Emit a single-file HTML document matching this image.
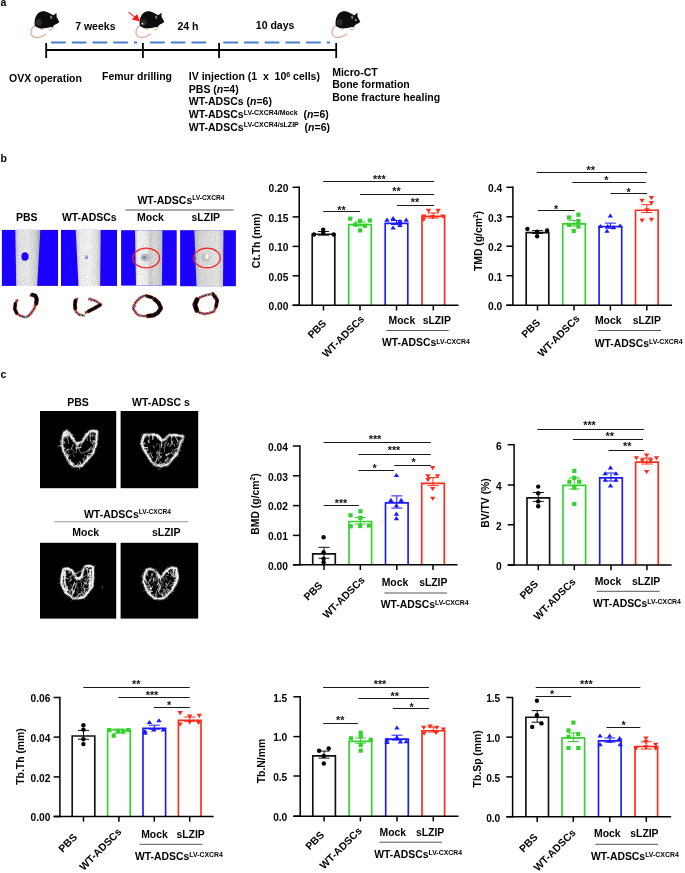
<!DOCTYPE html>
<html><head><meta charset="utf-8"><style>
html,body{margin:0;padding:0;background:#fff;}
svg{display:block;will-change:transform;}
text{font-family:"Liberation Sans",sans-serif;font-weight:bold;}
</style></head><body>
<svg width="685" height="873" viewBox="0 0 685 873">
<rect width="685" height="873" fill="#fff"/>
<text x="0.40" y="6.00" font-size="10.5" text-anchor="start" fill="#000" >a</text>
<g transform="translate(0.00,0.00)"><path d="M35.6,25.2 C32.6,27.2 30.4,30.8 31.1,34.0 C31.9,37.4 36.5,38.2 40.6,36.9 C42.6,36.2 44.3,35.2 45.6,34.2" fill="none" stroke="#e3ab98" stroke-width="1.25" stroke-linecap="round"/><ellipse cx="41.8" cy="28.9" rx="1.6" ry="0.9" fill="#e8b4a4"/><ellipse cx="50.6" cy="29.7" rx="1.5" ry="0.9" fill="#e8b4a4"/><ellipse cx="52.6" cy="27.9" rx="1.3" ry="0.8" fill="#e8b4a4"/><path d="M34.8,25.5 C34.0,21.0 35.3,15.6 38.4,13.0 C41.0,10.9 45.2,10.6 49.0,13.0 L53.4,15.3 L56.4,12.9 L56.6,17.0 C57.6,18.7 58.6,20.4 59.3,21.9 C58.1,23.3 56.1,24.2 53.8,25.3 L52.8,27.2 L51.2,27.0 C48.2,27.9 45.0,28.4 41.6,28.4 C38.6,28.4 36.1,27.3 34.8,25.5 Z" fill="#0d0d0d"/><ellipse cx="38.6" cy="22.4" rx="3.0" ry="3.4" fill="#303030" opacity="0.85"/><ellipse cx="51.2" cy="17.4" rx="1.1" ry="1.7" fill="#8a7a6a" transform="rotate(-15 51.2 17.4)"/><path d="M55.6,13.4 L56.4,12.9 L56.5,16.2 Z" fill="#6a6a6a"/></g>
<g transform="translate(105.00,-0.10)"><path d="M35.6,25.2 C32.6,27.2 30.4,30.8 31.1,34.0 C31.9,37.4 36.5,38.2 40.6,36.9 C42.6,36.2 44.3,35.2 45.6,34.2" fill="none" stroke="#e3ab98" stroke-width="1.25" stroke-linecap="round"/><ellipse cx="41.8" cy="28.9" rx="1.6" ry="0.9" fill="#e8b4a4"/><ellipse cx="50.6" cy="29.7" rx="1.5" ry="0.9" fill="#e8b4a4"/><ellipse cx="52.6" cy="27.9" rx="1.3" ry="0.8" fill="#e8b4a4"/><path d="M34.8,25.5 C34.0,21.0 35.3,15.6 38.4,13.0 C41.0,10.9 45.2,10.6 49.0,13.0 L53.4,15.3 L56.4,12.9 L56.6,17.0 C57.6,18.7 58.6,20.4 59.3,21.9 C58.1,23.3 56.1,24.2 53.8,25.3 L52.8,27.2 L51.2,27.0 C48.2,27.9 45.0,28.4 41.6,28.4 C38.6,28.4 36.1,27.3 34.8,25.5 Z" fill="#0d0d0d"/><ellipse cx="38.6" cy="22.4" rx="3.0" ry="3.4" fill="#303030" opacity="0.85"/><ellipse cx="51.2" cy="17.4" rx="1.1" ry="1.7" fill="#8a7a6a" transform="rotate(-15 51.2 17.4)"/><path d="M55.6,13.4 L56.4,12.9 L56.5,16.2 Z" fill="#6a6a6a"/><rect x="36.60" y="23.00" width="1.6" height="1.6" fill="#f4f4f4"/></g>
<g transform="translate(301.00,-0.10)"><path d="M35.6,25.2 C32.6,27.2 30.4,30.8 31.1,34.0 C31.9,37.4 36.5,38.2 40.6,36.9 C42.6,36.2 44.3,35.2 45.6,34.2" fill="none" stroke="#e3ab98" stroke-width="1.25" stroke-linecap="round"/><ellipse cx="41.8" cy="28.9" rx="1.6" ry="0.9" fill="#e8b4a4"/><ellipse cx="50.6" cy="29.7" rx="1.5" ry="0.9" fill="#e8b4a4"/><ellipse cx="52.6" cy="27.9" rx="1.3" ry="0.8" fill="#e8b4a4"/><path d="M34.8,25.5 C34.0,21.0 35.3,15.6 38.4,13.0 C41.0,10.9 45.2,10.6 49.0,13.0 L53.4,15.3 L56.4,12.9 L56.6,17.0 C57.6,18.7 58.6,20.4 59.3,21.9 C58.1,23.3 56.1,24.2 53.8,25.3 L52.8,27.2 L51.2,27.0 C48.2,27.9 45.0,28.4 41.6,28.4 C38.6,28.4 36.1,27.3 34.8,25.5 Z" fill="#0d0d0d"/><ellipse cx="38.6" cy="22.4" rx="3.0" ry="3.4" fill="#303030" opacity="0.85"/><ellipse cx="51.2" cy="17.4" rx="1.1" ry="1.7" fill="#8a7a6a" transform="rotate(-15 51.2 17.4)"/><path d="M55.6,13.4 L56.4,12.9 L56.5,16.2 Z" fill="#6a6a6a"/><rect x="54.2" y="19.4" width="1.3" height="1.5" fill="#eee"/></g>
<line x1="128.5" y1="12.1" x2="135.5" y2="17.6" stroke="#ff1a1a" stroke-width="1.1"/>
<path d="M140.2,21.6 L131.8,19.6 L137.0,14.0 Z" fill="#ff1a1a"/>
<line x1="51.1" y1="42.6" x2="137.0" y2="42.6" stroke="#4a7fcc" stroke-width="2" stroke-dasharray="14.7 6.0"/>
<line x1="150.1" y1="42.6" x2="206.9" y2="42.6" stroke="#4a7fcc" stroke-width="2" stroke-dasharray="14.7 6.0"/>
<line x1="223.3" y1="42.6" x2="330.0" y2="42.6" stroke="#4a7fcc" stroke-width="2" stroke-dasharray="14.7 6.0"/>
<line x1="45.50" y1="50.00" x2="336.50" y2="50.00" stroke="#000" stroke-width="1.8" />
<line x1="46.20" y1="43.00" x2="46.20" y2="58.00" stroke="#000" stroke-width="1.8" />
<line x1="142.90" y1="43.00" x2="142.90" y2="58.00" stroke="#000" stroke-width="1.8" />
<line x1="219.10" y1="43.00" x2="219.10" y2="58.00" stroke="#000" stroke-width="1.8" />
<line x1="336.20" y1="43.00" x2="336.20" y2="58.00" stroke="#000" stroke-width="1.8" />
<text x="75.20" y="29.80" font-size="10.5" text-anchor="start" fill="#000" >7 weeks</text>
<text x="177.40" y="29.80" font-size="10.5" text-anchor="start" fill="#000" >24 h</text>
<text x="255.80" y="29.30" font-size="10.5" text-anchor="start" fill="#000" >10 days</text>
<text x="9.00" y="81.50" font-size="10.5" text-anchor="start" fill="#000" >OVX operation</text>
<text x="102.00" y="79.70" font-size="10.5" text-anchor="start" fill="#000" >Femur drilling</text>
<text x="188.80" y="80.40" font-size="10.5" text-anchor="start" fill="#000" >IV injection (1&#160; x&#160; 10<tspan font-size="7" dy="-3.8">6</tspan><tspan dy="3.8"> cells)</tspan></text>
<text x="188.80" y="92.80" font-size="10.5" text-anchor="start" fill="#000" >PBS (<tspan font-style="italic">n</tspan>=4)</text>
<text x="188.80" y="105.40" font-size="10.5" text-anchor="start" fill="#000" >WT-ADSCs (<tspan font-style="italic">n</tspan>=6)</text>
<text x="188.80" y="118.20" font-size="10.5" text-anchor="start" fill="#000" >WT-ADSCs<tspan font-size="7" dy="-3.6">LV-CXCR4/Mock</tspan><tspan dy="3.6">&#160; (</tspan><tspan font-style="italic">n</tspan>=6)</text>
<text x="188.80" y="130.60" font-size="10.5" text-anchor="start" fill="#000" >WT-ADSCs<tspan font-size="7" dy="-3.6">LV-CXCR4/sLZIP</tspan><tspan dy="3.6">&#160; (</tspan><tspan font-style="italic">n</tspan>=6)</text>
<text x="332.20" y="75.90" font-size="10.5" text-anchor="start" fill="#000" >Micro-CT</text>
<text x="332.20" y="88.30" font-size="10.5" text-anchor="start" fill="#000" >Bone formation</text>
<text x="332.20" y="100.70" font-size="10.5" text-anchor="start" fill="#000" >Bone fracture healing</text>
<text x="0.40" y="162.00" font-size="10.5" text-anchor="start" fill="#000" >b</text>
<text x="26.70" y="221.20" font-size="10.5" text-anchor="middle" fill="#000" >PBS</text>
<text x="89.30" y="221.20" font-size="10.5" text-anchor="middle" fill="#000" >WT-ADSCs</text>
<text x="137.40" y="204.00" font-size="10.5" text-anchor="start" fill="#000" >WT-ADSCs<tspan font-size="6.6" dy="-4.2">LV-CXCR4</tspan></text>
<line x1="125.40" y1="210.00" x2="233.60" y2="210.00" stroke="#444" stroke-width="0.9" />
<text x="150.40" y="221.00" font-size="10.5" text-anchor="middle" fill="#000" >Mock</text>
<text x="205.80" y="221.00" font-size="10.5" text-anchor="middle" fill="#000" >sLZIP</text>
<defs>
<linearGradient id="bone1" x1="0" x2="1" y1="0" y2="0">
 <stop offset="0" stop-color="#c8c8c8"/><stop offset="0.15" stop-color="#e6e6e6"/><stop offset="0.5" stop-color="#ededed"/><stop offset="0.8" stop-color="#d8d8d8"/><stop offset="1" stop-color="#a8a8a8"/>
</linearGradient>
<linearGradient id="bone2" x1="0" x2="1" y1="0" y2="0">
 <stop offset="0" stop-color="#cfcfcf"/><stop offset="0.2" stop-color="#f2f2f2"/><stop offset="0.55" stop-color="#f7f7f7"/><stop offset="0.85" stop-color="#e4e4e4"/><stop offset="1" stop-color="#bdbdbd"/>
</linearGradient>
<linearGradient id="bone3" x1="0" x2="1" y1="0" y2="0">
 <stop offset="0" stop-color="#d0d0d0"/><stop offset="0.12" stop-color="#f8f8f8"/><stop offset="0.45" stop-color="#f0f0f0"/><stop offset="0.55" stop-color="#cfcfcf"/><stop offset="0.7" stop-color="#e0e0e0"/><stop offset="1" stop-color="#c4c4c4"/>
</linearGradient>
<linearGradient id="bone4" x1="0" x2="1" y1="0" y2="0">
 <stop offset="0" stop-color="#bdbdbd"/><stop offset="0.2" stop-color="#dadada"/><stop offset="0.5" stop-color="#e2e2e2"/><stop offset="0.8" stop-color="#e8e8e8"/><stop offset="1" stop-color="#c8c8c8"/>
</linearGradient>
</defs>
<defs><filter id="speck" x="0" y="0" width="1" height="1">
<feTurbulence type="fractalNoise" baseFrequency="0.9" numOctaves="2" seed="3" result="n"/>
<feColorMatrix in="n" type="matrix" values="0 0 0 0 0  0 0 0 0 0  0 0 0 0 0  0 0 0 -2.2 1.35" result="m"/>
<feComposite in="m" in2="SourceGraphic" operator="in"/>
</filter></defs>
<rect x="1.9" y="229.9" width="56.10" height="56.00" fill="#1b00ff"/>
<path d="M15.3,229.9 L40.3,229.9 L37.2,285.9 L16.2,285.9 Z" fill="url(#bone1)"/>
<path d="M15.3,229.9 L40.3,229.9 L37.2,285.9 L16.2,285.9 Z" fill="#000" opacity="0.13" filter="url(#speck)"/>
<ellipse cx="25.0" cy="256.5" rx="3.6" ry="4.3" fill="#1b00ff"/>
<rect x="61.0" y="229.9" width="56.00" height="56.00" fill="#1b00ff"/>
<path d="M75.7,229.9 L100.7,229.9 L100.2,285.9 L78.5,285.9 Z" fill="url(#bone2)"/>
<path d="M75.7,229.9 L100.7,229.9 L100.2,285.9 L78.5,285.9 Z" fill="#000" opacity="0.13" filter="url(#speck)"/>
<path d="M85.5,254 l1,4 l1.5,-3 l-0.5,3.5 l-2,0.5 z" fill="#3a3af0"/>
<rect x="121.1" y="230.2" width="55.60" height="55.40" fill="#1b00ff"/>
<path d="M135.0,230.2 L162.4,230.2 L162.0,285.6 L136.0,285.6 Z" fill="url(#bone3)"/>
<path d="M135.0,230.2 L162.4,230.2 L162.0,285.6 L136.0,285.6 Z" fill="#000" opacity="0.13" filter="url(#speck)"/>
<ellipse cx="145.5" cy="257.5" rx="5" ry="4" fill="#b8b8c0"/>
<ellipse cx="144.5" cy="257.5" rx="2" ry="1.5" fill="#8080b0"/>
<rect x="180.1" y="230.2" width="55.80" height="56.00" fill="#1b00ff"/>
<path d="M194.3,230.2 L223.5,230.2 L223.0,286.2 L196.5,286.2 Z" fill="url(#bone4)"/>
<path d="M194.3,230.2 L223.5,230.2 L223.0,286.2 L196.5,286.2 Z" fill="#000" opacity="0.13" filter="url(#speck)"/>
<ellipse cx="206" cy="257.5" rx="4.5" ry="4" fill="#c0c0c0"/>
<ellipse cx="207" cy="256.5" rx="2" ry="2.5" fill="#f4f4f4"/>
<ellipse cx="146.3" cy="258" rx="13.3" ry="9.8" fill="none" stroke="#ff2020" stroke-width="1.3"/>
<ellipse cx="207.0" cy="258" rx="13.3" ry="9.8" fill="none" stroke="#ff2020" stroke-width="1.3"/>
<path d="M17.3,300.2 L15.2,304.0 L14.4,309.0 L16.5,313.5 L20.2,315.5 L24.0,317.0 L27.5,317.0 L31.0,313.5 L34.1,309.0 L36.3,303.0 L36.8,298.8 L35.5,295.5 L33.4,294.4 L30.6,295.6" fill="none" stroke="#e0703a" stroke-width="2.6" stroke-linejoin="round" stroke-linecap="round"/>
<path d="M17.3,300.2 L15.2,304.0 L14.4,309.0 L16.5,313.5 L20.2,315.5 L24.0,317.0 L27.5,317.0 L31.0,313.5 L34.1,309.0 L36.3,303.0 L36.8,298.8 L35.5,295.5 L33.4,294.4 L30.6,295.6" fill="none" stroke="#401808" stroke-width="1.0" stroke-linejoin="round" stroke-linecap="round" stroke-dasharray="2 1.5"/>
<path d="M17.3,300.2 L15.2,304.0 L14.4,309.0 L16.5,313.5 L20.2,315.5 L24.0,317.0 L27.5,317.0 L31.0,313.5 L34.1,309.0 L36.3,303.0 L36.8,298.8 L35.5,295.5 L33.4,294.4 L30.6,295.6" fill="none" stroke="#5a4aff" stroke-width="1.1" stroke-dasharray="1.2 1.8" transform="translate(-1.1,-0.5)"/>
<path d="M36.2,303.5 L36.7,299.0 L35.3,295.8 L32.5,294.8" fill="none" stroke="#b04a20" stroke-width="4.4" stroke-linejoin="round" stroke-linecap="round"/>
<path d="M36.2,303.5 L36.7,299.0 L35.3,295.8 L32.5,294.8" fill="none" stroke="#000" stroke-width="3.4" stroke-linejoin="round" stroke-linecap="round"/>
<path d="M15.4,303.5 L14.8,309.0 L16.8,313.2" fill="none" stroke="#b04a20" stroke-width="3.6" stroke-linejoin="round" stroke-linecap="round"/>
<path d="M15.4,303.5 L14.8,309.0 L16.8,313.2" fill="none" stroke="#000" stroke-width="2.6" stroke-linejoin="round" stroke-linecap="round"/>
<path d="M17.3,300.2 L15.2,304.0 L14.4,309.0 L16.5,313.5 L20.2,315.5 L24.0,317.0 L27.5,317.0 L31.0,313.5 L34.1,309.0 L36.3,303.0 L36.8,298.8 L35.5,295.5 L33.4,294.4 L30.6,295.6" fill="none" stroke="#3a3aff" stroke-width="0.9" stroke-dasharray="1.2 3.5" transform="translate(-0.9,0.6)"/>
<rect x="25.0" y="316.3" width="1.2" height="1.2" fill="#40ff90"/>
<rect x="27.0" y="316.8" width="1.2" height="1.2" fill="#40ff90"/>
<rect x="22.5" y="316.5" width="1.2" height="1.2" fill="#5050ff"/>
<path d="M77.2,298.8 L74.6,302.0 L74.6,307.0 L75.9,311.6 L79.0,314.5 L83.7,315.5" fill="none" stroke="#e0703a" stroke-width="2.6" stroke-linejoin="round" stroke-linecap="round"/>
<path d="M77.2,298.8 L74.6,302.0 L74.6,307.0 L75.9,311.6 L79.0,314.5 L83.7,315.5" fill="none" stroke="#401808" stroke-width="1.0" stroke-linejoin="round" stroke-linecap="round" stroke-dasharray="2 1.5"/>
<path d="M77.2,298.8 L74.6,302.0 L74.6,307.0 L75.9,311.6 L79.0,314.5 L83.7,315.5" fill="none" stroke="#5a4aff" stroke-width="1.1" stroke-dasharray="1.2 1.8" transform="translate(-1.1,-0.5)"/>
<path d="M75.6,300.5 L74.9,304.0 L75.3,308.5" fill="none" stroke="#b04a20" stroke-width="4.0" stroke-linejoin="round" stroke-linecap="round"/>
<path d="M75.6,300.5 L74.9,304.0 L75.3,308.5" fill="none" stroke="#000" stroke-width="3.0" stroke-linejoin="round" stroke-linecap="round"/>
<path d="M77.2,298.8 L74.6,302.0 L74.6,307.0 L75.9,311.6 L79.0,314.5 L83.7,315.5" fill="none" stroke="#3a3aff" stroke-width="0.9" stroke-dasharray="1.2 3.5" transform="translate(-0.9,0.6)"/>
<rect x="80.5" y="314.6" width="1.2" height="1.2" fill="#40ff90"/>
<rect x="83.5" y="315.0" width="1.2" height="1.2" fill="#40ff90"/>
<path d="M85.9,312.6 L92.0,309.5 L97.0,307.0 L101.2,304.6 L96.0,301.0 L89.6,298.8" fill="none" stroke="#e0703a" stroke-width="2.6" stroke-linejoin="round" stroke-linecap="round"/>
<path d="M85.9,312.6 L92.0,309.5 L97.0,307.0 L101.2,304.6 L96.0,301.0 L89.6,298.8" fill="none" stroke="#401808" stroke-width="1.0" stroke-linejoin="round" stroke-linecap="round" stroke-dasharray="2 1.5"/>
<path d="M85.9,312.6 L92.0,309.5 L97.0,307.0 L101.2,304.6 L96.0,301.0 L89.6,298.8" fill="none" stroke="#5a4aff" stroke-width="1.1" stroke-dasharray="1.2 1.8" transform="translate(-1.1,-0.5)"/>
<path d="M88.5,311.2 L94.0,308.5 L100.0,305.0" fill="none" stroke="#b04a20" stroke-width="3.8" stroke-linejoin="round" stroke-linecap="round"/>
<path d="M88.5,311.2 L94.0,308.5 L100.0,305.0" fill="none" stroke="#000" stroke-width="2.8" stroke-linejoin="round" stroke-linecap="round"/>
<path d="M85.9,312.6 L92.0,309.5 L97.0,307.0 L101.2,304.6 L96.0,301.0 L89.6,298.8" fill="none" stroke="#3a3aff" stroke-width="0.9" stroke-dasharray="1.2 3.5" transform="translate(-0.9,0.6)"/>
<rect x="88.0" y="299.5" width="1.2" height="1.2" fill="#a040ff"/>
<rect x="91.0" y="300.5" width="1.2" height="1.2" fill="#a040ff"/>
<path d="M144.0,295.8 L150.0,296.5 L154.2,298.8 L158.5,302.5 L161.3,308.2 L158.0,313.0 L154.2,315.3 L146.9,316.1 L141.0,315.8 L137.4,314.6 L134.0,310.0 L133.3,307.0 L136.0,302.0 L140.0,298.0 Z" fill="none" stroke="#e0703a" stroke-width="2.6" stroke-linejoin="round" stroke-linecap="round"/>
<path d="M144.0,295.8 L150.0,296.5 L154.2,298.8 L158.5,302.5 L161.3,308.2 L158.0,313.0 L154.2,315.3 L146.9,316.1 L141.0,315.8 L137.4,314.6 L134.0,310.0 L133.3,307.0 L136.0,302.0 L140.0,298.0 Z" fill="none" stroke="#401808" stroke-width="1.0" stroke-linejoin="round" stroke-linecap="round" stroke-dasharray="2 1.5"/>
<path d="M144.0,295.8 L150.0,296.5 L154.2,298.8 L158.5,302.5 L161.3,308.2 L158.0,313.0 L154.2,315.3 L146.9,316.1 L141.0,315.8 L137.4,314.6 L134.0,310.0 L133.3,307.0 L136.0,302.0 L140.0,298.0 Z" fill="none" stroke="#5a4aff" stroke-width="1.1" stroke-dasharray="1.2 1.8" transform="translate(-1.1,-0.5)"/>
<path d="M154.2,299.0 L158.5,302.8 L161.0,308.2 L157.8,312.8 L153.8,315.2 L148.0,316.0" fill="none" stroke="#b04a20" stroke-width="4.4" stroke-linejoin="round" stroke-linecap="round"/>
<path d="M154.2,299.0 L158.5,302.8 L161.0,308.2 L157.8,312.8 L153.8,315.2 L148.0,316.0" fill="none" stroke="#000" stroke-width="3.4" stroke-linejoin="round" stroke-linecap="round"/>
<path d="M146.5,296.0 L152.0,297.5" fill="none" stroke="#b04a20" stroke-width="3.4" stroke-linejoin="round" stroke-linecap="round"/>
<path d="M146.5,296.0 L152.0,297.5" fill="none" stroke="#000" stroke-width="2.4" stroke-linejoin="round" stroke-linecap="round"/>
<path d="M144.0,295.8 L150.0,296.5 L154.2,298.8 L158.5,302.5 L161.3,308.2 L158.0,313.0 L154.2,315.3 L146.9,316.1 L141.0,315.8 L137.4,314.6 L134.0,310.0 L133.3,307.0 L136.0,302.0 L140.0,298.0 Z" fill="none" stroke="#3a3aff" stroke-width="0.9" stroke-dasharray="1.2 3.5" transform="translate(-0.9,0.6)"/>
<rect x="139.5" y="315.2" width="1.2" height="1.2" fill="#40ff90"/>
<rect x="145.0" y="296.2" width="1.2" height="1.2" fill="#40ff90"/>
<rect x="135.0" y="306.0" width="1.2" height="1.2" fill="#5050ff"/>
<path d="M194.5,304.6 L197.0,300.0 L201.0,297.0 L206.8,295.1 L212.6,293.8 L216.0,296.0 L217.5,300.2 L216.5,306.0 L214.0,311.6 L209.0,313.3 L203.8,313.9 L199.0,312.3 L196.5,310.2 L194.7,307.0 Z" fill="none" stroke="#e0703a" stroke-width="2.6" stroke-linejoin="round" stroke-linecap="round"/>
<path d="M194.5,304.6 L197.0,300.0 L201.0,297.0 L206.8,295.1 L212.6,293.8 L216.0,296.0 L217.5,300.2 L216.5,306.0 L214.0,311.6 L209.0,313.3 L203.8,313.9 L199.0,312.3 L196.5,310.2 L194.7,307.0 Z" fill="none" stroke="#401808" stroke-width="1.0" stroke-linejoin="round" stroke-linecap="round" stroke-dasharray="2 1.5"/>
<path d="M194.5,304.6 L197.0,300.0 L201.0,297.0 L206.8,295.1 L212.6,293.8 L216.0,296.0 L217.5,300.2 L216.5,306.0 L214.0,311.6 L209.0,313.3 L203.8,313.9 L199.0,312.3 L196.5,310.2 L194.7,307.0 Z" fill="none" stroke="#5a4aff" stroke-width="1.1" stroke-dasharray="1.2 1.8" transform="translate(-1.1,-0.5)"/>
<path d="M197.0,299.6 L194.8,304.6 L196.8,310.5" fill="none" stroke="#b04a20" stroke-width="5.0" stroke-linejoin="round" stroke-linecap="round"/>
<path d="M197.0,299.6 L194.8,304.6 L196.8,310.5" fill="none" stroke="#000" stroke-width="4.0" stroke-linejoin="round" stroke-linecap="round"/>
<path d="M212.8,294.0 L217.2,300.2 L216.0,306.5" fill="none" stroke="#b04a20" stroke-width="3.8" stroke-linejoin="round" stroke-linecap="round"/>
<path d="M212.8,294.0 L217.2,300.2 L216.0,306.5" fill="none" stroke="#000" stroke-width="2.8" stroke-linejoin="round" stroke-linecap="round"/>
<path d="M194.5,304.6 L197.0,300.0 L201.0,297.0 L206.8,295.1 L212.6,293.8 L216.0,296.0 L217.5,300.2 L216.5,306.0 L214.0,311.6 L209.0,313.3 L203.8,313.9 L199.0,312.3 L196.5,310.2 L194.7,307.0 Z" fill="none" stroke="#3a3aff" stroke-width="0.9" stroke-dasharray="1.2 3.5" transform="translate(-0.9,0.6)"/>
<rect x="207.0" y="294.6" width="1.2" height="1.2" fill="#40ff90"/>
<rect x="211.0" y="293.2" width="1.2" height="1.2" fill="#40ff90"/>
<rect x="205.0" y="315.2" width="1.2" height="1.2" fill="#40ff90"/>
<rect x="213.5" y="298.0" width="1.2" height="1.2" fill="#5050ff"/>
<text x="0.40" y="377.90" font-size="10.5" text-anchor="start" fill="#000" >c</text>
<text x="78.00" y="405.90" font-size="10.5" text-anchor="middle" fill="#000" >PBS</text>
<text x="132.00" y="406.30" font-size="10.5" text-anchor="start" fill="#000" >WT-ADSC s</text>
<rect x="40" y="411" width="76.2" height="77.2" fill="#000"/>
<rect x="120.6" y="411" width="77.6" height="77.2" fill="#000"/>
<text x="83.90" y="517.90" font-size="10.5" text-anchor="start" fill="#000" >WT-ADSCs<tspan font-size="6.6" dy="-4.2">LV-CXCR4</tspan></text>
<line x1="54.20" y1="521.80" x2="188.20" y2="521.80" stroke="#999" stroke-width="1.1" />
<text x="85.70" y="536.00" font-size="10.5" text-anchor="middle" fill="#000" >Mock</text>
<text x="166.20" y="536.00" font-size="10.5" text-anchor="middle" fill="#000" >sLZIP</text>
<rect x="40" y="542.8" width="76.2" height="75.8" fill="#000"/>
<rect x="120.6" y="542.8" width="77.6" height="75.8" fill="#000"/>
<path d="M64.2,432.3 L62.5,438.0 L61.9,444.7 L64.0,452.0 L68.1,460.4 L72.6,466.0 L78.0,466.5 L82.7,465.5 L88.0,459.0 L92.8,453.7 L95.5,446.0 L96.7,439.1 L97.3,431.8 L93.5,430.5 L89.4,431.8 L86.0,436.0 L82.7,441.3 L77.1,444.1 L74.0,441.0 L72.6,438.0 L69.0,433.0 L66.5,431.0 Z" fill="none" stroke="#fff" stroke-width="3.5" stroke-opacity="0.3" stroke-linejoin="round"/><path d="M64.2,432.3 L64.1,433.7 L63.4,435.2" fill="none" stroke="#fff" stroke-width="1.0" stroke-opacity="0.85" stroke-linejoin="round" stroke-linecap="round"/><path d="M63.4,435.2 L62.7,436.6 L62.6,438.2 L62.1,439.2 L61.9,440.9 L62.3,441.7 L62.4,443.7" fill="none" stroke="#fff" stroke-width="1.0" stroke-opacity="0.85" stroke-linejoin="round" stroke-linecap="round"/><path d="M62.4,443.7 L62.0,444.8 L62.0,445.5 L62.6,446.8 L62.7,448.1 L62.9,449.5 L63.6,451.1" fill="none" stroke="#fff" stroke-width="1.0" stroke-opacity="0.85" stroke-linejoin="round" stroke-linecap="round"/><path d="M63.6,451.1 L64.0,452.1 L64.6,453.3" fill="none" stroke="#fff" stroke-width="1.0" stroke-opacity="0.85" stroke-linejoin="round" stroke-linecap="round"/><path d="M64.6,453.3 L65.1,454.2 L66.2,456.0 L66.6,457.0 L66.8,457.8 L67.3,458.9 L68.3,460.3 L69.3,461.4" fill="none" stroke="#fff" stroke-width="1.0" stroke-opacity="0.85" stroke-linejoin="round" stroke-linecap="round"/><path d="M69.3,461.4 L70.3,462.9 L70.4,463.5 L72.0,464.9 L73.0,465.9 L73.6,466.2 L75.5,466.1" fill="none" stroke="#fff" stroke-width="1.0" stroke-opacity="0.85" stroke-linejoin="round" stroke-linecap="round"/><path d="M75.5,466.1 L76.3,466.2 L78.4,466.7 L78.9,466.0 L80.0,465.6 L81.8,465.5" fill="none" stroke="#fff" stroke-width="1.0" stroke-opacity="0.85" stroke-linejoin="round" stroke-linecap="round"/><path d="M81.8,465.5 L82.7,465.5 L83.3,464.6" fill="none" stroke="#fff" stroke-width="1.0" stroke-opacity="0.85" stroke-linejoin="round" stroke-linecap="round"/><path d="M83.3,464.6 L84.2,463.4 L85.0,462.2 L86.0,461.0" fill="none" stroke="#fff" stroke-width="1.0" stroke-opacity="0.85" stroke-linejoin="round" stroke-linecap="round"/><path d="M86.0,461.0 L87.5,460.3 L87.8,459.3 L88.7,457.9" fill="none" stroke="#fff" stroke-width="1.0" stroke-opacity="0.85" stroke-linejoin="round" stroke-linecap="round"/><path d="M88.7,457.9 L90.2,457.0 L90.6,456.2 L91.6,454.6 L93.0,453.6" fill="none" stroke="#fff" stroke-width="1.0" stroke-opacity="0.85" stroke-linejoin="round" stroke-linecap="round"/><path d="M93.0,453.6 L93.1,452.1 L93.4,451.2 L93.9,449.9 L94.5,448.5 L95.4,447.3" fill="none" stroke="#fff" stroke-width="1.0" stroke-opacity="0.85" stroke-linejoin="round" stroke-linecap="round"/><path d="M95.4,447.3 L95.6,446.3 L95.5,444.3 L96.3,443.5" fill="none" stroke="#fff" stroke-width="1.0" stroke-opacity="0.85" stroke-linejoin="round" stroke-linecap="round"/><path d="M96.3,443.5 L96.0,441.6 L96.7,440.8 L96.5,439.5 L97.1,438.0 L96.8,436.3 L96.6,435.8 L96.9,434.4" fill="none" stroke="#fff" stroke-width="1.0" stroke-opacity="0.85" stroke-linejoin="round" stroke-linecap="round"/><path d="M96.9,434.4 L97.0,433.3 L97.4,431.6 L95.8,431.5 L94.4,430.7 L93.5,430.8 L92.2,430.8 L91.1,431.1" fill="none" stroke="#fff" stroke-width="1.0" stroke-opacity="0.85" stroke-linejoin="round" stroke-linecap="round"/><path d="M87.4,433.8 L86.9,434.7 L85.9,436.3 L85.7,437.2 L84.8,438.2 L83.7,438.8" fill="none" stroke="#fff" stroke-width="1.0" stroke-opacity="0.85" stroke-linejoin="round" stroke-linecap="round"/><path d="M83.7,438.8 L83.0,440.6 L82.9,441.7 L81.2,442.0 L80.4,442.6" fill="none" stroke="#fff" stroke-width="1.0" stroke-opacity="0.85" stroke-linejoin="round" stroke-linecap="round"/><path d="M80.4,442.6 L79.2,443.4 L77.9,443.6 L77.3,444.4" fill="none" stroke="#fff" stroke-width="1.0" stroke-opacity="0.85" stroke-linejoin="round" stroke-linecap="round"/><path d="M77.3,444.4 L76.3,443.2 L75.3,442.4" fill="none" stroke="#fff" stroke-width="1.0" stroke-opacity="0.85" stroke-linejoin="round" stroke-linecap="round"/><path d="M75.3,442.4 L73.9,441.1 L73.6,439.8 L72.5,438.2 L72.2,437.1" fill="none" stroke="#fff" stroke-width="1.0" stroke-opacity="0.85" stroke-linejoin="round" stroke-linecap="round"/><path d="M72.2,437.1 L71.3,435.9 L70.5,435.1" fill="none" stroke="#fff" stroke-width="1.0" stroke-opacity="0.85" stroke-linejoin="round" stroke-linecap="round"/><path d="M66.7,431.1 L65.3,431.9" fill="none" stroke="#fff" stroke-width="1.0" stroke-opacity="0.85" stroke-linejoin="round" stroke-linecap="round"/><path d="M64.2,432.6 L64.2,434.3 L63.6,434.8 L63.5,436.2 L62.7,438.3" fill="none" stroke="#fff" stroke-width="0.9" stroke-opacity="0.75" stroke-linejoin="round" stroke-linecap="round"/><path d="M62.8,446.8 L61.9,446.4 L63.0,448.6 L63.1,448.8 L63.1,451.4" fill="none" stroke="#fff" stroke-width="0.9" stroke-opacity="0.75" stroke-linejoin="round" stroke-linecap="round"/><path d="M68.1,459.6 L67.6,460.2 L69.7,461.3" fill="none" stroke="#fff" stroke-width="0.9" stroke-opacity="0.75" stroke-linejoin="round" stroke-linecap="round"/><path d="M69.7,461.3 L69.8,462.1 L71.5,462.9" fill="none" stroke="#fff" stroke-width="0.9" stroke-opacity="0.75" stroke-linejoin="round" stroke-linecap="round"/><path d="M78.8,465.8 L78.7,466.1 L79.6,465.7 L82.4,466.5 L82.3,465.9 L82.7,464.4 L83.6,463.0" fill="none" stroke="#fff" stroke-width="0.9" stroke-opacity="0.75" stroke-linejoin="round" stroke-linecap="round"/><path d="M83.6,463.0 L85.2,461.8 L87.0,460.7 L87.8,460.0" fill="none" stroke="#fff" stroke-width="0.9" stroke-opacity="0.75" stroke-linejoin="round" stroke-linecap="round"/><path d="M87.8,460.0 L87.2,459.1 L89.3,458.7 L89.9,457.8" fill="none" stroke="#fff" stroke-width="0.9" stroke-opacity="0.75" stroke-linejoin="round" stroke-linecap="round"/><path d="M93.5,453.8 L93.6,452.9 L93.6,451.2 L94.7,450.0 L94.0,448.6 L95.8,446.8 L95.8,446.8 L96.4,444.8" fill="none" stroke="#fff" stroke-width="0.9" stroke-opacity="0.75" stroke-linejoin="round" stroke-linecap="round"/><path d="M96.4,444.8 L95.6,442.6 L96.3,441.5" fill="none" stroke="#fff" stroke-width="0.9" stroke-opacity="0.75" stroke-linejoin="round" stroke-linecap="round"/><path d="M96.3,441.5 L96.5,440.3 L96.0,438.2 L96.6,438.0 L96.1,437.4 L97.1,436.3 L96.4,433.5 L96.6,433.8" fill="none" stroke="#fff" stroke-width="0.9" stroke-opacity="0.75" stroke-linejoin="round" stroke-linecap="round"/><path d="M96.6,433.8 L97.2,432.6 L96.6,431.2" fill="none" stroke="#fff" stroke-width="0.9" stroke-opacity="0.75" stroke-linejoin="round" stroke-linecap="round"/><path d="M96.6,431.2 L94.3,430.9 L93.2,431.2 L92.9,431.7 L90.8,430.7 L89.3,431.0" fill="none" stroke="#fff" stroke-width="0.9" stroke-opacity="0.75" stroke-linejoin="round" stroke-linecap="round"/><path d="M89.3,431.0 L88.1,433.2 L88.6,433.1 L86.2,434.1 L85.6,436.4" fill="none" stroke="#fff" stroke-width="0.9" stroke-opacity="0.75" stroke-linejoin="round" stroke-linecap="round"/><path d="M85.6,436.4 L84.9,437.1 L84.7,438.3 L84.7,439.4 L83.8,440.6 L83.4,440.4 L81.8,442.4" fill="none" stroke="#fff" stroke-width="0.9" stroke-opacity="0.75" stroke-linejoin="round" stroke-linecap="round"/><path d="M73.4,441.2 L74.0,439.0 L73.1,437.5 L71.2,437.7" fill="none" stroke="#fff" stroke-width="0.9" stroke-opacity="0.75" stroke-linejoin="round" stroke-linecap="round"/><path d="M71.2,437.7 L70.5,435.3 L70.2,434.9 L70.5,434.1 L69.4,432.5 L68.0,432.5" fill="none" stroke="#fff" stroke-width="0.9" stroke-opacity="0.75" stroke-linejoin="round" stroke-linecap="round"/><path d="M68.0,432.5 L65.8,431.1 L65.1,432.2" fill="none" stroke="#fff" stroke-width="0.9" stroke-opacity="0.75" stroke-linejoin="round" stroke-linecap="round"/><path d="M61.5,443.1 L62.7,444.1 L62.7,444.5 L63.3,446.9 L63.1,447.8 L63.6,448.1 L63.9,448.5 L63.2,450.7" fill="none" stroke="#fff" stroke-width="0.7" stroke-opacity="0.6" stroke-linejoin="round" stroke-linecap="round"/><path d="M63.2,450.7 L62.7,451.6 L64.9,453.5 L64.5,455.6" fill="none" stroke="#fff" stroke-width="0.7" stroke-opacity="0.6" stroke-linejoin="round" stroke-linecap="round"/><path d="M80.0,465.1 L80.6,466.7 L80.3,466.9 L81.8,465.4 L82.7,464.4 L84.8,462.2 L86.5,462.0" fill="none" stroke="#fff" stroke-width="0.7" stroke-opacity="0.6" stroke-linejoin="round" stroke-linecap="round"/><path d="M90.9,455.4 L92.5,454.7 L93.9,451.2 L95.0,452.3 L93.0,450.9 L94.4,448.5" fill="none" stroke="#fff" stroke-width="0.7" stroke-opacity="0.6" stroke-linejoin="round" stroke-linecap="round"/><path d="M94.4,448.5 L96.3,446.6 L95.6,447.1 L96.3,444.5 L97.2,444.1" fill="none" stroke="#fff" stroke-width="0.7" stroke-opacity="0.6" stroke-linejoin="round" stroke-linecap="round"/><path d="M97.2,444.1 L96.5,440.9 L96.8,440.4 L95.9,437.9" fill="none" stroke="#fff" stroke-width="0.7" stroke-opacity="0.6" stroke-linejoin="round" stroke-linecap="round"/><path d="M96.6,430.7 L93.8,432.0 L94.2,430.8 L91.8,430.3" fill="none" stroke="#fff" stroke-width="0.7" stroke-opacity="0.6" stroke-linejoin="round" stroke-linecap="round"/><path d="M91.8,430.3 L91.2,431.5 L89.6,432.1 L89.2,432.0 L87.0,435.1" fill="none" stroke="#fff" stroke-width="0.7" stroke-opacity="0.6" stroke-linejoin="round" stroke-linecap="round"/><path d="M87.0,435.1 L87.9,435.9 L84.8,434.9 L84.7,436.9 L85.0,437.1 L84.1,438.1 L82.3,440.7 L82.8,441.6" fill="none" stroke="#fff" stroke-width="0.7" stroke-opacity="0.6" stroke-linejoin="round" stroke-linecap="round"/><path d="M77.9,444.4 L76.8,442.3 L74.8,441.4 L74.8,440.7 L73.7,440.8 L72.1,438.1 L72.5,438.1 L71.0,435.7" fill="none" stroke="#fff" stroke-width="0.7" stroke-opacity="0.6" stroke-linejoin="round" stroke-linecap="round"/><path d="M71.0,435.7 L69.4,436.0 L68.6,432.9 L69.2,433.0 L68.2,431.5 L67.2,429.9" fill="none" stroke="#fff" stroke-width="0.7" stroke-opacity="0.6" stroke-linejoin="round" stroke-linecap="round"/><path d="M67.2,429.9 L64.6,432.1" fill="none" stroke="#fff" stroke-width="0.7" stroke-opacity="0.6" stroke-linejoin="round" stroke-linecap="round"/><path d="M63.0,433.2 L65.1,432.9 L61.6,435.2 L63.1,436.8 L64.2,438.5 L63.5,437.8" fill="none" stroke="#fff" stroke-width="0.5" stroke-opacity="0.45" stroke-linejoin="round" stroke-linecap="round"/><path d="M63.5,437.8 L62.4,441.7 L60.6,440.5" fill="none" stroke="#fff" stroke-width="0.5" stroke-opacity="0.45" stroke-linejoin="round" stroke-linecap="round"/><path d="M60.6,440.5 L62.9,444.8 L60.4,445.2" fill="none" stroke="#fff" stroke-width="0.5" stroke-opacity="0.45" stroke-linejoin="round" stroke-linecap="round"/><path d="M60.4,445.2 L61.0,446.8 L63.1,446.2" fill="none" stroke="#fff" stroke-width="0.5" stroke-opacity="0.45" stroke-linejoin="round" stroke-linecap="round"/><path d="M63.1,446.2 L61.9,449.3 L63.4,450.5" fill="none" stroke="#fff" stroke-width="0.5" stroke-opacity="0.45" stroke-linejoin="round" stroke-linecap="round"/><path d="M71.0,462.4 L70.5,462.5 L72.6,466.6 L72.2,464.8 L72.9,465.9 L74.6,467.9" fill="none" stroke="#fff" stroke-width="0.5" stroke-opacity="0.45" stroke-linejoin="round" stroke-linecap="round"/><path d="M81.8,467.2 L81.0,464.1 L82.4,463.4 L83.5,464.1 L85.7,461.3 L85.1,460.4 L85.9,461.0 L87.3,459.2" fill="none" stroke="#fff" stroke-width="0.5" stroke-opacity="0.45" stroke-linejoin="round" stroke-linecap="round"/><path d="M87.3,459.2 L90.1,457.9 L89.1,458.3 L92.4,455.3 L92.0,456.4 L92.7,452.7 L91.6,454.0 L94.8,450.7" fill="none" stroke="#fff" stroke-width="0.5" stroke-opacity="0.45" stroke-linejoin="round" stroke-linecap="round"/><path d="M95.6,446.3 L93.7,445.9 L95.3,445.7 L96.7,443.6 L95.0,440.6 L95.8,439.6 L98.0,439.2" fill="none" stroke="#fff" stroke-width="0.5" stroke-opacity="0.45" stroke-linejoin="round" stroke-linecap="round"/><path d="M98.0,439.2 L97.3,439.7 L96.1,436.8 L95.7,436.4 L95.3,435.4" fill="none" stroke="#fff" stroke-width="0.5" stroke-opacity="0.45" stroke-linejoin="round" stroke-linecap="round"/><path d="M95.3,435.4 L98.4,434.2 L95.8,431.0 L96.8,429.9 L94.7,430.8" fill="none" stroke="#fff" stroke-width="0.5" stroke-opacity="0.45" stroke-linejoin="round" stroke-linecap="round"/><path d="M94.7,430.8 L95.1,430.8 L93.4,430.2 L91.8,431.1 L90.9,430.3 L89.7,431.8" fill="none" stroke="#fff" stroke-width="0.5" stroke-opacity="0.45" stroke-linejoin="round" stroke-linecap="round"/><path d="M89.7,431.8 L87.9,434.0 L85.6,436.1 L85.3,435.3 L83.8,436.4 L84.6,438.9" fill="none" stroke="#fff" stroke-width="0.5" stroke-opacity="0.45" stroke-linejoin="round" stroke-linecap="round"/><path d="M80.1,442.0 L78.5,443.4 L75.3,445.9 L77.1,442.0" fill="none" stroke="#fff" stroke-width="0.5" stroke-opacity="0.45" stroke-linejoin="round" stroke-linecap="round"/><path d="M72.0,435.4 L72.0,435.2 L70.5,433.4 L70.2,431.5 L66.5,430.5 L67.1,431.7 L64.2,431.3" fill="none" stroke="#fff" stroke-width="0.5" stroke-opacity="0.45" stroke-linejoin="round" stroke-linecap="round"/><line x1="65.8" y1="455.6" x2="67.8" y2="454.4" stroke="#fff" stroke-width="1.06" stroke-opacity="0.95" stroke-linecap="round"/><line x1="71.2" y1="436.0" x2="71.3" y2="438.4" stroke="#fff" stroke-width="1.07" stroke-opacity="0.76" stroke-linecap="round"/><line x1="70.8" y1="463.8" x2="72.5" y2="462.5" stroke="#fff" stroke-width="0.79" stroke-opacity="0.66" stroke-linecap="round"/><line x1="89.0" y1="457.9" x2="84.2" y2="454.8" stroke="#fff" stroke-width="0.72" stroke-opacity="0.68" stroke-linecap="round"/><line x1="64.0" y1="452.0" x2="68.1" y2="449.5" stroke="#fff" stroke-width="0.64" stroke-opacity="0.73" stroke-linecap="round"/><line x1="89.4" y1="431.8" x2="86.5" y2="434.6" stroke="#fff" stroke-width="0.66" stroke-opacity="0.90" stroke-linecap="round"/><line x1="89.0" y1="457.9" x2="88.1" y2="456.1" stroke="#fff" stroke-width="0.99" stroke-opacity="0.59" stroke-linecap="round"/><line x1="92.8" y1="453.7" x2="88.7" y2="453.5" stroke="#fff" stroke-width="1.00" stroke-opacity="0.54" stroke-linecap="round"/><line x1="88.6" y1="432.9" x2="85.1" y2="433.8" stroke="#fff" stroke-width="0.74" stroke-opacity="0.84" stroke-linecap="round"/><line x1="76.1" y1="443.1" x2="80.9" y2="442.0" stroke="#fff" stroke-width="1.01" stroke-opacity="0.90" stroke-linecap="round"/><line x1="82.7" y1="441.3" x2="78.3" y2="443.9" stroke="#fff" stroke-width="0.51" stroke-opacity="0.55" stroke-linecap="round"/><line x1="96.9" y1="436.7" x2="96.0" y2="440.4" stroke="#fff" stroke-width="0.57" stroke-opacity="0.65" stroke-linecap="round"/><line x1="89.9" y1="456.9" x2="88.2" y2="454.8" stroke="#fff" stroke-width="0.84" stroke-opacity="0.62" stroke-linecap="round"/><line x1="78.2" y1="443.5" x2="78.1" y2="448.3" stroke="#fff" stroke-width="0.97" stroke-opacity="0.65" stroke-linecap="round"/><line x1="97.3" y1="431.8" x2="94.0" y2="433.2" stroke="#fff" stroke-width="0.75" stroke-opacity="0.76" stroke-linecap="round"/><line x1="72.6" y1="438.0" x2="74.6" y2="440.7" stroke="#fff" stroke-width="0.67" stroke-opacity="0.89" stroke-linecap="round"/><line x1="96.9" y1="436.7" x2="91.7" y2="435.3" stroke="#fff" stroke-width="0.75" stroke-opacity="0.67" stroke-linecap="round"/><line x1="86.8" y1="434.9" x2="87.3" y2="440.7" stroke="#fff" stroke-width="0.70" stroke-opacity="0.71" stroke-linecap="round"/><line x1="95.7" y1="444.6" x2="93.7" y2="442.5" stroke="#fff" stroke-width="0.53" stroke-opacity="0.81" stroke-linecap="round"/><line x1="96.2" y1="441.9" x2="92.2" y2="440.6" stroke="#fff" stroke-width="0.95" stroke-opacity="0.60" stroke-linecap="round"/><line x1="84.7" y1="438.1" x2="82.1" y2="438.3" stroke="#fff" stroke-width="1.01" stroke-opacity="0.57" stroke-linecap="round"/><line x1="94.6" y1="448.6" x2="93.2" y2="445.2" stroke="#fff" stroke-width="0.56" stroke-opacity="0.90" stroke-linecap="round"/><line x1="89.4" y1="431.8" x2="88.4" y2="434.9" stroke="#fff" stroke-width="0.64" stroke-opacity="0.48" stroke-linecap="round"/><line x1="69.0" y1="433.0" x2="68.0" y2="437.4" stroke="#fff" stroke-width="1.02" stroke-opacity="0.66" stroke-linecap="round"/><line x1="67.5" y1="459.2" x2="68.0" y2="454.4" stroke="#fff" stroke-width="0.84" stroke-opacity="0.90" stroke-linecap="round"/><line x1="63.0" y1="448.4" x2="65.0" y2="448.0" stroke="#fff" stroke-width="1.03" stroke-opacity="0.74" stroke-linecap="round"/><line x1="96.8" y1="437.9" x2="96.3" y2="440.4" stroke="#fff" stroke-width="0.68" stroke-opacity="0.61" stroke-linecap="round"/><line x1="62.0" y1="443.4" x2="65.5" y2="443.2" stroke="#fff" stroke-width="0.82" stroke-opacity="0.52" stroke-linecap="round"/><line x1="72.6" y1="438.0" x2="73.5" y2="439.4" stroke="#fff" stroke-width="0.52" stroke-opacity="0.90" stroke-linecap="round"/><line x1="86.2" y1="461.2" x2="84.7" y2="459.6" stroke="#fff" stroke-width="0.97" stroke-opacity="0.84" stroke-linecap="round"/><line x1="71.7" y1="464.9" x2="70.3" y2="459.7" stroke="#fff" stroke-width="0.92" stroke-opacity="0.48" stroke-linecap="round"/><line x1="87.1" y1="460.1" x2="87.7" y2="457.0" stroke="#fff" stroke-width="0.78" stroke-opacity="0.54" stroke-linecap="round"/><line x1="71.9" y1="437.0" x2="71.3" y2="439.3" stroke="#fff" stroke-width="0.88" stroke-opacity="0.55" stroke-linecap="round"/><line x1="62.3" y1="440.7" x2="64.7" y2="442.1" stroke="#fff" stroke-width="0.99" stroke-opacity="0.93" stroke-linecap="round"/><line x1="82.7" y1="465.5" x2="85.2" y2="461.5" stroke="#fff" stroke-width="0.58" stroke-opacity="0.80" stroke-linecap="round"/><line x1="96.5" y1="440.5" x2="94.4" y2="441.4" stroke="#fff" stroke-width="1.02" stroke-opacity="0.51" stroke-linecap="round"/><line x1="72.6" y1="438.0" x2="74.9" y2="438.5" stroke="#fff" stroke-width="0.64" stroke-opacity="0.78" stroke-linecap="round"/><line x1="81.5" y1="465.8" x2="79.9" y2="461.6" stroke="#fff" stroke-width="1.03" stroke-opacity="0.74" stroke-linecap="round"/><line x1="75.3" y1="466.2" x2="80.3" y2="463.8" stroke="#fff" stroke-width="0.61" stroke-opacity="0.56" stroke-linecap="round"/><line x1="64.6" y1="453.2" x2="66.4" y2="452.7" stroke="#fff" stroke-width="1.09" stroke-opacity="0.67" stroke-linecap="round"/><line x1="92.1" y1="430.9" x2="92.6" y2="436.5" stroke="#fff" stroke-width="0.50" stroke-opacity="0.74" stroke-linecap="round"/><line x1="90.8" y1="431.4" x2="89.6" y2="436.3" stroke="#fff" stroke-width="0.55" stroke-opacity="0.59" stroke-linecap="round"/><line x1="65.3" y1="431.6" x2="67.6" y2="432.0" stroke="#fff" stroke-width="0.94" stroke-opacity="0.46" stroke-linecap="round"/><line x1="66.3" y1="456.8" x2="68.0" y2="457.1" stroke="#fff" stroke-width="0.78" stroke-opacity="0.83" stroke-linecap="round"/><line x1="94.2" y1="449.9" x2="89.8" y2="453.3" stroke="#fff" stroke-width="0.54" stroke-opacity="0.48" stroke-linecap="round"/><line x1="78.2" y1="443.5" x2="77.4" y2="446.4" stroke="#fff" stroke-width="0.79" stroke-opacity="0.47" stroke-linecap="round"/><line x1="84.5" y1="463.3" x2="83.0" y2="458.2" stroke="#fff" stroke-width="0.91" stroke-opacity="0.71" stroke-linecap="round"/><line x1="90.8" y1="431.4" x2="90.4" y2="436.4" stroke="#fff" stroke-width="0.60" stroke-opacity="0.75" stroke-linecap="round"/><line x1="76.7" y1="466.4" x2="78.3" y2="462.8" stroke="#fff" stroke-width="0.65" stroke-opacity="0.81" stroke-linecap="round"/><line x1="69.7" y1="434.0" x2="73.2" y2="435.2" stroke="#fff" stroke-width="0.63" stroke-opacity="0.74" stroke-linecap="round"/><line x1="97.3" y1="431.8" x2="96.2" y2="433.9" stroke="#fff" stroke-width="1.08" stroke-opacity="0.48" stroke-linecap="round"/><line x1="96.7" y1="439.1" x2="94.6" y2="438.1" stroke="#fff" stroke-width="0.59" stroke-opacity="0.46" stroke-linecap="round"/><line x1="97.3" y1="431.8" x2="93.5" y2="431.8" stroke="#fff" stroke-width="0.93" stroke-opacity="0.88" stroke-linecap="round"/><line x1="62.9" y1="436.6" x2="68.1" y2="434.5" stroke="#fff" stroke-width="0.84" stroke-opacity="0.72" stroke-linecap="round"/><line x1="69.7" y1="434.0" x2="71.8" y2="434.7" stroke="#fff" stroke-width="0.69" stroke-opacity="0.47" stroke-linecap="round"/><line x1="87.1" y1="460.1" x2="87.8" y2="455.3" stroke="#fff" stroke-width="0.97" stroke-opacity="0.83" stroke-linecap="round"/><line x1="97.3" y1="431.8" x2="96.6" y2="436.9" stroke="#fff" stroke-width="0.60" stroke-opacity="0.58" stroke-linecap="round"/><line x1="66.9" y1="458.0" x2="69.9" y2="454.6" stroke="#fff" stroke-width="0.86" stroke-opacity="0.68" stroke-linecap="round"/><line x1="87.1" y1="460.1" x2="85.2" y2="457.6" stroke="#fff" stroke-width="0.63" stroke-opacity="0.94" stroke-linecap="round"/><line x1="62.4" y1="439.3" x2="66.8" y2="437.3" stroke="#fff" stroke-width="0.86" stroke-opacity="0.52" stroke-linecap="round"/><line x1="88.3" y1="449.3" x2="93.0" y2="449.3" stroke="#fff" stroke-opacity="0.69" stroke-width="0.55"/><line x1="81.6" y1="447.5" x2="75.4" y2="448.0" stroke="#fff" stroke-opacity="0.79" stroke-width="0.99"/><line x1="83.6" y1="441.1" x2="81.5" y2="445.5" stroke="#fff" stroke-opacity="0.45" stroke-width="0.61"/><line x1="88.0" y1="450.9" x2="80.9" y2="453.6" stroke="#fff" stroke-opacity="0.50" stroke-width="0.93"/><line x1="70.6" y1="459.1" x2="70.9" y2="463.8" stroke="#fff" stroke-opacity="0.73" stroke-width="0.88"/><line x1="78.6" y1="448.1" x2="80.6" y2="452.9" stroke="#fff" stroke-opacity="0.70" stroke-width="0.71"/><line x1="88.2" y1="448.9" x2="87.5" y2="452.6" stroke="#fff" stroke-opacity="0.46" stroke-width="0.53"/><line x1="91.6" y1="446.7" x2="93.0" y2="450.3" stroke="#fff" stroke-opacity="0.88" stroke-width="0.83"/><line x1="72.6" y1="452.4" x2="74.6" y2="457.3" stroke="#fff" stroke-opacity="0.47" stroke-width="0.60"/><line x1="76.4" y1="447.7" x2="76.3" y2="453.2" stroke="#fff" stroke-opacity="0.57" stroke-width="0.73"/><line x1="66.7" y1="449.1" x2="68.9" y2="453.1" stroke="#fff" stroke-opacity="0.74" stroke-width="0.57"/><line x1="81.7" y1="443.2" x2="80.1" y2="447.5" stroke="#fff" stroke-opacity="0.83" stroke-width="0.63"/><line x1="90.2" y1="434.8" x2="90.3" y2="442.4" stroke="#fff" stroke-opacity="0.56" stroke-width="0.85"/><line x1="90.4" y1="447.7" x2="88.6" y2="451.5" stroke="#fff" stroke-opacity="0.90" stroke-width="0.95"/><line x1="94.2" y1="440.3" x2="92.4" y2="444.1" stroke="#fff" stroke-opacity="0.80" stroke-width="0.94"/><line x1="73.4" y1="443.9" x2="70.5" y2="450.7" stroke="#fff" stroke-opacity="0.75" stroke-width="0.69"/><line x1="64.6" y1="432.2" x2="64.2" y2="435.0" stroke="#fff" stroke-opacity="0.44" stroke-width="0.73"/><line x1="71.6" y1="448.3" x2="74.9" y2="453.1" stroke="#fff" stroke-opacity="0.55" stroke-width="0.63"/><line x1="69.7" y1="449.2" x2="67.2" y2="449.4" stroke="#fff" stroke-opacity="0.70" stroke-width="0.92"/><line x1="90.1" y1="440.0" x2="94.0" y2="445.7" stroke="#fff" stroke-opacity="0.51" stroke-width="0.70"/><line x1="67.4" y1="437.4" x2="68.7" y2="443.6" stroke="#fff" stroke-opacity="0.84" stroke-width="0.65"/><line x1="76.6" y1="443.7" x2="76.6" y2="449.8" stroke="#fff" stroke-opacity="0.60" stroke-width="0.85"/><line x1="94.8" y1="430.9" x2="98.3" y2="429.7" stroke="#fff" stroke-width="0.5" stroke-opacity="0.6"/><line x1="62.0" y1="443.4" x2="58.9" y2="441.3" stroke="#fff" stroke-width="0.5" stroke-opacity="0.6"/><line x1="86.2" y1="461.2" x2="88.5" y2="462.5" stroke="#fff" stroke-width="0.5" stroke-opacity="0.6"/><line x1="74.0" y1="441.0" x2="72.4" y2="439.9" stroke="#fff" stroke-width="0.5" stroke-opacity="0.6"/><line x1="95.5" y1="446.0" x2="96.8" y2="447.0" stroke="#fff" stroke-width="0.5" stroke-opacity="0.6"/><line x1="79.2" y1="466.2" x2="79.8" y2="469.5" stroke="#fff" stroke-width="0.5" stroke-opacity="0.6"/><line x1="72.6" y1="438.0" x2="70.0" y2="436.0" stroke="#fff" stroke-width="0.5" stroke-opacity="0.6"/><line x1="79.2" y1="466.2" x2="79.9" y2="469.4" stroke="#fff" stroke-width="0.5" stroke-opacity="0.6"/><line x1="69.0" y1="461.5" x2="68.1" y2="464.8" stroke="#fff" stroke-width="0.5" stroke-opacity="0.6"/><line x1="86.8" y1="434.9" x2="89.6" y2="433.9" stroke="#fff" stroke-width="0.5" stroke-opacity="0.6"/><ellipse cx="65.5" cy="434.5" rx="2.6" ry="2.4" fill="#fff" fill-opacity="0.85"/><ellipse cx="72" cy="464" rx="2.5" ry="1.4" fill="#fff" fill-opacity="0.7"/><line x1="58" y1="446" x2="62" y2="446" stroke="#fff" stroke-width="0.7" stroke-opacity="0.7"/>
<path d="M143.5,435.2 L141.2,443.6 L144.0,450.0 L148.0,456.0 L151.0,461.0 L154.7,465.0 L161.0,466.0 L167.1,465.0 L172.0,459.5 L177.2,453.7 L180.6,443.6 L183.4,436.3 L176.0,435.0 L169.3,435.2 L166.0,438.0 L162.6,441.0 L160.0,438.0 L158.1,436.3 L154.0,434.5 L150.2,434.6 L146.0,434.5 Z" fill="none" stroke="#fff" stroke-width="3.5" stroke-opacity="0.3" stroke-linejoin="round"/><path d="M143.9,434.9 L142.8,436.8 L142.6,437.3 L142.6,438.7" fill="none" stroke="#fff" stroke-width="1.0" stroke-opacity="0.85" stroke-linejoin="round" stroke-linecap="round"/><path d="M141.3,443.9 L141.9,444.5 L142.6,446.2 L142.7,447.2 L143.7,448.8 L144.4,450.2 L145.0,451.1" fill="none" stroke="#fff" stroke-width="1.0" stroke-opacity="0.85" stroke-linejoin="round" stroke-linecap="round"/><path d="M145.0,451.1 L145.5,452.1 L145.8,453.4 L146.5,454.2 L147.7,455.1" fill="none" stroke="#fff" stroke-width="1.0" stroke-opacity="0.85" stroke-linejoin="round" stroke-linecap="round"/><path d="M147.7,455.1 L147.7,456.3 L148.9,457.0" fill="none" stroke="#fff" stroke-width="1.0" stroke-opacity="0.85" stroke-linejoin="round" stroke-linecap="round"/><path d="M148.9,457.0 L149.1,458.5 L149.9,460.1 L151.0,461.0 L151.9,462.1 L153.2,462.8 L153.7,464.1" fill="none" stroke="#fff" stroke-width="1.0" stroke-opacity="0.85" stroke-linejoin="round" stroke-linecap="round"/><path d="M153.7,464.1 L154.5,465.1 L156.0,465.1 L157.4,465.4 L158.2,466.0 L159.6,465.7 L160.9,466.3 L162.6,465.8" fill="none" stroke="#fff" stroke-width="1.0" stroke-opacity="0.85" stroke-linejoin="round" stroke-linecap="round"/><path d="M162.6,465.8 L163.4,465.3 L165.0,465.1" fill="none" stroke="#fff" stroke-width="1.0" stroke-opacity="0.85" stroke-linejoin="round" stroke-linecap="round"/><path d="M165.0,465.1 L165.9,465.1 L167.0,464.9 L167.7,463.7" fill="none" stroke="#fff" stroke-width="1.0" stroke-opacity="0.85" stroke-linejoin="round" stroke-linecap="round"/><path d="M171.1,460.7 L172.3,459.5 L173.1,458.5 L173.8,457.6 L175.0,456.8 L175.4,455.8" fill="none" stroke="#fff" stroke-width="1.0" stroke-opacity="0.85" stroke-linejoin="round" stroke-linecap="round"/><path d="M175.4,455.8 L176.4,454.5 L177.4,454.0 L177.7,452.8 L177.7,451.2 L178.6,449.8 L178.6,448.8" fill="none" stroke="#fff" stroke-width="1.0" stroke-opacity="0.85" stroke-linejoin="round" stroke-linecap="round"/><path d="M178.6,448.8 L179.3,447.2 L179.4,446.5 L180.1,444.6 L180.4,443.4" fill="none" stroke="#fff" stroke-width="1.0" stroke-opacity="0.85" stroke-linejoin="round" stroke-linecap="round"/><path d="M182.4,435.7 L180.7,435.9 L179.6,435.9 L178.6,435.4 L177.0,435.0 L175.8,434.7 L174.8,434.8 L173.6,435.2" fill="none" stroke="#fff" stroke-width="1.0" stroke-opacity="0.85" stroke-linejoin="round" stroke-linecap="round"/><path d="M173.6,435.2 L171.6,435.1 L170.7,434.8 L169.3,434.8" fill="none" stroke="#fff" stroke-width="1.0" stroke-opacity="0.85" stroke-linejoin="round" stroke-linecap="round"/><path d="M161.6,440.1 L160.6,439.2 L160.3,438.0 L158.9,437.4 L158.1,436.1 L156.6,435.4 L155.6,435.1 L154.2,434.8" fill="none" stroke="#fff" stroke-width="1.0" stroke-opacity="0.85" stroke-linejoin="round" stroke-linecap="round"/><path d="M154.2,434.8 L153.1,434.3 L151.4,434.9 L150.4,434.5" fill="none" stroke="#fff" stroke-width="1.0" stroke-opacity="0.85" stroke-linejoin="round" stroke-linecap="round"/><path d="M144.3,434.5 L143.9,437.0 L143.6,437.0 L142.1,438.6 L141.5,439.8 L141.4,440.7 L141.7,443.1 L141.9,443.5" fill="none" stroke="#fff" stroke-width="0.9" stroke-opacity="0.75" stroke-linejoin="round" stroke-linecap="round"/><path d="M141.6,446.7 L143.3,447.5 L143.3,448.3" fill="none" stroke="#fff" stroke-width="0.9" stroke-opacity="0.75" stroke-linejoin="round" stroke-linecap="round"/><path d="M143.3,448.3 L143.5,449.4 L144.8,450.7 L144.7,451.8" fill="none" stroke="#fff" stroke-width="0.9" stroke-opacity="0.75" stroke-linejoin="round" stroke-linecap="round"/><path d="M148.0,454.9 L148.1,455.8 L148.7,457.9 L149.4,458.0 L150.6,460.5 L150.3,461.6" fill="none" stroke="#fff" stroke-width="0.9" stroke-opacity="0.75" stroke-linejoin="round" stroke-linecap="round"/><path d="M159.0,466.0 L159.6,466.2 L161.5,466.3 L162.1,466.3 L163.3,466.1 L164.1,464.9 L166.1,464.8" fill="none" stroke="#fff" stroke-width="0.9" stroke-opacity="0.75" stroke-linejoin="round" stroke-linecap="round"/><path d="M166.1,464.8 L166.7,464.2 L168.7,464.3 L168.3,463.1 L170.1,463.1 L169.7,461.8" fill="none" stroke="#fff" stroke-width="0.9" stroke-opacity="0.75" stroke-linejoin="round" stroke-linecap="round"/><path d="M169.7,461.8 L170.9,460.2 L172.8,458.8 L173.0,458.5 L174.0,456.9" fill="none" stroke="#fff" stroke-width="0.9" stroke-opacity="0.75" stroke-linejoin="round" stroke-linecap="round"/><path d="M174.0,456.9 L175.2,456.6 L176.2,455.4 L175.6,454.7" fill="none" stroke="#fff" stroke-width="0.9" stroke-opacity="0.75" stroke-linejoin="round" stroke-linecap="round"/><path d="M178.6,435.6 L176.8,435.6 L175.7,434.8 L173.9,434.2 L173.1,434.3 L171.9,435.7 L169.8,435.4 L169.2,434.9" fill="none" stroke="#fff" stroke-width="0.9" stroke-opacity="0.75" stroke-linejoin="round" stroke-linecap="round"/><path d="M169.2,434.9 L167.3,436.1 L166.6,436.4 L166.1,438.7 L165.6,439.9 L163.0,439.9" fill="none" stroke="#fff" stroke-width="0.9" stroke-opacity="0.75" stroke-linejoin="round" stroke-linecap="round"/><path d="M163.0,439.9 L162.1,440.8 L161.2,439.5 L160.1,439.9" fill="none" stroke="#fff" stroke-width="0.9" stroke-opacity="0.75" stroke-linejoin="round" stroke-linecap="round"/><path d="M160.1,439.9 L159.4,437.9 L159.3,437.1 L157.7,436.5" fill="none" stroke="#fff" stroke-width="0.9" stroke-opacity="0.75" stroke-linejoin="round" stroke-linecap="round"/><path d="M157.7,436.5 L156.5,435.3 L155.0,435.2 L154.9,433.9 L152.6,433.9" fill="none" stroke="#fff" stroke-width="0.9" stroke-opacity="0.75" stroke-linejoin="round" stroke-linecap="round"/><path d="M146.2,434.5 L144.2,434.3" fill="none" stroke="#fff" stroke-width="0.9" stroke-opacity="0.75" stroke-linejoin="round" stroke-linecap="round"/><path d="M140.9,443.7 L142.4,445.5 L143.0,447.4 L142.7,447.8 L144.2,450.5 L145.2,451.0" fill="none" stroke="#fff" stroke-width="0.7" stroke-opacity="0.6" stroke-linejoin="round" stroke-linecap="round"/><path d="M145.2,451.0 L145.5,450.8 L145.5,453.8" fill="none" stroke="#fff" stroke-width="0.7" stroke-opacity="0.6" stroke-linejoin="round" stroke-linecap="round"/><path d="M145.5,453.8 L146.3,453.0 L147.1,455.9 L147.0,455.0 L148.7,458.2 L149.2,457.8 L150.9,458.7" fill="none" stroke="#fff" stroke-width="0.7" stroke-opacity="0.6" stroke-linejoin="round" stroke-linecap="round"/><path d="M169.5,462.7 L171.5,462.1 L171.3,460.9 L172.1,460.8 L173.1,458.8 L173.5,457.4 L175.3,456.3 L176.5,456.2" fill="none" stroke="#fff" stroke-width="0.7" stroke-opacity="0.6" stroke-linejoin="round" stroke-linecap="round"/><path d="M179.0,448.3 L179.5,446.0 L179.0,444.0 L179.8,442.9 L181.1,441.2 L180.5,440.1 L182.6,441.2 L183.1,438.8" fill="none" stroke="#fff" stroke-width="0.7" stroke-opacity="0.6" stroke-linejoin="round" stroke-linecap="round"/><path d="M179.1,436.4 L178.5,436.0 L175.2,435.0 L174.8,435.6 L172.6,435.3 L171.4,434.3 L170.5,435.9" fill="none" stroke="#fff" stroke-width="0.7" stroke-opacity="0.6" stroke-linejoin="round" stroke-linecap="round"/><path d="M160.1,436.9 L159.0,437.6 L158.8,436.2" fill="none" stroke="#fff" stroke-width="0.7" stroke-opacity="0.6" stroke-linejoin="round" stroke-linecap="round"/><path d="M149.0,434.1 L149.8,434.4 L148.7,435.4 L146.2,434.3" fill="none" stroke="#fff" stroke-width="0.7" stroke-opacity="0.6" stroke-linejoin="round" stroke-linecap="round"/><path d="M146.2,434.3 L144.9,435.7" fill="none" stroke="#fff" stroke-width="0.7" stroke-opacity="0.6" stroke-linejoin="round" stroke-linecap="round"/><path d="M143.5,436.0 L142.4,436.2 L143.3,437.7 L143.6,440.2" fill="none" stroke="#fff" stroke-width="0.5" stroke-opacity="0.45" stroke-linejoin="round" stroke-linecap="round"/><path d="M141.8,439.8 L142.2,442.0 L142.5,443.5 L142.8,443.2" fill="none" stroke="#fff" stroke-width="0.5" stroke-opacity="0.45" stroke-linejoin="round" stroke-linecap="round"/><path d="M142.8,443.2 L142.7,445.8 L144.1,446.0 L142.0,449.4 L143.4,449.8 L144.3,452.7 L145.8,453.2" fill="none" stroke="#fff" stroke-width="0.5" stroke-opacity="0.45" stroke-linejoin="round" stroke-linecap="round"/><path d="M145.8,453.2 L147.2,454.3 L146.5,453.2 L147.4,456.4 L149.4,455.9" fill="none" stroke="#fff" stroke-width="0.5" stroke-opacity="0.45" stroke-linejoin="round" stroke-linecap="round"/><path d="M149.4,455.9 L150.2,458.2 L147.8,459.0 L151.3,458.1 L150.6,461.5 L152.0,462.1 L151.4,462.1" fill="none" stroke="#fff" stroke-width="0.5" stroke-opacity="0.45" stroke-linejoin="round" stroke-linecap="round"/><path d="M151.4,462.1 L155.1,463.5 L154.6,465.3 L155.2,464.9 L157.2,466.7 L159.7,464.4 L159.8,466.7 L162.4,466.1" fill="none" stroke="#fff" stroke-width="0.5" stroke-opacity="0.45" stroke-linejoin="round" stroke-linecap="round"/><path d="M172.4,458.0 L173.3,456.2 L175.1,455.7" fill="none" stroke="#fff" stroke-width="0.5" stroke-opacity="0.45" stroke-linejoin="round" stroke-linecap="round"/><path d="M175.1,455.7 L176.1,455.5 L177.6,455.6" fill="none" stroke="#fff" stroke-width="0.5" stroke-opacity="0.45" stroke-linejoin="round" stroke-linecap="round"/><path d="M179.4,445.1 L182.1,441.1 L182.8,442.7" fill="none" stroke="#fff" stroke-width="0.5" stroke-opacity="0.45" stroke-linejoin="round" stroke-linecap="round"/><path d="M182.8,442.7 L183.4,440.9 L183.6,438.9" fill="none" stroke="#fff" stroke-width="0.5" stroke-opacity="0.45" stroke-linejoin="round" stroke-linecap="round"/><path d="M177.7,436.8 L177.1,436.0 L174.4,436.0 L173.6,434.8 L173.3,434.4 L171.1,434.9 L169.0,433.9" fill="none" stroke="#fff" stroke-width="0.5" stroke-opacity="0.45" stroke-linejoin="round" stroke-linecap="round"/><path d="M169.0,433.9 L168.0,436.5 L167.5,437.9 L168.5,435.9 L167.3,439.8 L164.7,438.9 L164.4,440.0" fill="none" stroke="#fff" stroke-width="0.5" stroke-opacity="0.45" stroke-linejoin="round" stroke-linecap="round"/><path d="M157.9,436.8 L157.4,434.5 L155.1,434.6 L156.4,436.1 L155.1,435.2 L154.5,433.7 L152.2,434.4" fill="none" stroke="#fff" stroke-width="0.5" stroke-opacity="0.45" stroke-linejoin="round" stroke-linecap="round"/><path d="M152.2,434.4 L151.9,434.4 L149.6,435.6 L149.1,435.5 L145.4,435.0 L145.8,436.4" fill="none" stroke="#fff" stroke-width="0.5" stroke-opacity="0.45" stroke-linejoin="round" stroke-linecap="round"/><line x1="183.4" y1="436.3" x2="180.3" y2="435.6" stroke="#fff" stroke-width="0.57" stroke-opacity="0.84" stroke-linecap="round"/><line x1="142.8" y1="437.6" x2="144.7" y2="436.8" stroke="#fff" stroke-width="0.67" stroke-opacity="0.55" stroke-linecap="round"/><line x1="172.0" y1="435.1" x2="171.5" y2="438.6" stroke="#fff" stroke-width="0.60" stroke-opacity="0.67" stroke-linecap="round"/><line x1="148.0" y1="456.0" x2="149.4" y2="454.8" stroke="#fff" stroke-width="0.70" stroke-opacity="0.86" stroke-linecap="round"/><line x1="143.5" y1="435.2" x2="145.5" y2="436.8" stroke="#fff" stroke-width="0.75" stroke-opacity="0.67" stroke-linecap="round"/><line x1="141.5" y1="442.4" x2="142.5" y2="444.1" stroke="#fff" stroke-width="0.75" stroke-opacity="0.60" stroke-linecap="round"/><line x1="172.0" y1="435.1" x2="171.3" y2="441.0" stroke="#fff" stroke-width="0.88" stroke-opacity="0.48" stroke-linecap="round"/><line x1="143.5" y1="435.2" x2="146.1" y2="434.2" stroke="#fff" stroke-width="0.59" stroke-opacity="0.81" stroke-linecap="round"/><line x1="154.0" y1="434.5" x2="159.0" y2="435.0" stroke="#fff" stroke-width="1.03" stroke-opacity="0.68" stroke-linecap="round"/><line x1="166.0" y1="438.0" x2="163.3" y2="440.3" stroke="#fff" stroke-width="0.91" stroke-opacity="0.63" stroke-linecap="round"/><line x1="151.0" y1="461.0" x2="150.1" y2="458.0" stroke="#fff" stroke-width="1.05" stroke-opacity="0.76" stroke-linecap="round"/><line x1="176.0" y1="435.0" x2="175.7" y2="437.4" stroke="#fff" stroke-width="0.89" stroke-opacity="0.94" stroke-linecap="round"/><line x1="177.2" y1="453.7" x2="176.7" y2="451.7" stroke="#fff" stroke-width="0.52" stroke-opacity="0.76" stroke-linecap="round"/><line x1="147.4" y1="434.5" x2="149.0" y2="435.6" stroke="#fff" stroke-width="0.89" stroke-opacity="0.78" stroke-linecap="round"/><line x1="158.5" y1="465.6" x2="160.2" y2="461.4" stroke="#fff" stroke-width="0.55" stroke-opacity="0.61" stroke-linecap="round"/><line x1="175.5" y1="455.6" x2="171.8" y2="454.0" stroke="#fff" stroke-width="0.89" stroke-opacity="0.61" stroke-linecap="round"/><line x1="167.1" y1="465.0" x2="167.3" y2="463.5" stroke="#fff" stroke-width="0.78" stroke-opacity="0.78" stroke-linecap="round"/><line x1="181.1" y1="442.4" x2="179.5" y2="443.3" stroke="#fff" stroke-width="0.85" stroke-opacity="0.55" stroke-linecap="round"/><line x1="178.5" y1="435.4" x2="175.1" y2="434.5" stroke="#fff" stroke-width="1.00" stroke-opacity="0.93" stroke-linecap="round"/><line x1="165.9" y1="465.2" x2="167.9" y2="461.3" stroke="#fff" stroke-width="0.59" stroke-opacity="0.72" stroke-linecap="round"/><line x1="153.8" y1="464.0" x2="157.0" y2="459.4" stroke="#fff" stroke-width="0.99" stroke-opacity="0.64" stroke-linecap="round"/><line x1="146.0" y1="453.0" x2="147.2" y2="450.6" stroke="#fff" stroke-width="1.04" stroke-opacity="0.57" stroke-linecap="round"/><line x1="147.4" y1="434.5" x2="150.0" y2="434.7" stroke="#fff" stroke-width="0.57" stroke-opacity="0.63" stroke-linecap="round"/><line x1="182.2" y1="436.1" x2="177.7" y2="435.5" stroke="#fff" stroke-width="0.60" stroke-opacity="0.61" stroke-linecap="round"/><line x1="165.9" y1="465.2" x2="164.3" y2="464.1" stroke="#fff" stroke-width="0.57" stroke-opacity="0.50" stroke-linecap="round"/><line x1="142.5" y1="438.8" x2="144.9" y2="444.3" stroke="#fff" stroke-width="0.50" stroke-opacity="0.75" stroke-linecap="round"/><line x1="168.2" y1="436.1" x2="164.5" y2="439.5" stroke="#fff" stroke-width="0.67" stroke-opacity="0.77" stroke-linecap="round"/><line x1="142.8" y1="437.6" x2="144.5" y2="439.0" stroke="#fff" stroke-width="0.76" stroke-opacity="0.63" stroke-linecap="round"/><line x1="154.0" y1="434.5" x2="152.3" y2="439.7" stroke="#fff" stroke-width="0.81" stroke-opacity="0.81" stroke-linecap="round"/><line x1="159.1" y1="437.1" x2="164.2" y2="440.1" stroke="#fff" stroke-width="0.90" stroke-opacity="0.58" stroke-linecap="round"/><line x1="183.4" y1="436.3" x2="181.4" y2="436.7" stroke="#fff" stroke-width="0.71" stroke-opacity="0.52" stroke-linecap="round"/><line x1="146.7" y1="454.0" x2="152.1" y2="452.6" stroke="#fff" stroke-width="0.57" stroke-opacity="0.65" stroke-linecap="round"/><line x1="157.2" y1="465.4" x2="160.3" y2="463.5" stroke="#fff" stroke-width="0.74" stroke-opacity="0.64" stroke-linecap="round"/><line x1="164.7" y1="465.4" x2="165.4" y2="459.7" stroke="#fff" stroke-width="0.54" stroke-opacity="0.53" stroke-linecap="round"/><line x1="161.7" y1="440.0" x2="161.9" y2="445.5" stroke="#fff" stroke-width="0.80" stroke-opacity="0.77" stroke-linecap="round"/><line x1="182.9" y1="437.5" x2="180.1" y2="436.4" stroke="#fff" stroke-width="0.52" stroke-opacity="0.80" stroke-linecap="round"/><line x1="178.9" y1="448.6" x2="175.7" y2="449.4" stroke="#fff" stroke-width="0.84" stroke-opacity="0.64" stroke-linecap="round"/><line x1="163.4" y1="465.6" x2="160.6" y2="461.7" stroke="#fff" stroke-width="0.77" stroke-opacity="0.59" stroke-linecap="round"/><line x1="148.8" y1="434.6" x2="148.8" y2="436.7" stroke="#fff" stroke-width="0.82" stroke-opacity="0.81" stroke-linecap="round"/><line x1="183.4" y1="436.3" x2="182.3" y2="439.2" stroke="#fff" stroke-width="0.96" stroke-opacity="0.80" stroke-linecap="round"/><line x1="141.5" y1="442.4" x2="144.9" y2="444.0" stroke="#fff" stroke-width="0.51" stroke-opacity="0.91" stroke-linecap="round"/><line x1="172.0" y1="459.5" x2="167.6" y2="459.2" stroke="#fff" stroke-width="0.62" stroke-opacity="0.81" stroke-linecap="round"/><line x1="179.3" y1="447.4" x2="177.6" y2="446.3" stroke="#fff" stroke-width="0.86" stroke-opacity="0.51" stroke-linecap="round"/><line x1="179.3" y1="447.4" x2="175.2" y2="449.2" stroke="#fff" stroke-width="0.57" stroke-opacity="0.66" stroke-linecap="round"/><line x1="152.7" y1="434.5" x2="153.3" y2="438.9" stroke="#fff" stroke-width="0.52" stroke-opacity="0.89" stroke-linecap="round"/><line x1="144.7" y1="451.0" x2="148.1" y2="449.3" stroke="#fff" stroke-width="0.94" stroke-opacity="0.88" stroke-linecap="round"/><line x1="156.7" y1="435.7" x2="158.1" y2="439.2" stroke="#fff" stroke-width="0.91" stroke-opacity="0.88" stroke-linecap="round"/><line x1="152.7" y1="434.5" x2="152.5" y2="436.5" stroke="#fff" stroke-width="1.04" stroke-opacity="0.74" stroke-linecap="round"/><line x1="172.0" y1="459.5" x2="172.6" y2="457.3" stroke="#fff" stroke-width="0.87" stroke-opacity="0.64" stroke-linecap="round"/><line x1="177.2" y1="453.7" x2="174.0" y2="455.4" stroke="#fff" stroke-width="0.72" stroke-opacity="0.63" stroke-linecap="round"/><line x1="177.2" y1="453.7" x2="174.9" y2="455.2" stroke="#fff" stroke-width="1.08" stroke-opacity="0.68" stroke-linecap="round"/><line x1="143.2" y1="436.4" x2="145.3" y2="436.0" stroke="#fff" stroke-width="0.87" stroke-opacity="0.57" stroke-linecap="round"/><line x1="146.0" y1="434.5" x2="146.0" y2="437.2" stroke="#fff" stroke-width="0.69" stroke-opacity="0.80" stroke-linecap="round"/><line x1="173.7" y1="457.6" x2="171.1" y2="458.2" stroke="#fff" stroke-width="0.78" stroke-opacity="0.79" stroke-linecap="round"/><line x1="177.2" y1="453.7" x2="172.6" y2="452.9" stroke="#fff" stroke-width="0.62" stroke-opacity="0.59" stroke-linecap="round"/><line x1="142.9" y1="447.4" x2="147.6" y2="447.6" stroke="#fff" stroke-width="1.07" stroke-opacity="0.78" stroke-linecap="round"/><line x1="176.0" y1="435.0" x2="171.4" y2="436.8" stroke="#fff" stroke-width="1.00" stroke-opacity="0.46" stroke-linecap="round"/><line x1="141.2" y1="443.6" x2="143.2" y2="446.6" stroke="#fff" stroke-width="1.10" stroke-opacity="0.83" stroke-linecap="round"/><line x1="182.0" y1="440.0" x2="179.8" y2="443.6" stroke="#fff" stroke-width="0.78" stroke-opacity="0.87" stroke-linecap="round"/><line x1="158.5" y1="465.6" x2="155.1" y2="462.4" stroke="#fff" stroke-width="0.86" stroke-opacity="0.79" stroke-linecap="round"/><line x1="165.2" y1="444.8" x2="164.1" y2="452.6" stroke="#fff" stroke-opacity="0.42" stroke-width="0.90"/><line x1="142.2" y1="440.1" x2="141.8" y2="445.0" stroke="#fff" stroke-opacity="0.93" stroke-width="0.88"/><line x1="144.4" y1="436.7" x2="141.7" y2="443.1" stroke="#fff" stroke-opacity="0.86" stroke-width="0.93"/><line x1="172.1" y1="452.1" x2="166.1" y2="455.8" stroke="#fff" stroke-opacity="0.88" stroke-width="0.77"/><line x1="160.0" y1="450.1" x2="158.9" y2="453.9" stroke="#fff" stroke-opacity="0.64" stroke-width="0.82"/><line x1="164.6" y1="446.3" x2="163.3" y2="448.5" stroke="#fff" stroke-opacity="0.61" stroke-width="0.64"/><line x1="173.9" y1="455.5" x2="171.7" y2="459.7" stroke="#fff" stroke-opacity="0.48" stroke-width="0.55"/><line x1="144.2" y1="442.3" x2="143.4" y2="445.5" stroke="#fff" stroke-opacity="0.64" stroke-width="0.83"/><line x1="159.8" y1="443.7" x2="160.1" y2="449.4" stroke="#fff" stroke-opacity="0.72" stroke-width="0.66"/><line x1="171.1" y1="440.6" x2="173.2" y2="445.0" stroke="#fff" stroke-opacity="0.92" stroke-width="0.60"/><line x1="175.7" y1="451.8" x2="175.8" y2="454.6" stroke="#fff" stroke-opacity="0.75" stroke-width="0.95"/><line x1="153.4" y1="445.6" x2="154.3" y2="448.2" stroke="#fff" stroke-opacity="0.67" stroke-width="0.75"/><line x1="148.0" y1="440.0" x2="149.3" y2="443.1" stroke="#fff" stroke-opacity="0.76" stroke-width="0.95"/><line x1="166.4" y1="441.7" x2="164.0" y2="445.5" stroke="#fff" stroke-opacity="0.80" stroke-width="0.50"/><line x1="157.4" y1="443.1" x2="156.5" y2="445.6" stroke="#fff" stroke-opacity="0.77" stroke-width="0.52"/><line x1="168.4" y1="457.0" x2="165.6" y2="462.4" stroke="#fff" stroke-opacity="0.78" stroke-width="0.84"/><line x1="149.3" y1="435.9" x2="148.9" y2="443.1" stroke="#fff" stroke-opacity="0.47" stroke-width="0.94"/><line x1="162.3" y1="455.4" x2="159.3" y2="459.5" stroke="#fff" stroke-opacity="0.53" stroke-width="0.81"/><line x1="176.6" y1="438.4" x2="177.6" y2="441.8" stroke="#fff" stroke-opacity="0.74" stroke-width="0.91"/><line x1="160.5" y1="456.4" x2="156.6" y2="458.9" stroke="#fff" stroke-opacity="0.89" stroke-width="0.59"/><line x1="175.9" y1="437.2" x2="178.6" y2="442.1" stroke="#fff" stroke-opacity="0.46" stroke-width="0.80"/><line x1="173.2" y1="440.6" x2="169.5" y2="446.9" stroke="#fff" stroke-opacity="0.80" stroke-width="0.82"/><line x1="158.7" y1="458.4" x2="158.5" y2="461.0" stroke="#fff" stroke-opacity="0.49" stroke-width="0.84"/><line x1="174.5" y1="444.0" x2="174.4" y2="446.9" stroke="#fff" stroke-opacity="0.49" stroke-width="0.81"/><line x1="159.1" y1="452.6" x2="162.4" y2="453.4" stroke="#fff" stroke-opacity="0.94" stroke-width="0.56"/><line x1="156.8" y1="451.9" x2="157.2" y2="455.3" stroke="#fff" stroke-opacity="0.85" stroke-width="0.61"/><line x1="171.7" y1="449.0" x2="175.4" y2="455.3" stroke="#fff" stroke-opacity="0.41" stroke-width="0.93"/><line x1="160.0" y1="453.8" x2="157.4" y2="457.3" stroke="#fff" stroke-opacity="0.52" stroke-width="0.87"/><line x1="169.0" y1="453.6" x2="165.1" y2="455.1" stroke="#fff" stroke-opacity="0.89" stroke-width="0.95"/><line x1="168.5" y1="442.9" x2="167.6" y2="446.0" stroke="#fff" stroke-opacity="0.83" stroke-width="0.80"/><line x1="166.1" y1="454.9" x2="167.5" y2="457.9" stroke="#fff" stroke-opacity="0.40" stroke-width="0.66"/><line x1="150.4" y1="453.2" x2="152.8" y2="458.0" stroke="#fff" stroke-opacity="0.83" stroke-width="0.74"/><line x1="164.8" y1="463.3" x2="158.1" y2="465.4" stroke="#fff" stroke-opacity="0.81" stroke-width="0.93"/><line x1="179.9" y1="439.7" x2="176.6" y2="445.0" stroke="#fff" stroke-opacity="0.74" stroke-width="0.71"/><line x1="144.7" y1="447.9" x2="146.8" y2="452.5" stroke="#fff" stroke-opacity="0.64" stroke-width="0.82"/><line x1="166.2" y1="458.5" x2="165.2" y2="461.1" stroke="#fff" stroke-opacity="0.65" stroke-width="0.97"/><line x1="182.1" y1="439.5" x2="180.2" y2="443.3" stroke="#fff" stroke-opacity="0.68" stroke-width="0.59"/><line x1="174.1" y1="448.9" x2="175.8" y2="453.5" stroke="#fff" stroke-opacity="0.86" stroke-width="0.52"/><line x1="167.3" y1="440.2" x2="165.3" y2="444.7" stroke="#fff" stroke-opacity="0.59" stroke-width="0.57"/><line x1="161.7" y1="444.1" x2="161.4" y2="447.8" stroke="#fff" stroke-opacity="0.93" stroke-width="0.70"/><line x1="158.8" y1="449.2" x2="157.1" y2="452.7" stroke="#fff" stroke-opacity="0.43" stroke-width="0.53"/><line x1="157.0" y1="451.2" x2="161.3" y2="457.9" stroke="#fff" stroke-opacity="0.77" stroke-width="0.84"/><line x1="162.0" y1="440.4" x2="161.2" y2="444.2" stroke="#fff" stroke-opacity="0.48" stroke-width="0.64"/><line x1="157.1" y1="455.7" x2="156.5" y2="462.0" stroke="#fff" stroke-opacity="0.55" stroke-width="0.84"/><line x1="143.9" y1="437.5" x2="143.1" y2="441.4" stroke="#fff" stroke-opacity="0.94" stroke-width="0.56"/><line x1="178.5" y1="449.9" x2="181.3" y2="450.8" stroke="#fff" stroke-width="0.5" stroke-opacity="0.6"/><line x1="179.8" y1="446.1" x2="181.8" y2="445.7" stroke="#fff" stroke-width="0.5" stroke-opacity="0.6"/><line x1="179.7" y1="435.6" x2="183.0" y2="435.0" stroke="#fff" stroke-width="0.5" stroke-opacity="0.6"/><line x1="168.7" y1="463.2" x2="167.6" y2="466.6" stroke="#fff" stroke-width="0.5" stroke-opacity="0.6"/><line x1="162.6" y1="441.0" x2="163.5" y2="438.6" stroke="#fff" stroke-width="0.5" stroke-opacity="0.6"/><line x1="144.0" y1="450.0" x2="142.4" y2="449.9" stroke="#fff" stroke-width="0.5" stroke-opacity="0.6"/><line x1="182.2" y1="436.1" x2="183.8" y2="436.2" stroke="#fff" stroke-width="0.5" stroke-opacity="0.6"/><line x1="154.0" y1="434.5" x2="151.0" y2="433.6" stroke="#fff" stroke-width="0.5" stroke-opacity="0.6"/><line x1="173.7" y1="457.6" x2="174.9" y2="459.2" stroke="#fff" stroke-width="0.5" stroke-opacity="0.6"/><line x1="177.2" y1="453.7" x2="179.0" y2="456.9" stroke="#fff" stroke-width="0.5" stroke-opacity="0.6"/><path d="M156,435 L159.5,437 L161,441" stroke="#fff" stroke-width="2" fill="none" stroke-opacity="0.9"/><line x1="158" y1="470" x2="163" y2="466" stroke="#fff" stroke-width="0.6" stroke-opacity="0.6"/>
<path d="M63.6,569.0 L67.5,568.5 L71.5,570.1 L74.0,574.0 L76.0,578.0 L79.0,578.5 L81.6,576.8 L83.0,571.0 L85.0,566.7 L89.0,565.8 L92.8,566.7 L93.0,575.0 L92.2,587.0 L88.0,592.0 L83.8,597.0 L78.0,598.5 L73.7,598.2 L69.0,595.0 L65.8,592.6 L61.9,584.7 L61.5,578.0 L62.5,573.5 Z" fill="none" stroke="#fff" stroke-width="3.5" stroke-opacity="0.3" stroke-linejoin="round"/><path d="M63.7,569.1 L65.2,568.7 L66.3,569.0" fill="none" stroke="#fff" stroke-width="1.4" stroke-opacity="0.85" stroke-linejoin="round" stroke-linecap="round"/><path d="M66.3,569.0 L67.8,568.2 L69.0,569.1 L70.2,569.9 L71.5,570.1 L72.7,571.5 L73.0,572.5" fill="none" stroke="#fff" stroke-width="1.4" stroke-opacity="0.85" stroke-linejoin="round" stroke-linecap="round"/><path d="M76.3,578.0 L77.6,577.9 L78.6,578.9 L80.1,577.4 L81.9,577.0" fill="none" stroke="#fff" stroke-width="1.4" stroke-opacity="0.85" stroke-linejoin="round" stroke-linecap="round"/><path d="M81.9,577.0 L81.6,575.2 L82.1,573.7" fill="none" stroke="#fff" stroke-width="1.4" stroke-opacity="0.85" stroke-linejoin="round" stroke-linecap="round"/><path d="M85.2,566.7 L86.0,566.1 L87.4,566.0 L88.6,565.6 L90.0,565.9" fill="none" stroke="#fff" stroke-width="1.4" stroke-opacity="0.85" stroke-linejoin="round" stroke-linecap="round"/><path d="M90.0,565.9 L91.7,566.4 L92.8,566.6 L92.9,568.3" fill="none" stroke="#fff" stroke-width="1.4" stroke-opacity="0.85" stroke-linejoin="round" stroke-linecap="round"/><path d="M92.9,568.3 L92.7,569.1 L92.9,570.8 L93.2,571.9 L93.3,573.2 L93.0,575.0" fill="none" stroke="#fff" stroke-width="1.4" stroke-opacity="0.85" stroke-linejoin="round" stroke-linecap="round"/><path d="M93.0,575.0 L92.8,576.5 L93.0,577.1 L92.8,578.7 L92.3,579.5 L92.7,581.2" fill="none" stroke="#fff" stroke-width="1.4" stroke-opacity="0.85" stroke-linejoin="round" stroke-linecap="round"/><path d="M92.7,581.2 L92.5,582.1 L92.4,583.2 L92.7,585.0" fill="none" stroke="#fff" stroke-width="1.4" stroke-opacity="0.85" stroke-linejoin="round" stroke-linecap="round"/><path d="M92.7,585.0 L92.3,585.4 L92.1,587.2 L91.2,587.7" fill="none" stroke="#fff" stroke-width="1.4" stroke-opacity="0.85" stroke-linejoin="round" stroke-linecap="round"/><path d="M91.2,587.7 L90.3,589.2 L89.8,589.8 L88.9,591.2 L88.4,592.3 L87.1,593.2" fill="none" stroke="#fff" stroke-width="1.4" stroke-opacity="0.85" stroke-linejoin="round" stroke-linecap="round"/><path d="M87.1,593.2 L86.7,594.3 L85.7,595.1" fill="none" stroke="#fff" stroke-width="1.4" stroke-opacity="0.85" stroke-linejoin="round" stroke-linecap="round"/><path d="M85.7,595.1 L84.6,596.3 L83.9,597.2 L82.1,597.0 L80.7,597.8 L79.5,597.9" fill="none" stroke="#fff" stroke-width="1.4" stroke-opacity="0.85" stroke-linejoin="round" stroke-linecap="round"/><path d="M68.6,594.6 L68.2,594.4 L66.6,593.1 L65.7,592.8 L65.4,591.8 L65.1,590.5 L64.4,588.8 L63.2,588.4" fill="none" stroke="#fff" stroke-width="1.4" stroke-opacity="0.85" stroke-linejoin="round" stroke-linecap="round"/><path d="M63.2,588.4 L63.1,586.8 L62.2,585.7 L61.8,584.7 L61.8,583.1 L61.4,581.8 L61.4,580.4 L61.5,579.0" fill="none" stroke="#fff" stroke-width="1.4" stroke-opacity="0.85" stroke-linejoin="round" stroke-linecap="round"/><path d="M61.5,579.0 L61.7,578.0 L61.8,576.6 L62.0,574.6 L62.2,573.4" fill="none" stroke="#fff" stroke-width="1.4" stroke-opacity="0.85" stroke-linejoin="round" stroke-linecap="round"/><path d="M62.2,573.4 L62.8,571.8 L63.1,570.8" fill="none" stroke="#fff" stroke-width="1.4" stroke-opacity="0.85" stroke-linejoin="round" stroke-linecap="round"/><path d="M64.0,568.8 L64.8,569.1 L67.0,568.4 L67.4,568.1" fill="none" stroke="#fff" stroke-width="0.9" stroke-opacity="0.75" stroke-linejoin="round" stroke-linecap="round"/><path d="M67.4,568.1 L69.4,568.3 L69.6,569.3 L72.2,570.7 L71.7,570.9 L73.7,573.5" fill="none" stroke="#fff" stroke-width="0.9" stroke-opacity="0.75" stroke-linejoin="round" stroke-linecap="round"/><path d="M73.7,573.5 L73.8,573.4 L75.4,575.3 L75.9,576.5 L75.3,578.1 L77.4,577.4 L78.3,579.3 L80.2,577.1" fill="none" stroke="#fff" stroke-width="0.9" stroke-opacity="0.75" stroke-linejoin="round" stroke-linecap="round"/><path d="M80.2,577.1 L82.2,576.2 L82.8,575.2 L82.5,574.7 L83.0,572.3" fill="none" stroke="#fff" stroke-width="0.9" stroke-opacity="0.75" stroke-linejoin="round" stroke-linecap="round"/><path d="M83.0,572.3 L82.1,570.4 L83.6,570.4 L83.5,567.8 L84.6,567.1 L86.0,565.6 L88.5,565.7" fill="none" stroke="#fff" stroke-width="0.9" stroke-opacity="0.75" stroke-linejoin="round" stroke-linecap="round"/><path d="M88.5,565.7 L88.9,565.8 L90.0,566.4" fill="none" stroke="#fff" stroke-width="0.9" stroke-opacity="0.75" stroke-linejoin="round" stroke-linecap="round"/><path d="M90.0,566.4 L91.0,566.3 L92.3,567.1 L93.1,569.0 L93.3,570.3" fill="none" stroke="#fff" stroke-width="0.9" stroke-opacity="0.75" stroke-linejoin="round" stroke-linecap="round"/><path d="M93.3,570.3 L93.1,571.4 L92.5,571.4 L93.4,573.0 L93.0,574.5" fill="none" stroke="#fff" stroke-width="0.9" stroke-opacity="0.75" stroke-linejoin="round" stroke-linecap="round"/><path d="M93.0,574.5 L93.5,575.8 L93.4,577.4 L92.4,577.9" fill="none" stroke="#fff" stroke-width="0.9" stroke-opacity="0.75" stroke-linejoin="round" stroke-linecap="round"/><path d="M93.1,580.7 L93.4,582.4 L92.5,583.3 L93.0,583.9 L92.2,585.4 L91.9,587.2" fill="none" stroke="#fff" stroke-width="0.9" stroke-opacity="0.75" stroke-linejoin="round" stroke-linecap="round"/><path d="M81.7,598.4 L79.6,598.0 L78.7,598.8 L76.5,597.7 L75.3,598.5 L73.1,598.3 L72.1,597.6 L71.3,597.0" fill="none" stroke="#fff" stroke-width="0.9" stroke-opacity="0.75" stroke-linejoin="round" stroke-linecap="round"/><path d="M71.3,597.0 L69.6,595.4 L69.4,595.6 L67.2,593.4 L66.0,592.8 L65.2,592.9" fill="none" stroke="#fff" stroke-width="0.9" stroke-opacity="0.75" stroke-linejoin="round" stroke-linecap="round"/><path d="M65.2,592.9 L65.3,590.8 L64.6,589.8 L63.3,589.8 L64.3,588.3" fill="none" stroke="#fff" stroke-width="0.9" stroke-opacity="0.75" stroke-linejoin="round" stroke-linecap="round"/><path d="M64.3,588.3 L63.1,586.8 L61.6,585.9 L61.0,584.6 L61.1,582.8" fill="none" stroke="#fff" stroke-width="0.9" stroke-opacity="0.75" stroke-linejoin="round" stroke-linecap="round"/><path d="M61.1,582.8 L61.1,581.4 L62.1,581.5 L61.3,579.9 L61.9,578.0" fill="none" stroke="#fff" stroke-width="0.9" stroke-opacity="0.75" stroke-linejoin="round" stroke-linecap="round"/><path d="M61.9,578.0 L62.1,575.9 L62.3,574.5" fill="none" stroke="#fff" stroke-width="0.9" stroke-opacity="0.75" stroke-linejoin="round" stroke-linecap="round"/><path d="M62.3,574.5 L62.2,574.3 L63.4,572.8 L62.6,569.8" fill="none" stroke="#fff" stroke-width="0.9" stroke-opacity="0.75" stroke-linejoin="round" stroke-linecap="round"/><path d="M62.4,570.1 L65.0,567.6 L66.3,567.8 L67.5,569.7 L70.1,568.8 L70.9,569.5" fill="none" stroke="#fff" stroke-width="0.7" stroke-opacity="0.6" stroke-linejoin="round" stroke-linecap="round"/><path d="M77.8,577.3 L78.5,578.2 L79.5,576.8" fill="none" stroke="#fff" stroke-width="0.7" stroke-opacity="0.6" stroke-linejoin="round" stroke-linecap="round"/><path d="M89.8,566.2 L91.4,566.9 L91.3,565.6 L92.6,567.8 L93.8,566.8 L91.6,569.3" fill="none" stroke="#fff" stroke-width="0.7" stroke-opacity="0.6" stroke-linejoin="round" stroke-linecap="round"/><path d="M93.3,579.6 L92.1,580.0 L93.8,580.0" fill="none" stroke="#fff" stroke-width="0.7" stroke-opacity="0.6" stroke-linejoin="round" stroke-linecap="round"/><path d="M93.8,580.0 L92.3,583.5 L91.6,584.1 L93.0,584.0 L93.6,586.5 L91.2,588.3 L92.4,587.9 L89.3,589.7" fill="none" stroke="#fff" stroke-width="0.7" stroke-opacity="0.6" stroke-linejoin="round" stroke-linecap="round"/><path d="M89.3,589.7 L89.9,590.6 L87.7,590.9 L88.8,592.6 L86.3,592.6 L86.2,593.9" fill="none" stroke="#fff" stroke-width="0.7" stroke-opacity="0.6" stroke-linejoin="round" stroke-linecap="round"/><path d="M86.2,593.9 L86.8,596.1 L83.3,596.3 L82.9,597.9" fill="none" stroke="#fff" stroke-width="0.7" stroke-opacity="0.6" stroke-linejoin="round" stroke-linecap="round"/><path d="M82.9,597.9 L82.4,598.4 L82.0,598.9 L78.6,597.0 L78.7,598.4 L77.3,598.3 L74.9,598.9" fill="none" stroke="#fff" stroke-width="0.7" stroke-opacity="0.6" stroke-linejoin="round" stroke-linecap="round"/><path d="M74.9,598.9 L73.4,598.2 L72.3,597.9 L70.2,596.5" fill="none" stroke="#fff" stroke-width="0.7" stroke-opacity="0.6" stroke-linejoin="round" stroke-linecap="round"/><path d="M70.2,596.5 L70.4,596.3 L70.0,594.7 L69.1,594.7 L66.6,593.6" fill="none" stroke="#fff" stroke-width="0.7" stroke-opacity="0.6" stroke-linejoin="round" stroke-linecap="round"/><path d="M66.6,593.6 L65.4,593.0 L64.0,592.5 L64.3,589.1 L63.1,588.8" fill="none" stroke="#fff" stroke-width="0.7" stroke-opacity="0.6" stroke-linejoin="round" stroke-linecap="round"/><path d="M63.1,588.8 L63.0,589.0 L62.7,588.0 L61.9,585.4 L63.1,585.6 L63.0,582.4" fill="none" stroke="#fff" stroke-width="0.7" stroke-opacity="0.6" stroke-linejoin="round" stroke-linecap="round"/><path d="M63.0,582.4 L60.6,582.5 L61.2,579.7 L60.5,578.9" fill="none" stroke="#fff" stroke-width="0.7" stroke-opacity="0.6" stroke-linejoin="round" stroke-linecap="round"/><path d="M60.5,578.9 L61.0,578.4 L63.1,575.6 L62.9,575.2" fill="none" stroke="#fff" stroke-width="0.7" stroke-opacity="0.6" stroke-linejoin="round" stroke-linecap="round"/><path d="M62.9,575.2 L63.5,574.8 L63.9,571.0 L63.9,571.2" fill="none" stroke="#fff" stroke-width="0.7" stroke-opacity="0.6" stroke-linejoin="round" stroke-linecap="round"/><path d="M62.1,570.6 L63.5,570.3 L67.9,568.6 L68.9,568.7" fill="none" stroke="#fff" stroke-width="0.5" stroke-opacity="0.45" stroke-linejoin="round" stroke-linecap="round"/><path d="M68.9,568.7 L70.2,569.9 L70.9,570.2 L70.0,571.2 L71.4,569.6" fill="none" stroke="#fff" stroke-width="0.5" stroke-opacity="0.45" stroke-linejoin="round" stroke-linecap="round"/><path d="M71.4,569.6 L72.5,571.2 L73.6,573.6 L76.1,576.3 L74.1,578.2 L76.2,578.3" fill="none" stroke="#fff" stroke-width="0.5" stroke-opacity="0.45" stroke-linejoin="round" stroke-linecap="round"/><path d="M92.5,568.5 L93.8,570.8 L91.1,569.6 L93.2,572.2 L94.8,572.9 L91.3,576.5 L92.5,574.9" fill="none" stroke="#fff" stroke-width="0.5" stroke-opacity="0.45" stroke-linejoin="round" stroke-linecap="round"/><path d="M92.5,574.9 L94.1,577.0 L93.7,577.6 L91.5,580.7 L92.9,579.5 L91.9,583.5 L92.3,584.2" fill="none" stroke="#fff" stroke-width="0.5" stroke-opacity="0.45" stroke-linejoin="round" stroke-linecap="round"/><path d="M87.8,592.4 L87.5,593.3 L88.4,591.9 L85.0,595.7" fill="none" stroke="#fff" stroke-width="0.5" stroke-opacity="0.45" stroke-linejoin="round" stroke-linecap="round"/><path d="M84.1,597.7 L82.7,598.4 L80.8,596.3 L79.2,599.1 L79.5,598.1 L77.4,599.0" fill="none" stroke="#fff" stroke-width="0.5" stroke-opacity="0.45" stroke-linejoin="round" stroke-linecap="round"/><path d="M77.4,599.0 L74.5,597.8 L75.4,597.8 L72.7,598.4 L72.8,596.8 L69.4,595.6 L69.6,595.0" fill="none" stroke="#fff" stroke-width="0.5" stroke-opacity="0.45" stroke-linejoin="round" stroke-linecap="round"/><path d="M69.6,595.0 L66.5,594.3 L66.3,594.4 L65.9,593.7" fill="none" stroke="#fff" stroke-width="0.5" stroke-opacity="0.45" stroke-linejoin="round" stroke-linecap="round"/><path d="M65.9,593.7 L66.2,591.9 L66.1,588.9 L64.1,590.6 L63.4,587.6" fill="none" stroke="#fff" stroke-width="0.5" stroke-opacity="0.45" stroke-linejoin="round" stroke-linecap="round"/><path d="M60.3,576.3 L62.5,576.8 L60.4,575.1 L62.0,573.9 L62.3,573.7 L62.5,568.7" fill="none" stroke="#fff" stroke-width="0.5" stroke-opacity="0.45" stroke-linejoin="round" stroke-linecap="round"/><line x1="90.5" y1="589.0" x2="89.6" y2="584.5" stroke="#fff" stroke-width="1.01" stroke-opacity="0.62" stroke-linecap="round"/><line x1="92.8" y1="578.6" x2="88.2" y2="578.2" stroke="#fff" stroke-width="0.72" stroke-opacity="0.56" stroke-linecap="round"/><line x1="64.1" y1="589.2" x2="69.7" y2="590.3" stroke="#fff" stroke-width="1.00" stroke-opacity="0.48" stroke-linecap="round"/><line x1="61.6" y1="579.3" x2="65.1" y2="578.0" stroke="#fff" stroke-width="0.84" stroke-opacity="0.68" stroke-linecap="round"/><line x1="92.4" y1="584.6" x2="88.2" y2="583.2" stroke="#fff" stroke-width="0.74" stroke-opacity="0.74" stroke-linecap="round"/><line x1="71.3" y1="596.6" x2="74.2" y2="591.5" stroke="#fff" stroke-width="1.09" stroke-opacity="0.71" stroke-linecap="round"/><line x1="80.3" y1="577.6" x2="79.1" y2="580.1" stroke="#fff" stroke-width="0.59" stroke-opacity="0.83" stroke-linecap="round"/><line x1="79.5" y1="598.1" x2="81.2" y2="596.2" stroke="#fff" stroke-width="0.81" stroke-opacity="0.73" stroke-linecap="round"/><line x1="90.5" y1="589.0" x2="85.6" y2="588.4" stroke="#fff" stroke-width="0.93" stroke-opacity="0.53" stroke-linecap="round"/><line x1="82.3" y1="573.9" x2="80.6" y2="579.2" stroke="#fff" stroke-width="0.89" stroke-opacity="0.79" stroke-linecap="round"/><line x1="73.2" y1="572.7" x2="75.4" y2="575.7" stroke="#fff" stroke-width="0.88" stroke-opacity="0.61" stroke-linecap="round"/><line x1="87.2" y1="593.0" x2="86.3" y2="591.2" stroke="#fff" stroke-width="0.67" stroke-opacity="0.80" stroke-linecap="round"/><line x1="63.0" y1="587.0" x2="65.3" y2="581.5" stroke="#fff" stroke-width="0.66" stroke-opacity="0.91" stroke-linecap="round"/><line x1="90.3" y1="566.1" x2="86.3" y2="569.5" stroke="#fff" stroke-width="0.92" stroke-opacity="0.83" stroke-linecap="round"/><line x1="69.0" y1="595.0" x2="69.9" y2="591.8" stroke="#fff" stroke-width="0.57" stroke-opacity="0.76" stroke-linecap="round"/><line x1="62.2" y1="575.0" x2="64.2" y2="574.5" stroke="#fff" stroke-width="0.52" stroke-opacity="0.54" stroke-linecap="round"/><line x1="69.0" y1="595.0" x2="72.9" y2="593.2" stroke="#fff" stroke-width="0.53" stroke-opacity="0.74" stroke-linecap="round"/><line x1="61.9" y1="584.7" x2="63.6" y2="583.0" stroke="#fff" stroke-width="0.54" stroke-opacity="0.46" stroke-linecap="round"/><line x1="65.8" y1="592.6" x2="66.6" y2="590.9" stroke="#fff" stroke-width="0.96" stroke-opacity="0.78" stroke-linecap="round"/><line x1="84.3" y1="568.1" x2="82.9" y2="573.3" stroke="#fff" stroke-width="0.56" stroke-opacity="0.67" stroke-linecap="round"/><line x1="73.2" y1="572.7" x2="73.0" y2="575.0" stroke="#fff" stroke-width="0.81" stroke-opacity="0.79" stroke-linecap="round"/><line x1="81.6" y1="576.8" x2="79.9" y2="577.9" stroke="#fff" stroke-width="0.56" stroke-opacity="0.74" stroke-linecap="round"/><line x1="75.3" y1="576.7" x2="78.4" y2="577.7" stroke="#fff" stroke-width="0.53" stroke-opacity="0.77" stroke-linecap="round"/><line x1="92.9" y1="576.2" x2="87.8" y2="576.3" stroke="#fff" stroke-width="0.66" stroke-opacity="0.78" stroke-linecap="round"/><line x1="90.3" y1="566.1" x2="85.9" y2="565.6" stroke="#fff" stroke-width="1.08" stroke-opacity="0.71" stroke-linecap="round"/><line x1="80.3" y1="577.6" x2="78.8" y2="578.0" stroke="#fff" stroke-width="0.63" stroke-opacity="0.56" stroke-linecap="round"/><line x1="92.8" y1="566.7" x2="89.7" y2="566.1" stroke="#fff" stroke-width="0.73" stroke-opacity="0.71" stroke-linecap="round"/><line x1="62.5" y1="573.5" x2="67.9" y2="573.4" stroke="#fff" stroke-width="0.53" stroke-opacity="0.60" stroke-linecap="round"/><line x1="62.2" y1="575.0" x2="64.7" y2="575.8" stroke="#fff" stroke-width="0.95" stroke-opacity="0.46" stroke-linecap="round"/><line x1="92.8" y1="568.1" x2="92.9" y2="573.8" stroke="#fff" stroke-width="0.92" stroke-opacity="0.78" stroke-linecap="round"/><line x1="90.5" y1="589.0" x2="89.0" y2="589.5" stroke="#fff" stroke-width="0.71" stroke-opacity="0.67" stroke-linecap="round"/><line x1="75.1" y1="598.3" x2="76.0" y2="597.0" stroke="#fff" stroke-width="0.89" stroke-opacity="0.73" stroke-linecap="round"/><line x1="82.7" y1="572.5" x2="79.8" y2="577.4" stroke="#fff" stroke-width="0.52" stroke-opacity="0.82" stroke-linecap="round"/><line x1="64.9" y1="568.8" x2="69.3" y2="570.9" stroke="#fff" stroke-width="0.57" stroke-opacity="0.77" stroke-linecap="round"/><line x1="65.8" y1="592.6" x2="70.0" y2="591.5" stroke="#fff" stroke-width="0.72" stroke-opacity="0.60" stroke-linecap="round"/><line x1="79.5" y1="598.1" x2="77.3" y2="596.1" stroke="#fff" stroke-width="0.70" stroke-opacity="0.75" stroke-linecap="round"/><line x1="83.7" y1="569.6" x2="81.6" y2="569.8" stroke="#fff" stroke-width="1.02" stroke-opacity="0.46" stroke-linecap="round"/><line x1="63.6" y1="569.0" x2="64.1" y2="570.7" stroke="#fff" stroke-width="1.09" stroke-opacity="0.46" stroke-linecap="round"/><line x1="73.2" y1="572.7" x2="77.3" y2="573.7" stroke="#fff" stroke-width="1.02" stroke-opacity="0.69" stroke-linecap="round"/><line x1="67.5" y1="568.5" x2="68.7" y2="570.1" stroke="#fff" stroke-width="1.08" stroke-opacity="0.55" stroke-linecap="round"/><line x1="93.0" y1="573.6" x2="88.0" y2="574.1" stroke="#fff" stroke-width="0.89" stroke-opacity="0.72" stroke-linecap="round"/><line x1="62.5" y1="573.5" x2="64.2" y2="575.4" stroke="#fff" stroke-width="0.54" stroke-opacity="0.74" stroke-linecap="round"/><line x1="63.6" y1="588.1" x2="65.6" y2="587.7" stroke="#fff" stroke-width="0.54" stroke-opacity="0.56" stroke-linecap="round"/><line x1="92.9" y1="569.5" x2="91.2" y2="571.0" stroke="#fff" stroke-width="0.61" stroke-opacity="0.59" stroke-linecap="round"/><line x1="86.3" y1="594.0" x2="84.1" y2="591.4" stroke="#fff" stroke-width="0.88" stroke-opacity="0.73" stroke-linecap="round"/><line x1="62.9" y1="572.0" x2="64.7" y2="572.6" stroke="#fff" stroke-width="0.96" stroke-opacity="0.62" stroke-linecap="round"/><line x1="84.6" y1="596.0" x2="81.1" y2="591.3" stroke="#fff" stroke-width="0.70" stroke-opacity="0.93" stroke-linecap="round"/><line x1="67.5" y1="568.5" x2="70.7" y2="569.9" stroke="#fff" stroke-width="0.76" stroke-opacity="0.68" stroke-linecap="round"/><line x1="72.3" y1="571.4" x2="73.2" y2="575.0" stroke="#fff" stroke-width="0.85" stroke-opacity="0.62" stroke-linecap="round"/><line x1="81.6" y1="576.8" x2="76.6" y2="579.1" stroke="#fff" stroke-width="0.78" stroke-opacity="0.75" stroke-linecap="round"/><line x1="62.9" y1="572.0" x2="66.4" y2="575.5" stroke="#fff" stroke-width="0.88" stroke-opacity="0.93" stroke-linecap="round"/><line x1="92.7" y1="579.8" x2="91.3" y2="578.8" stroke="#fff" stroke-width="0.86" stroke-opacity="0.46" stroke-linecap="round"/><line x1="82.3" y1="597.4" x2="79.2" y2="593.6" stroke="#fff" stroke-width="0.90" stroke-opacity="0.69" stroke-linecap="round"/><line x1="83.0" y1="571.0" x2="77.2" y2="572.3" stroke="#fff" stroke-width="0.84" stroke-opacity="0.68" stroke-linecap="round"/><line x1="64.1" y1="589.2" x2="67.4" y2="590.4" stroke="#fff" stroke-width="1.10" stroke-opacity="0.89" stroke-linecap="round"/><line x1="92.5" y1="582.2" x2="89.9" y2="583.8" stroke="#fff" stroke-width="0.88" stroke-opacity="0.77" stroke-linecap="round"/><line x1="92.4" y1="583.4" x2="91.5" y2="581.4" stroke="#fff" stroke-width="0.62" stroke-opacity="0.73" stroke-linecap="round"/><line x1="70.2" y1="569.6" x2="73.4" y2="570.4" stroke="#fff" stroke-width="0.75" stroke-opacity="0.59" stroke-linecap="round"/><line x1="84.6" y1="596.0" x2="81.3" y2="593.2" stroke="#fff" stroke-width="0.74" stroke-opacity="0.48" stroke-linecap="round"/><line x1="62.2" y1="575.0" x2="65.7" y2="575.9" stroke="#fff" stroke-width="0.70" stroke-opacity="0.70" stroke-linecap="round"/><line x1="67.7" y1="586.0" x2="67.3" y2="591.2" stroke="#fff" stroke-opacity="0.93" stroke-width="0.89"/><line x1="91.2" y1="569.6" x2="89.7" y2="574.6" stroke="#fff" stroke-opacity="0.63" stroke-width="0.92"/><line x1="74.4" y1="575.1" x2="70.1" y2="576.8" stroke="#fff" stroke-opacity="0.44" stroke-width="0.66"/><line x1="84.9" y1="582.1" x2="82.8" y2="588.0" stroke="#fff" stroke-opacity="0.87" stroke-width="0.74"/><line x1="68.3" y1="569.4" x2="70.6" y2="574.6" stroke="#fff" stroke-opacity="0.43" stroke-width="0.63"/><line x1="76.7" y1="591.1" x2="78.5" y2="595.1" stroke="#fff" stroke-opacity="0.65" stroke-width="0.58"/><line x1="76.9" y1="581.9" x2="76.6" y2="586.2" stroke="#fff" stroke-opacity="0.65" stroke-width="0.84"/><line x1="74.8" y1="582.1" x2="72.9" y2="586.5" stroke="#fff" stroke-opacity="0.87" stroke-width="0.98"/><line x1="86.4" y1="577.2" x2="84.9" y2="580.0" stroke="#fff" stroke-opacity="0.52" stroke-width="0.66"/><line x1="89.0" y1="573.9" x2="82.8" y2="577.2" stroke="#fff" stroke-opacity="0.87" stroke-width="0.52"/><line x1="71.7" y1="578.5" x2="70.2" y2="581.2" stroke="#fff" stroke-opacity="0.89" stroke-width="0.99"/><line x1="75.3" y1="583.0" x2="75.8" y2="586.7" stroke="#fff" stroke-opacity="0.69" stroke-width="0.65"/><line x1="81.5" y1="582.5" x2="81.4" y2="585.6" stroke="#fff" stroke-opacity="0.75" stroke-width="0.69"/><line x1="90.7" y1="586.8" x2="88.0" y2="591.6" stroke="#fff" stroke-opacity="0.46" stroke-width="0.66"/><line x1="76.1" y1="586.1" x2="72.8" y2="592.3" stroke="#fff" stroke-opacity="0.87" stroke-width="0.83"/><line x1="85.0" y1="579.0" x2="86.5" y2="581.5" stroke="#fff" stroke-opacity="0.86" stroke-width="0.56"/><line x1="77.1" y1="586.6" x2="78.5" y2="591.4" stroke="#fff" stroke-opacity="0.63" stroke-width="0.56"/><line x1="88.0" y1="578.8" x2="85.6" y2="584.3" stroke="#fff" stroke-opacity="0.77" stroke-width="0.81"/><line x1="90.9" y1="581.7" x2="91.2" y2="584.7" stroke="#fff" stroke-opacity="0.58" stroke-width="0.81"/><line x1="70.9" y1="569.9" x2="69.8" y2="572.3" stroke="#fff" stroke-opacity="0.45" stroke-width="0.84"/><line x1="85.6" y1="568.2" x2="90.5" y2="570.1" stroke="#fff" stroke-opacity="0.72" stroke-width="0.61"/><line x1="68.0" y1="572.1" x2="70.7" y2="572.7" stroke="#fff" stroke-opacity="0.79" stroke-width="0.66"/><line x1="91.3" y1="581.3" x2="90.4" y2="586.6" stroke="#fff" stroke-opacity="0.75" stroke-width="0.82"/><line x1="91.0" y1="567.7" x2="90.8" y2="573.1" stroke="#fff" stroke-opacity="0.55" stroke-width="0.50"/><line x1="85.8" y1="588.7" x2="82.5" y2="595.2" stroke="#fff" stroke-opacity="0.51" stroke-width="0.73"/><line x1="67.4" y1="568.6" x2="62.7" y2="573.7" stroke="#fff" stroke-opacity="0.89" stroke-width="0.90"/><line x1="84.1" y1="587.1" x2="84.6" y2="590.3" stroke="#fff" stroke-opacity="0.83" stroke-width="0.77"/><line x1="72.7" y1="589.3" x2="72.8" y2="593.6" stroke="#fff" stroke-opacity="0.89" stroke-width="0.57"/><line x1="62.1" y1="576.7" x2="62.3" y2="581.5" stroke="#fff" stroke-opacity="0.83" stroke-width="0.89"/><line x1="85.9" y1="591.3" x2="84.7" y2="593.6" stroke="#fff" stroke-opacity="0.59" stroke-width="0.79"/><line x1="83.2" y1="588.5" x2="85.1" y2="591.1" stroke="#fff" stroke-opacity="0.72" stroke-width="0.67"/><line x1="69.5" y1="576.4" x2="68.8" y2="583.6" stroke="#fff" stroke-opacity="0.49" stroke-width="0.67"/><line x1="82.1" y1="592.4" x2="76.5" y2="596.4" stroke="#fff" stroke-opacity="0.85" stroke-width="0.82"/><line x1="71.5" y1="575.0" x2="70.2" y2="578.1" stroke="#fff" stroke-opacity="0.73" stroke-width="0.67"/><line x1="74.6" y1="583.4" x2="71.3" y2="590.6" stroke="#fff" stroke-opacity="0.92" stroke-width="0.57"/><line x1="89.2" y1="578.1" x2="89.1" y2="584.8" stroke="#fff" stroke-opacity="0.95" stroke-width="0.70"/><line x1="69.3" y1="586.2" x2="72.5" y2="590.3" stroke="#fff" stroke-opacity="0.40" stroke-width="0.76"/><line x1="70.4" y1="583.8" x2="72.3" y2="587.3" stroke="#fff" stroke-opacity="0.68" stroke-width="0.59"/><line x1="82.1" y1="585.2" x2="79.0" y2="588.4" stroke="#fff" stroke-opacity="0.50" stroke-width="0.60"/><line x1="77.5" y1="578.4" x2="81.1" y2="580.2" stroke="#fff" stroke-opacity="0.62" stroke-width="0.86"/><line x1="84.1" y1="576.9" x2="79.6" y2="583.4" stroke="#fff" stroke-opacity="0.45" stroke-width="0.72"/><line x1="88.7" y1="582.3" x2="90.7" y2="587.4" stroke="#fff" stroke-opacity="0.51" stroke-width="0.59"/><line x1="80.7" y1="587.1" x2="83.1" y2="591.6" stroke="#fff" stroke-opacity="0.61" stroke-width="0.55"/><line x1="86.5" y1="578.4" x2="90.6" y2="579.4" stroke="#fff" stroke-opacity="0.61" stroke-width="0.61"/><line x1="76.2" y1="578.8" x2="77.2" y2="581.1" stroke="#fff" stroke-opacity="0.88" stroke-width="0.85"/><line x1="71.7" y1="589.8" x2="68.0" y2="590.0" stroke="#fff" stroke-opacity="0.65" stroke-width="0.52"/><line x1="87.1" y1="569.0" x2="88.6" y2="576.0" stroke="#fff" stroke-opacity="0.90" stroke-width="0.81"/><line x1="74.7" y1="590.4" x2="72.9" y2="593.8" stroke="#fff" stroke-opacity="0.72" stroke-width="0.99"/><line x1="83.3" y1="581.6" x2="87.6" y2="584.3" stroke="#fff" stroke-opacity="0.76" stroke-width="0.95"/><line x1="65.1" y1="577.9" x2="68.2" y2="578.6" stroke="#fff" stroke-opacity="0.79" stroke-width="0.91"/><line x1="87.8" y1="574.5" x2="88.0" y2="577.2" stroke="#fff" stroke-opacity="0.54" stroke-width="0.88"/><line x1="64.7" y1="576.8" x2="65.0" y2="579.7" stroke="#fff" stroke-opacity="0.56" stroke-width="0.81"/><line x1="85.6" y1="583.4" x2="87.1" y2="585.9" stroke="#fff" stroke-opacity="0.44" stroke-width="0.79"/><line x1="72.4" y1="587.8" x2="72.9" y2="592.7" stroke="#fff" stroke-opacity="0.81" stroke-width="0.61"/><line x1="71.6" y1="588.9" x2="70.4" y2="592.8" stroke="#fff" stroke-opacity="0.50" stroke-width="0.99"/><line x1="92.8" y1="577.4" x2="95.3" y2="579.2" stroke="#fff" stroke-width="0.5" stroke-opacity="0.6"/><line x1="92.8" y1="577.4" x2="94.9" y2="577.7" stroke="#fff" stroke-width="0.5" stroke-opacity="0.6"/><line x1="67.9" y1="594.2" x2="67.0" y2="595.9" stroke="#fff" stroke-width="0.5" stroke-opacity="0.6"/><line x1="73.7" y1="598.2" x2="72.1" y2="599.9" stroke="#fff" stroke-width="0.5" stroke-opacity="0.6"/><line x1="71.3" y1="596.6" x2="71.2" y2="598.6" stroke="#fff" stroke-width="0.5" stroke-opacity="0.6"/><line x1="61.7" y1="582.0" x2="58.2" y2="583.6" stroke="#fff" stroke-width="0.5" stroke-opacity="0.6"/><line x1="92.8" y1="568.1" x2="95.1" y2="567.6" stroke="#fff" stroke-width="0.5" stroke-opacity="0.6"/><line x1="92.8" y1="566.7" x2="95.6" y2="565.9" stroke="#fff" stroke-width="0.5" stroke-opacity="0.6"/><line x1="73.7" y1="598.2" x2="71.3" y2="601.3" stroke="#fff" stroke-width="0.5" stroke-opacity="0.6"/><line x1="84.6" y1="596.0" x2="84.3" y2="599.6" stroke="#fff" stroke-width="0.5" stroke-opacity="0.6"/><path d="M65,571 L64.5,580 L66.5,590" stroke="#fff" stroke-width="1.8" fill="none" stroke-opacity="0.8"/><path d="M90,569 L90.5,580 L89,588" stroke="#fff" stroke-width="1.8" fill="none" stroke-opacity="0.8"/><line x1="102" y1="586" x2="102.5" y2="589" stroke="#fff" stroke-width="0.5" stroke-opacity="0.6"/>
<path d="M146.8,569.5 L150.5,569.0 L154.7,570.1 L157.5,574.0 L160.3,578.0 L163.0,575.0 L165.4,571.8 L169.3,568.4 L173.0,567.8 L176.1,568.4 L177.5,574.0 L177.2,581.3 L174.5,586.0 L171.6,590.3 L167.5,594.5 L163.7,598.2 L159.0,598.8 L154.7,598.2 L151.0,595.5 L148.0,592.6 L145.5,587.0 L143.5,581.3 L144.5,574.0 Z" fill="none" stroke="#fff" stroke-width="3.5" stroke-opacity="0.3" stroke-linejoin="round"/><path d="M146.7,569.5 L148.3,569.1 L149.0,568.8 L150.2,568.6 L151.6,569.4 L153.7,569.9" fill="none" stroke="#fff" stroke-width="1.1" stroke-opacity="0.85" stroke-linejoin="round" stroke-linecap="round"/><path d="M156.9,572.7 L157.2,573.7 L158.6,574.7 L159.0,576.4 L159.2,576.9" fill="none" stroke="#fff" stroke-width="1.1" stroke-opacity="0.85" stroke-linejoin="round" stroke-linecap="round"/><path d="M163.1,575.3 L163.7,573.6 L164.8,573.1 L165.5,571.7 L166.6,571.1" fill="none" stroke="#fff" stroke-width="1.1" stroke-opacity="0.85" stroke-linejoin="round" stroke-linecap="round"/><path d="M166.6,571.1 L167.4,570.1 L168.1,569.2 L169.5,568.5 L170.4,568.5 L172.0,567.6" fill="none" stroke="#fff" stroke-width="1.1" stroke-opacity="0.85" stroke-linejoin="round" stroke-linecap="round"/><path d="M172.0,567.6 L172.7,567.6 L174.2,568.3 L176.2,568.4" fill="none" stroke="#fff" stroke-width="1.1" stroke-opacity="0.85" stroke-linejoin="round" stroke-linecap="round"/><path d="M176.2,568.4 L176.8,569.7 L176.6,570.9 L177.0,572.9" fill="none" stroke="#fff" stroke-width="1.1" stroke-opacity="0.85" stroke-linejoin="round" stroke-linecap="round"/><path d="M177.0,572.9 L177.6,573.6 L177.4,574.9 L177.5,576.1 L177.1,577.8" fill="none" stroke="#fff" stroke-width="1.1" stroke-opacity="0.85" stroke-linejoin="round" stroke-linecap="round"/><path d="M177.1,577.8 L177.6,579.0 L177.1,580.2 L177.0,580.9 L176.3,582.6 L176.0,583.4" fill="none" stroke="#fff" stroke-width="1.1" stroke-opacity="0.85" stroke-linejoin="round" stroke-linecap="round"/><path d="M176.0,583.4 L175.4,585.1 L174.3,586.4 L173.6,586.7 L173.1,588.4" fill="none" stroke="#fff" stroke-width="1.1" stroke-opacity="0.85" stroke-linejoin="round" stroke-linecap="round"/><path d="M173.1,588.4 L172.4,589.3 L171.6,590.1 L170.4,591.3 L169.6,592.8 L168.2,593.3" fill="none" stroke="#fff" stroke-width="1.1" stroke-opacity="0.85" stroke-linejoin="round" stroke-linecap="round"/><path d="M168.2,593.3 L167.9,594.6 L166.2,595.4 L165.7,596.7 L164.3,597.6 L163.9,598.0" fill="none" stroke="#fff" stroke-width="1.1" stroke-opacity="0.85" stroke-linejoin="round" stroke-linecap="round"/><path d="M163.9,598.0 L162.2,598.7 L160.4,598.8" fill="none" stroke="#fff" stroke-width="1.1" stroke-opacity="0.85" stroke-linejoin="round" stroke-linecap="round"/><path d="M160.4,598.8 L159.0,598.5 L157.4,598.5 L155.8,598.8 L154.5,598.0" fill="none" stroke="#fff" stroke-width="1.1" stroke-opacity="0.85" stroke-linejoin="round" stroke-linecap="round"/><path d="M154.5,598.0 L153.5,597.3 L152.1,596.3 L151.0,595.8 L149.7,594.9" fill="none" stroke="#fff" stroke-width="1.1" stroke-opacity="0.85" stroke-linejoin="round" stroke-linecap="round"/><path d="M146.3,589.4 L146.2,587.7 L145.3,587.0 L144.9,585.6" fill="none" stroke="#fff" stroke-width="1.1" stroke-opacity="0.85" stroke-linejoin="round" stroke-linecap="round"/><path d="M144.9,585.6 L144.5,584.3 L144.0,583.5 L143.9,582.6 L143.3,581.0" fill="none" stroke="#fff" stroke-width="1.1" stroke-opacity="0.85" stroke-linejoin="round" stroke-linecap="round"/><path d="M143.3,581.0 L144.0,580.2 L144.0,579.0 L143.9,577.7 L144.0,576.6 L144.6,574.8" fill="none" stroke="#fff" stroke-width="1.1" stroke-opacity="0.85" stroke-linejoin="round" stroke-linecap="round"/><path d="M144.6,574.8 L144.7,573.7 L144.7,572.5 L145.7,572.0 L146.6,570.4" fill="none" stroke="#fff" stroke-width="1.1" stroke-opacity="0.85" stroke-linejoin="round" stroke-linecap="round"/><path d="M158.7,575.4 L159.2,577.7 L160.4,577.7" fill="none" stroke="#fff" stroke-width="0.9" stroke-opacity="0.75" stroke-linejoin="round" stroke-linecap="round"/><path d="M160.4,577.7 L162.0,576.2 L161.2,576.5 L163.1,575.6 L163.8,574.7 L164.3,572.4 L166.1,571.9 L165.5,570.1" fill="none" stroke="#fff" stroke-width="0.9" stroke-opacity="0.75" stroke-linejoin="round" stroke-linecap="round"/><path d="M165.5,570.1 L166.5,570.5 L168.6,568.6 L169.8,568.9 L170.8,568.3" fill="none" stroke="#fff" stroke-width="0.9" stroke-opacity="0.75" stroke-linejoin="round" stroke-linecap="round"/><path d="M170.8,568.3 L171.6,568.3 L172.8,568.6" fill="none" stroke="#fff" stroke-width="0.9" stroke-opacity="0.75" stroke-linejoin="round" stroke-linecap="round"/><path d="M172.8,568.6 L174.7,568.4 L176.9,569.3 L176.5,569.1" fill="none" stroke="#fff" stroke-width="0.9" stroke-opacity="0.75" stroke-linejoin="round" stroke-linecap="round"/><path d="M176.5,569.1 L176.8,572.0 L176.6,572.2 L177.1,573.5 L178.0,575.3 L176.7,576.5" fill="none" stroke="#fff" stroke-width="0.9" stroke-opacity="0.75" stroke-linejoin="round" stroke-linecap="round"/><path d="M176.7,576.5 L177.7,576.8 L176.8,578.0 L177.6,579.9 L176.3,580.8 L176.0,582.6 L175.7,583.5 L174.9,584.0" fill="none" stroke="#fff" stroke-width="0.9" stroke-opacity="0.75" stroke-linejoin="round" stroke-linecap="round"/><path d="M174.9,584.0 L174.2,586.2 L173.8,587.2 L172.4,587.3 L172.8,589.6 L171.9,591.1" fill="none" stroke="#fff" stroke-width="0.9" stroke-opacity="0.75" stroke-linejoin="round" stroke-linecap="round"/><path d="M169.3,593.4 L167.7,595.4 L166.5,595.0 L166.4,596.7 L164.3,596.9 L162.8,597.5 L163.0,598.5 L161.1,598.1" fill="none" stroke="#fff" stroke-width="0.9" stroke-opacity="0.75" stroke-linejoin="round" stroke-linecap="round"/><path d="M161.1,598.1 L159.6,599.2 L158.2,598.6 L156.9,598.5 L154.1,598.9" fill="none" stroke="#fff" stroke-width="0.9" stroke-opacity="0.75" stroke-linejoin="round" stroke-linecap="round"/><path d="M154.1,598.9 L153.1,598.1 L152.3,596.2" fill="none" stroke="#fff" stroke-width="0.9" stroke-opacity="0.75" stroke-linejoin="round" stroke-linecap="round"/><path d="M152.3,596.2 L151.0,595.3 L149.2,593.7" fill="none" stroke="#fff" stroke-width="0.9" stroke-opacity="0.75" stroke-linejoin="round" stroke-linecap="round"/><path d="M149.2,593.7 L148.3,594.3 L147.7,591.7" fill="none" stroke="#fff" stroke-width="0.9" stroke-opacity="0.75" stroke-linejoin="round" stroke-linecap="round"/><path d="M147.7,591.7 L147.3,591.7 L147.2,591.1 L146.2,590.1" fill="none" stroke="#fff" stroke-width="0.9" stroke-opacity="0.75" stroke-linejoin="round" stroke-linecap="round"/><path d="M146.2,590.1 L145.1,587.5 L145.5,587.3 L145.0,586.4 L144.8,583.8 L144.1,583.8 L143.5,581.9 L143.8,581.2" fill="none" stroke="#fff" stroke-width="0.9" stroke-opacity="0.75" stroke-linejoin="round" stroke-linecap="round"/><path d="M158.7,574.9 L159.8,575.4 L160.3,576.1 L160.5,577.5" fill="none" stroke="#fff" stroke-width="0.7" stroke-opacity="0.6" stroke-linejoin="round" stroke-linecap="round"/><path d="M163.4,575.4 L164.2,573.8 L164.8,573.6 L166.7,571.5 L167.0,571.8 L168.2,570.5 L167.6,570.1 L169.5,569.0" fill="none" stroke="#fff" stroke-width="0.7" stroke-opacity="0.6" stroke-linejoin="round" stroke-linecap="round"/><path d="M169.5,569.0 L171.2,567.4 L170.7,568.7 L173.4,566.5 L173.4,567.9 L176.5,567.4 L177.0,569.4" fill="none" stroke="#fff" stroke-width="0.7" stroke-opacity="0.6" stroke-linejoin="round" stroke-linecap="round"/><path d="M177.0,569.4 L177.2,570.6 L176.5,571.7 L178.0,574.3 L176.3,574.2 L178.3,575.8 L178.5,578.9 L178.1,577.9" fill="none" stroke="#fff" stroke-width="0.7" stroke-opacity="0.6" stroke-linejoin="round" stroke-linecap="round"/><path d="M178.1,577.9 L176.2,580.9 L177.0,580.1" fill="none" stroke="#fff" stroke-width="0.7" stroke-opacity="0.6" stroke-linejoin="round" stroke-linecap="round"/><path d="M177.0,580.1 L175.5,581.9 L175.2,582.4 L175.7,583.7 L173.9,586.5" fill="none" stroke="#fff" stroke-width="0.7" stroke-opacity="0.6" stroke-linejoin="round" stroke-linecap="round"/><path d="M173.9,586.5 L174.4,587.8 L172.4,587.3 L172.6,590.0 L172.2,590.9 L170.4,591.9 L170.6,592.7 L167.6,594.3" fill="none" stroke="#fff" stroke-width="0.7" stroke-opacity="0.6" stroke-linejoin="round" stroke-linecap="round"/><path d="M151.4,594.6 L151.0,594.5 L148.0,592.8 L147.0,591.7" fill="none" stroke="#fff" stroke-width="0.7" stroke-opacity="0.6" stroke-linejoin="round" stroke-linecap="round"/><path d="M147.0,591.7 L147.5,592.1 L147.5,591.6 L147.8,589.6 L146.9,589.2 L145.5,587.9 L145.3,586.5" fill="none" stroke="#fff" stroke-width="0.7" stroke-opacity="0.6" stroke-linejoin="round" stroke-linecap="round"/><path d="M145.3,586.5 L145.5,585.8 L144.3,582.5 L142.8,583.0 L143.8,582.2 L142.8,580.9 L145.1,578.8 L142.9,578.1" fill="none" stroke="#fff" stroke-width="0.7" stroke-opacity="0.6" stroke-linejoin="round" stroke-linecap="round"/><path d="M142.9,578.1 L143.1,577.2 L145.1,574.9 L145.6,573.7 L145.9,572.3 L146.2,570.7" fill="none" stroke="#fff" stroke-width="0.7" stroke-opacity="0.6" stroke-linejoin="round" stroke-linecap="round"/><path d="M156.8,570.1 L154.6,572.5 L158.5,572.1 L157.2,572.9 L159.9,575.7 L159.5,574.4" fill="none" stroke="#fff" stroke-width="0.5" stroke-opacity="0.45" stroke-linejoin="round" stroke-linecap="round"/><path d="M159.5,574.4 L158.5,577.2 L160.7,577.9" fill="none" stroke="#fff" stroke-width="0.5" stroke-opacity="0.45" stroke-linejoin="round" stroke-linecap="round"/><path d="M160.7,577.9 L160.7,575.7 L161.6,576.3" fill="none" stroke="#fff" stroke-width="0.5" stroke-opacity="0.45" stroke-linejoin="round" stroke-linecap="round"/><path d="M161.6,576.3 L161.9,575.6 L162.0,575.5 L163.3,573.8 L163.8,572.8 L168.1,570.1" fill="none" stroke="#fff" stroke-width="0.5" stroke-opacity="0.45" stroke-linejoin="round" stroke-linecap="round"/><path d="M168.1,570.1 L165.6,568.7 L168.0,567.5 L168.5,569.4 L170.3,566.5 L171.7,566.7 L172.4,568.8" fill="none" stroke="#fff" stroke-width="0.5" stroke-opacity="0.45" stroke-linejoin="round" stroke-linecap="round"/><path d="M178.0,569.1 L175.6,570.8 L176.4,571.6 L178.5,575.7 L175.7,575.5 L178.7,574.9 L178.8,577.0 L177.6,579.3" fill="none" stroke="#fff" stroke-width="0.5" stroke-opacity="0.45" stroke-linejoin="round" stroke-linecap="round"/><path d="M177.6,579.3 L177.3,579.3 L176.0,580.6 L177.4,581.9 L176.4,584.1 L176.2,585.5 L173.4,584.2 L174.0,586.8" fill="none" stroke="#fff" stroke-width="0.5" stroke-opacity="0.45" stroke-linejoin="round" stroke-linecap="round"/><path d="M174.0,586.8 L171.8,587.1 L173.3,587.8 L173.3,591.6" fill="none" stroke="#fff" stroke-width="0.5" stroke-opacity="0.45" stroke-linejoin="round" stroke-linecap="round"/><path d="M163.6,596.9 L161.6,599.6 L161.3,599.8 L160.8,597.4 L158.0,598.5 L155.5,598.6" fill="none" stroke="#fff" stroke-width="0.5" stroke-opacity="0.45" stroke-linejoin="round" stroke-linecap="round"/><path d="M142.5,576.4 L142.8,574.4 L144.8,572.2 L145.8,572.7 L145.3,573.1 L145.5,568.9" fill="none" stroke="#fff" stroke-width="0.5" stroke-opacity="0.45" stroke-linejoin="round" stroke-linecap="round"/><line x1="146.8" y1="569.5" x2="147.0" y2="575.0" stroke="#fff" stroke-width="1.03" stroke-opacity="0.94" stroke-linecap="round"/><line x1="145.1" y1="585.9" x2="148.9" y2="586.2" stroke="#fff" stroke-width="0.52" stroke-opacity="0.92" stroke-linecap="round"/><line x1="156.1" y1="598.4" x2="157.1" y2="593.7" stroke="#fff" stroke-width="0.76" stroke-opacity="0.57" stroke-linecap="round"/><line x1="177.3" y1="578.9" x2="174.0" y2="576.2" stroke="#fff" stroke-width="0.87" stroke-opacity="0.51" stroke-linecap="round"/><line x1="157.5" y1="574.0" x2="156.6" y2="577.2" stroke="#fff" stroke-width="0.59" stroke-opacity="0.92" stroke-linecap="round"/><line x1="167.4" y1="570.1" x2="168.7" y2="573.6" stroke="#fff" stroke-width="0.86" stroke-opacity="0.93" stroke-linecap="round"/><line x1="175.8" y1="583.6" x2="173.5" y2="585.2" stroke="#fff" stroke-width="1.03" stroke-opacity="0.94" stroke-linecap="round"/><line x1="176.8" y1="571.2" x2="176.2" y2="575.3" stroke="#fff" stroke-width="0.69" stroke-opacity="0.51" stroke-linecap="round"/><line x1="150.5" y1="569.0" x2="150.7" y2="570.8" stroke="#fff" stroke-width="0.61" stroke-opacity="0.52" stroke-linecap="round"/><line x1="176.8" y1="571.2" x2="175.3" y2="575.1" stroke="#fff" stroke-width="1.04" stroke-opacity="0.61" stroke-linecap="round"/><line x1="177.4" y1="575.2" x2="175.5" y2="575.4" stroke="#fff" stroke-width="0.85" stroke-opacity="0.82" stroke-linecap="round"/><line x1="158.2" y1="575.0" x2="160.6" y2="579.7" stroke="#fff" stroke-width="0.70" stroke-opacity="0.78" stroke-linecap="round"/><line x1="175.2" y1="584.8" x2="170.7" y2="588.5" stroke="#fff" stroke-width="0.58" stroke-opacity="0.63" stroke-linecap="round"/><line x1="177.4" y1="575.2" x2="172.3" y2="573.1" stroke="#fff" stroke-width="0.61" stroke-opacity="0.53" stroke-linecap="round"/><line x1="173.1" y1="588.1" x2="170.8" y2="585.5" stroke="#fff" stroke-width="0.69" stroke-opacity="0.82" stroke-linecap="round"/><line x1="154.7" y1="598.2" x2="152.9" y2="595.9" stroke="#fff" stroke-width="0.83" stroke-opacity="0.58" stroke-linecap="round"/><line x1="148.0" y1="592.6" x2="152.2" y2="591.6" stroke="#fff" stroke-width="0.77" stroke-opacity="0.66" stroke-linecap="round"/><line x1="150.0" y1="594.5" x2="154.2" y2="594.7" stroke="#fff" stroke-width="0.71" stroke-opacity="0.55" stroke-linecap="round"/><line x1="158.9" y1="576.0" x2="158.2" y2="579.9" stroke="#fff" stroke-width="0.77" stroke-opacity="0.83" stroke-linecap="round"/><line x1="144.2" y1="576.4" x2="145.7" y2="576.9" stroke="#fff" stroke-width="0.86" stroke-opacity="0.55" stroke-linecap="round"/><line x1="160.3" y1="578.0" x2="161.2" y2="582.6" stroke="#fff" stroke-width="0.82" stroke-opacity="0.78" stroke-linecap="round"/><line x1="177.3" y1="578.9" x2="174.2" y2="583.8" stroke="#fff" stroke-width="0.91" stroke-opacity="0.47" stroke-linecap="round"/><line x1="177.4" y1="576.4" x2="176.4" y2="578.5" stroke="#fff" stroke-width="0.94" stroke-opacity="0.58" stroke-linecap="round"/><line x1="177.3" y1="578.9" x2="174.0" y2="579.8" stroke="#fff" stroke-width="0.98" stroke-opacity="0.53" stroke-linecap="round"/><line x1="144.0" y1="577.6" x2="146.8" y2="580.7" stroke="#fff" stroke-width="0.71" stroke-opacity="0.76" stroke-linecap="round"/><line x1="177.4" y1="576.4" x2="176.3" y2="577.9" stroke="#fff" stroke-width="0.76" stroke-opacity="0.51" stroke-linecap="round"/><line x1="174.6" y1="568.1" x2="172.9" y2="573.8" stroke="#fff" stroke-width="0.99" stroke-opacity="0.74" stroke-linecap="round"/><line x1="167.4" y1="570.1" x2="162.3" y2="573.0" stroke="#fff" stroke-width="0.87" stroke-opacity="0.63" stroke-linecap="round"/><line x1="169.6" y1="592.4" x2="167.5" y2="588.6" stroke="#fff" stroke-width="0.59" stroke-opacity="0.50" stroke-linecap="round"/><line x1="146.8" y1="569.5" x2="150.2" y2="568.7" stroke="#fff" stroke-width="1.08" stroke-opacity="0.62" stroke-linecap="round"/><line x1="149.0" y1="593.6" x2="150.6" y2="590.8" stroke="#fff" stroke-width="0.76" stroke-opacity="0.74" stroke-linecap="round"/><line x1="177.5" y1="574.0" x2="175.4" y2="572.6" stroke="#fff" stroke-width="0.74" stroke-opacity="0.66" stroke-linecap="round"/><line x1="144.2" y1="576.4" x2="145.0" y2="578.2" stroke="#fff" stroke-width="1.00" stroke-opacity="0.89" stroke-linecap="round"/><line x1="144.3" y1="575.2" x2="145.8" y2="575.1" stroke="#fff" stroke-width="0.66" stroke-opacity="0.61" stroke-linecap="round"/><line x1="150.0" y1="594.5" x2="150.1" y2="592.8" stroke="#fff" stroke-width="0.99" stroke-opacity="0.91" stroke-linecap="round"/><line x1="158.9" y1="576.0" x2="160.2" y2="577.7" stroke="#fff" stroke-width="0.52" stroke-opacity="0.73" stroke-linecap="round"/><line x1="150.5" y1="569.0" x2="153.0" y2="571.2" stroke="#fff" stroke-width="0.65" stroke-opacity="0.58" stroke-linecap="round"/><line x1="144.7" y1="584.7" x2="148.9" y2="586.7" stroke="#fff" stroke-width="0.61" stroke-opacity="0.53" stroke-linecap="round"/><line x1="174.6" y1="568.1" x2="171.8" y2="571.5" stroke="#fff" stroke-width="0.84" stroke-opacity="0.86" stroke-linecap="round"/><line x1="177.5" y1="574.0" x2="175.2" y2="577.0" stroke="#fff" stroke-width="0.79" stroke-opacity="0.94" stroke-linecap="round"/><line x1="176.5" y1="582.5" x2="172.3" y2="582.5" stroke="#fff" stroke-width="0.89" stroke-opacity="0.60" stroke-linecap="round"/><line x1="175.8" y1="583.6" x2="172.7" y2="582.7" stroke="#fff" stroke-width="0.64" stroke-opacity="0.61" stroke-linecap="round"/><line x1="146.8" y1="569.5" x2="149.0" y2="570.2" stroke="#fff" stroke-width="0.98" stroke-opacity="0.61" stroke-linecap="round"/><line x1="148.0" y1="592.6" x2="151.0" y2="591.7" stroke="#fff" stroke-width="1.08" stroke-opacity="0.55" stroke-linecap="round"/><line x1="156.1" y1="598.4" x2="155.4" y2="593.5" stroke="#fff" stroke-width="0.68" stroke-opacity="0.82" stroke-linecap="round"/><line x1="145.1" y1="572.9" x2="148.5" y2="576.0" stroke="#fff" stroke-width="0.54" stroke-opacity="0.71" stroke-linecap="round"/><line x1="163.7" y1="598.2" x2="161.1" y2="592.9" stroke="#fff" stroke-width="0.86" stroke-opacity="0.83" stroke-linecap="round"/><line x1="177.2" y1="580.1" x2="174.4" y2="580.0" stroke="#fff" stroke-width="0.50" stroke-opacity="0.88" stroke-linecap="round"/><line x1="146.8" y1="569.5" x2="147.0" y2="571.5" stroke="#fff" stroke-width="1.02" stroke-opacity="0.62" stroke-linecap="round"/><line x1="146.0" y1="588.1" x2="151.2" y2="588.9" stroke="#fff" stroke-width="0.81" stroke-opacity="0.75" stroke-linecap="round"/><line x1="147.0" y1="590.4" x2="152.4" y2="591.4" stroke="#fff" stroke-width="0.93" stroke-opacity="0.61" stroke-linecap="round"/><line x1="176.5" y1="582.5" x2="174.6" y2="582.0" stroke="#fff" stroke-width="0.90" stroke-opacity="0.77" stroke-linecap="round"/><line x1="153.3" y1="569.7" x2="155.5" y2="572.3" stroke="#fff" stroke-width="0.69" stroke-opacity="0.69" stroke-linecap="round"/><line x1="174.6" y1="568.1" x2="173.1" y2="570.6" stroke="#fff" stroke-width="0.71" stroke-opacity="0.53" stroke-linecap="round"/><line x1="177.2" y1="572.6" x2="173.4" y2="571.0" stroke="#fff" stroke-width="0.60" stroke-opacity="0.88" stroke-linecap="round"/><line x1="168.5" y1="593.5" x2="167.9" y2="589.2" stroke="#fff" stroke-width="0.63" stroke-opacity="0.64" stroke-linecap="round"/><line x1="168.3" y1="569.2" x2="167.3" y2="571.9" stroke="#fff" stroke-width="0.61" stroke-opacity="0.84" stroke-linecap="round"/><line x1="174.6" y1="568.1" x2="174.3" y2="569.8" stroke="#fff" stroke-width="1.04" stroke-opacity="0.73" stroke-linecap="round"/><line x1="143.8" y1="578.9" x2="146.6" y2="581.7" stroke="#fff" stroke-width="0.79" stroke-opacity="0.61" stroke-linecap="round"/><line x1="144.5" y1="574.0" x2="145.3" y2="575.3" stroke="#fff" stroke-width="0.59" stroke-opacity="0.91" stroke-linecap="round"/><line x1="153.2" y1="582.7" x2="157.2" y2="586.5" stroke="#fff" stroke-opacity="0.47" stroke-width="0.58"/><line x1="156.5" y1="590.6" x2="156.6" y2="593.6" stroke="#fff" stroke-opacity="0.54" stroke-width="0.95"/><line x1="151.6" y1="573.7" x2="152.3" y2="576.5" stroke="#fff" stroke-opacity="0.72" stroke-width="0.70"/><line x1="165.4" y1="594.2" x2="162.8" y2="595.1" stroke="#fff" stroke-opacity="0.88" stroke-width="0.55"/><line x1="163.9" y1="590.4" x2="161.9" y2="595.8" stroke="#fff" stroke-opacity="0.92" stroke-width="0.64"/><line x1="161.3" y1="583.5" x2="159.3" y2="590.9" stroke="#fff" stroke-opacity="0.80" stroke-width="0.73"/><line x1="156.8" y1="576.8" x2="153.8" y2="578.3" stroke="#fff" stroke-opacity="0.41" stroke-width="0.71"/><line x1="174.5" y1="574.6" x2="170.6" y2="576.4" stroke="#fff" stroke-opacity="0.75" stroke-width="0.82"/><line x1="146.9" y1="589.4" x2="149.1" y2="592.6" stroke="#fff" stroke-opacity="0.93" stroke-width="0.54"/><line x1="150.8" y1="586.8" x2="149.6" y2="593.3" stroke="#fff" stroke-opacity="0.68" stroke-width="0.84"/><line x1="167.9" y1="588.7" x2="169.8" y2="590.6" stroke="#fff" stroke-opacity="0.56" stroke-width="0.99"/><line x1="157.8" y1="583.2" x2="157.3" y2="585.7" stroke="#fff" stroke-opacity="0.69" stroke-width="0.52"/><line x1="147.6" y1="585.5" x2="149.9" y2="592.0" stroke="#fff" stroke-opacity="0.51" stroke-width="0.57"/><line x1="150.3" y1="578.8" x2="148.5" y2="582.5" stroke="#fff" stroke-opacity="0.82" stroke-width="0.85"/><line x1="164.0" y1="574.2" x2="161.7" y2="578.4" stroke="#fff" stroke-opacity="0.83" stroke-width="0.56"/><line x1="175.4" y1="570.4" x2="174.8" y2="577.5" stroke="#fff" stroke-opacity="0.93" stroke-width="0.57"/><line x1="145.1" y1="578.4" x2="146.8" y2="583.5" stroke="#fff" stroke-opacity="0.67" stroke-width="0.89"/><line x1="169.8" y1="572.0" x2="173.9" y2="577.7" stroke="#fff" stroke-opacity="0.84" stroke-width="0.91"/><line x1="165.1" y1="576.7" x2="167.4" y2="579.9" stroke="#fff" stroke-opacity="0.79" stroke-width="0.72"/><line x1="158.0" y1="582.2" x2="158.8" y2="590.0" stroke="#fff" stroke-opacity="0.62" stroke-width="0.58"/><line x1="154.4" y1="580.4" x2="160.8" y2="581.3" stroke="#fff" stroke-opacity="0.65" stroke-width="0.61"/><line x1="147.4" y1="582.0" x2="151.7" y2="588.8" stroke="#fff" stroke-opacity="0.80" stroke-width="0.85"/><line x1="169.8" y1="571.1" x2="173.8" y2="575.0" stroke="#fff" stroke-opacity="0.67" stroke-width="0.55"/><line x1="165.9" y1="582.9" x2="167.1" y2="585.3" stroke="#fff" stroke-opacity="0.87" stroke-width="0.97"/><line x1="168.5" y1="575.4" x2="165.7" y2="575.4" stroke="#fff" stroke-opacity="0.73" stroke-width="0.59"/><line x1="165.7" y1="589.7" x2="166.3" y2="595.1" stroke="#fff" stroke-opacity="0.47" stroke-width="0.97"/><line x1="166.7" y1="583.9" x2="164.8" y2="587.0" stroke="#fff" stroke-opacity="0.59" stroke-width="0.62"/><line x1="158.5" y1="588.5" x2="165.7" y2="590.1" stroke="#fff" stroke-opacity="0.49" stroke-width="0.70"/><line x1="160.5" y1="585.9" x2="158.3" y2="592.0" stroke="#fff" stroke-opacity="0.68" stroke-width="0.75"/><line x1="153.3" y1="572.7" x2="150.2" y2="577.4" stroke="#fff" stroke-opacity="0.77" stroke-width="0.55"/><line x1="158.5" y1="578.1" x2="153.1" y2="579.7" stroke="#fff" stroke-opacity="0.92" stroke-width="0.53"/><line x1="173.9" y1="583.7" x2="169.2" y2="585.7" stroke="#fff" stroke-opacity="0.78" stroke-width="0.61"/><line x1="158.8" y1="581.8" x2="157.4" y2="584.9" stroke="#fff" stroke-opacity="0.80" stroke-width="0.75"/><line x1="162.7" y1="580.3" x2="163.0" y2="587.1" stroke="#fff" stroke-opacity="0.64" stroke-width="0.52"/><line x1="151.8" y1="577.4" x2="150.0" y2="581.7" stroke="#fff" stroke-opacity="0.86" stroke-width="0.64"/><line x1="170.5" y1="579.9" x2="166.7" y2="586.8" stroke="#fff" stroke-opacity="0.61" stroke-width="0.84"/><line x1="162.7" y1="577.1" x2="165.0" y2="581.1" stroke="#fff" stroke-opacity="0.72" stroke-width="0.61"/><line x1="173.4" y1="571.4" x2="173.6" y2="577.3" stroke="#fff" stroke-opacity="0.68" stroke-width="0.50"/><line x1="164.2" y1="588.6" x2="165.5" y2="595.4" stroke="#fff" stroke-opacity="0.72" stroke-width="0.62"/><line x1="152.8" y1="585.9" x2="150.7" y2="590.0" stroke="#fff" stroke-opacity="0.86" stroke-width="0.77"/><line x1="155.5" y1="574.8" x2="160.2" y2="578.1" stroke="#fff" stroke-opacity="0.71" stroke-width="0.99"/><line x1="159.0" y1="582.6" x2="158.7" y2="585.3" stroke="#fff" stroke-opacity="0.40" stroke-width="0.75"/><line x1="157.2" y1="588.6" x2="160.3" y2="594.7" stroke="#fff" stroke-opacity="0.65" stroke-width="0.97"/><line x1="159.2" y1="583.3" x2="160.3" y2="588.7" stroke="#fff" stroke-opacity="0.92" stroke-width="0.71"/><line x1="151.5" y1="573.0" x2="153.2" y2="575.4" stroke="#fff" stroke-opacity="0.80" stroke-width="0.66"/><line x1="162.9" y1="594.3" x2="162.7" y2="597.2" stroke="#fff" stroke-opacity="0.55" stroke-width="0.80"/><line x1="165.9" y1="586.1" x2="167.6" y2="592.4" stroke="#fff" stroke-opacity="0.70" stroke-width="0.60"/><line x1="175.3" y1="579.2" x2="174.8" y2="582.1" stroke="#fff" stroke-opacity="0.89" stroke-width="0.51"/><line x1="153.7" y1="577.7" x2="153.3" y2="581.4" stroke="#fff" stroke-opacity="0.95" stroke-width="0.86"/><line x1="155.7" y1="580.7" x2="150.4" y2="583.8" stroke="#fff" stroke-opacity="0.47" stroke-width="0.66"/><line x1="147.0" y1="590.4" x2="143.1" y2="590.6" stroke="#fff" stroke-width="0.5" stroke-opacity="0.6"/><line x1="169.6" y1="592.4" x2="172.7" y2="593.4" stroke="#fff" stroke-width="0.5" stroke-opacity="0.6"/><line x1="158.2" y1="575.0" x2="157.5" y2="571.5" stroke="#fff" stroke-width="0.5" stroke-opacity="0.6"/><line x1="171.6" y1="590.3" x2="174.2" y2="592.0" stroke="#fff" stroke-width="0.5" stroke-opacity="0.6"/><line x1="151.9" y1="569.4" x2="148.9" y2="567.7" stroke="#fff" stroke-width="0.5" stroke-opacity="0.6"/><line x1="144.3" y1="575.2" x2="140.5" y2="576.4" stroke="#fff" stroke-width="0.5" stroke-opacity="0.6"/><line x1="143.9" y1="582.4" x2="141.0" y2="582.8" stroke="#fff" stroke-width="0.5" stroke-opacity="0.6"/><line x1="157.5" y1="574.0" x2="157.9" y2="572.1" stroke="#fff" stroke-width="0.5" stroke-opacity="0.6"/><line x1="150.5" y1="569.0" x2="150.3" y2="567.5" stroke="#fff" stroke-width="0.5" stroke-opacity="0.6"/><line x1="166.6" y1="595.4" x2="168.2" y2="598.9" stroke="#fff" stroke-width="0.5" stroke-opacity="0.6"/>
<line x1="292.60" y1="305.30" x2="299.20" y2="305.30" stroke="#000" stroke-width="1.5" />
<text x="288.40" y="310.10" font-size="10.2" text-anchor="end" fill="#000" >0.00</text>
<line x1="292.60" y1="275.80" x2="299.20" y2="275.80" stroke="#000" stroke-width="1.5" />
<text x="288.40" y="280.60" font-size="10.2" text-anchor="end" fill="#000" >0.05</text>
<line x1="292.60" y1="246.40" x2="299.20" y2="246.40" stroke="#000" stroke-width="1.5" />
<text x="288.40" y="251.20" font-size="10.2" text-anchor="end" fill="#000" >0.10</text>
<line x1="292.60" y1="216.90" x2="299.20" y2="216.90" stroke="#000" stroke-width="1.5" />
<text x="288.40" y="221.70" font-size="10.2" text-anchor="end" fill="#000" >0.15</text>
<line x1="292.60" y1="187.30" x2="299.20" y2="187.30" stroke="#000" stroke-width="1.5" />
<text x="288.40" y="192.10" font-size="10.2" text-anchor="end" fill="#000" >0.20</text>
<line x1="299.20" y1="186.60" x2="299.20" y2="306.00" stroke="#000" stroke-width="1.5" />
<path d="M312.20,305.30 L312.20,234.22 L334.80,234.22 L334.80,305.30" fill="none" stroke="#111" stroke-width="1.65"/>
<path d="M348.70,305.30 L348.70,224.62 L371.30,224.62 L371.30,305.30" fill="none" stroke="#33d12e" stroke-width="1.65"/>
<path d="M385.20,305.30 L385.20,223.42 L407.80,223.42 L407.80,305.30" fill="none" stroke="#1a1aff" stroke-width="1.65"/>
<path d="M422.00,305.30 L422.00,216.32 L444.60,216.32 L444.60,305.30" fill="none" stroke="#ff2a1a" stroke-width="1.65"/>
<line x1="292.60" y1="305.30" x2="458.50" y2="305.30" stroke="#000" stroke-width="1.5" />
<line x1="323.50" y1="305.30" x2="323.50" y2="310.50" stroke="#000" stroke-width="1.5" />
<line x1="360.00" y1="305.30" x2="360.00" y2="310.50" stroke="#000" stroke-width="1.5" />
<line x1="396.50" y1="305.30" x2="396.50" y2="310.50" stroke="#000" stroke-width="1.5" />
<line x1="433.30" y1="305.30" x2="433.30" y2="310.50" stroke="#000" stroke-width="1.5" />
<line x1="323.50" y1="231.50" x2="323.50" y2="235.20" stroke="#111" stroke-width="1.0" />
<line x1="318.00" y1="231.50" x2="329.00" y2="231.50" stroke="#111" stroke-width="1.0" />
<line x1="318.00" y1="235.20" x2="329.00" y2="235.20" stroke="#111" stroke-width="1.0" />
<circle cx="314.00" cy="234.50" r="2.2" fill="#000"/>
<circle cx="323.20" cy="229.60" r="2.2" fill="#000"/>
<circle cx="323.20" cy="232.70" r="2.2" fill="#000"/>
<circle cx="333.70" cy="234.50" r="2.2" fill="#000"/>
<line x1="360.00" y1="222.00" x2="360.00" y2="226.00" stroke="#33d12e" stroke-width="1.0" />
<line x1="354.50" y1="222.00" x2="365.50" y2="222.00" stroke="#33d12e" stroke-width="1.0" />
<line x1="354.50" y1="226.00" x2="365.50" y2="226.00" stroke="#33d12e" stroke-width="1.0" />
<rect x="348.10" y="216.60" width="4.2" height="4.2" fill="#33d12e"/>
<rect x="358.00" y="218.70" width="4.2" height="4.2" fill="#33d12e"/>
<rect x="367.70" y="218.40" width="4.2" height="4.2" fill="#33d12e"/>
<rect x="353.30" y="222.60" width="4.2" height="4.2" fill="#33d12e"/>
<rect x="362.80" y="223.60" width="4.2" height="4.2" fill="#33d12e"/>
<rect x="358.00" y="228.30" width="4.2" height="4.2" fill="#33d12e"/>
<line x1="396.50" y1="220.50" x2="396.50" y2="224.60" stroke="#1a1aff" stroke-width="1.0" />
<line x1="391.00" y1="220.50" x2="402.00" y2="220.50" stroke="#1a1aff" stroke-width="1.0" />
<line x1="391.00" y1="224.60" x2="402.00" y2="224.60" stroke="#1a1aff" stroke-width="1.0" />
<path d="M387.00,217.60 L389.70,221.70 L384.30,221.70 Z" fill="#1a1aff"/>
<path d="M393.10,215.90 L395.80,220.00 L390.40,220.00 Z" fill="#1a1aff"/>
<path d="M399.90,218.90 L402.60,223.00 L397.20,223.00 Z" fill="#1a1aff"/>
<path d="M406.20,217.60 L408.90,221.70 L403.50,221.70 Z" fill="#1a1aff"/>
<path d="M393.10,225.50 L395.80,229.60 L390.40,229.60 Z" fill="#1a1aff"/>
<path d="M399.90,222.90 L402.60,227.00 L397.20,227.00 Z" fill="#1a1aff"/>
<line x1="433.30" y1="213.00" x2="433.30" y2="218.00" stroke="#ff2a1a" stroke-width="1.0" />
<line x1="427.80" y1="213.00" x2="438.80" y2="213.00" stroke="#ff2a1a" stroke-width="1.0" />
<line x1="427.80" y1="218.00" x2="438.80" y2="218.00" stroke="#ff2a1a" stroke-width="1.0" />
<path d="M428.50,212.90 L431.20,208.80 L425.80,208.80 Z" fill="#ff2a1a"/>
<path d="M438.10,212.90 L440.80,208.80 L435.40,208.80 Z" fill="#ff2a1a"/>
<path d="M423.70,218.70 L426.40,214.60 L421.00,214.60 Z" fill="#ff2a1a"/>
<path d="M432.90,219.30 L435.60,215.20 L430.20,215.20 Z" fill="#ff2a1a"/>
<path d="M443.00,218.70 L445.70,214.60 L440.30,214.60 Z" fill="#ff2a1a"/>
<path d="M423.70,221.70 L426.40,217.60 L421.00,217.60 Z" fill="#ff2a1a"/>
<line x1="323.20" y1="181.50" x2="434.00" y2="181.50" stroke="#1a1a1a" stroke-width="1.0" />
<text x="379.40" y="183.10" font-size="10.8" text-anchor="middle" fill="#111" >***</text>
<line x1="360.10" y1="194.50" x2="434.00" y2="194.50" stroke="#1a1a1a" stroke-width="1.0" />
<text x="396.40" y="195.40" font-size="10.8" text-anchor="middle" fill="#111" >**</text>
<line x1="397.00" y1="205.50" x2="434.00" y2="205.50" stroke="#1a1a1a" stroke-width="1.0" />
<text x="415.00" y="206.40" font-size="10.8" text-anchor="middle" fill="#111" >**</text>
<line x1="323.20" y1="211.50" x2="360.00" y2="211.50" stroke="#1a1a1a" stroke-width="1.0" />
<text x="341.50" y="213.80" font-size="10.8" text-anchor="middle" fill="#111" >**</text>
<text x="259.80" y="240.70" font-size="10.4" text-anchor="middle" transform="rotate(-90 259.80 240.70)">Ct.Th (mm)</text>
<text x="327.00" y="324.00" font-size="10.4" text-anchor="end" transform="rotate(-45 327.00 324.00)">PBS</text>
<text x="364.80" y="319.70" font-size="10.4" text-anchor="end" transform="rotate(-45 364.80 319.70)">WT-ADSCs</text>
<text x="401.90" y="323.80" font-size="10.4" text-anchor="middle" fill="#000" >Mock</text>
<text x="436.80" y="323.80" font-size="10.4" text-anchor="middle" fill="#000" >sLZIP</text>
<line x1="386.40" y1="330.50" x2="448.60" y2="330.50" stroke="#555" stroke-width="1.0" />
<text x="382.00" y="346.40" font-size="10.4" text-anchor="start" fill="#000" >WT-ADSCs<tspan font-size="6.9" dy="-2.9">LV-CXCR4</tspan></text>
<line x1="506.40" y1="305.30" x2="512.90" y2="305.30" stroke="#000" stroke-width="1.5" />
<text x="502.20" y="310.10" font-size="10.2" text-anchor="end" fill="#000" >0.0</text>
<line x1="506.40" y1="275.70" x2="512.90" y2="275.70" stroke="#000" stroke-width="1.5" />
<text x="502.20" y="280.50" font-size="10.2" text-anchor="end" fill="#000" >0.1</text>
<line x1="506.40" y1="246.20" x2="512.90" y2="246.20" stroke="#000" stroke-width="1.5" />
<text x="502.20" y="251.00" font-size="10.2" text-anchor="end" fill="#000" >0.2</text>
<line x1="506.40" y1="216.80" x2="512.90" y2="216.80" stroke="#000" stroke-width="1.5" />
<text x="502.20" y="221.60" font-size="10.2" text-anchor="end" fill="#000" >0.3</text>
<line x1="506.40" y1="187.30" x2="512.90" y2="187.30" stroke="#000" stroke-width="1.5" />
<text x="502.20" y="192.10" font-size="10.2" text-anchor="end" fill="#000" >0.4</text>
<line x1="512.90" y1="186.60" x2="512.90" y2="306.00" stroke="#000" stroke-width="1.5" />
<path d="M526.20,305.30 L526.20,232.62 L548.80,232.62 L548.80,305.30" fill="none" stroke="#111" stroke-width="1.65"/>
<path d="M562.70,305.30 L562.70,223.92 L585.30,223.92 L585.30,305.30" fill="none" stroke="#33d12e" stroke-width="1.65"/>
<path d="M599.10,305.30 L599.10,226.52 L621.70,226.52 L621.70,305.30" fill="none" stroke="#1a1aff" stroke-width="1.65"/>
<path d="M635.50,305.30 L635.50,210.22 L658.10,210.22 L658.10,305.30" fill="none" stroke="#ff2a1a" stroke-width="1.65"/>
<line x1="506.40" y1="305.30" x2="671.90" y2="305.30" stroke="#000" stroke-width="1.5" />
<line x1="537.50" y1="305.30" x2="537.50" y2="310.50" stroke="#000" stroke-width="1.5" />
<line x1="574.00" y1="305.30" x2="574.00" y2="310.50" stroke="#000" stroke-width="1.5" />
<line x1="610.40" y1="305.30" x2="610.40" y2="310.50" stroke="#000" stroke-width="1.5" />
<line x1="646.80" y1="305.30" x2="646.80" y2="310.50" stroke="#000" stroke-width="1.5" />
<line x1="537.50" y1="230.60" x2="537.50" y2="233.50" stroke="#111" stroke-width="1.0" />
<line x1="532.00" y1="230.60" x2="543.00" y2="230.60" stroke="#111" stroke-width="1.0" />
<line x1="532.00" y1="233.50" x2="543.00" y2="233.50" stroke="#111" stroke-width="1.0" />
<circle cx="527.40" cy="228.90" r="2.2" fill="#000"/>
<circle cx="537.10" cy="231.80" r="2.2" fill="#000"/>
<circle cx="537.10" cy="236.20" r="2.2" fill="#000"/>
<circle cx="547.10" cy="230.40" r="2.2" fill="#000"/>
<line x1="574.00" y1="220.40" x2="574.00" y2="226.00" stroke="#33d12e" stroke-width="1.0" />
<line x1="568.50" y1="220.40" x2="579.50" y2="220.40" stroke="#33d12e" stroke-width="1.0" />
<line x1="568.50" y1="226.00" x2="579.50" y2="226.00" stroke="#33d12e" stroke-width="1.0" />
<rect x="567.00" y="215.40" width="4.2" height="4.2" fill="#33d12e"/>
<rect x="576.30" y="212.60" width="4.2" height="4.2" fill="#33d12e"/>
<rect x="567.00" y="222.70" width="4.2" height="4.2" fill="#33d12e"/>
<rect x="576.30" y="218.90" width="4.2" height="4.2" fill="#33d12e"/>
<rect x="576.30" y="224.50" width="4.2" height="4.2" fill="#33d12e"/>
<rect x="571.60" y="228.90" width="4.2" height="4.2" fill="#33d12e"/>
<line x1="610.40" y1="223.10" x2="610.40" y2="228.20" stroke="#1a1aff" stroke-width="1.0" />
<line x1="604.90" y1="223.10" x2="615.90" y2="223.10" stroke="#1a1aff" stroke-width="1.0" />
<line x1="604.90" y1="228.20" x2="615.90" y2="228.20" stroke="#1a1aff" stroke-width="1.0" />
<path d="M610.30,213.40 L613.00,217.50 L607.60,217.50 Z" fill="#1a1aff"/>
<path d="M600.30,223.90 L603.00,228.00 L597.60,228.00 Z" fill="#1a1aff"/>
<path d="M607.70,223.90 L610.40,228.00 L605.00,228.00 Z" fill="#1a1aff"/>
<path d="M613.40,225.10 L616.10,229.20 L610.70,229.20 Z" fill="#1a1aff"/>
<path d="M620.10,223.40 L622.80,227.50 L617.40,227.50 Z" fill="#1a1aff"/>
<path d="M607.00,228.70 L609.70,232.80 L604.30,232.80 Z" fill="#1a1aff"/>
<line x1="646.80" y1="204.70" x2="646.80" y2="212.60" stroke="#ff2a1a" stroke-width="1.0" />
<line x1="641.30" y1="204.70" x2="652.30" y2="204.70" stroke="#ff2a1a" stroke-width="1.0" />
<line x1="641.30" y1="212.60" x2="652.30" y2="212.60" stroke="#ff2a1a" stroke-width="1.0" />
<path d="M642.00,202.90 L644.70,198.80 L639.30,198.80 Z" fill="#ff2a1a"/>
<path d="M651.40,200.00 L654.10,195.90 L648.70,195.90 Z" fill="#ff2a1a"/>
<path d="M651.40,205.20 L654.10,201.10 L648.70,201.10 Z" fill="#ff2a1a"/>
<path d="M642.00,222.70 L644.70,218.60 L639.30,218.60 Z" fill="#ff2a1a"/>
<path d="M651.40,221.90 L654.10,217.80 L648.70,217.80 Z" fill="#ff2a1a"/>
<path d="M647.00,212.30 L649.70,208.20 L644.30,208.20 Z" fill="#ff2a1a"/>
<line x1="536.70" y1="172.50" x2="647.00" y2="172.50" stroke="#1a1a1a" stroke-width="1.0" />
<text x="590.70" y="174.00" font-size="10.8" text-anchor="middle" fill="#111" >**</text>
<line x1="572.30" y1="182.50" x2="645.80" y2="182.50" stroke="#1a1a1a" stroke-width="1.0" />
<text x="606.40" y="183.60" font-size="10.8" text-anchor="middle" fill="#111" >*</text>
<line x1="610.50" y1="193.50" x2="647.00" y2="193.50" stroke="#1a1a1a" stroke-width="1.0" />
<text x="628.70" y="195.50" font-size="10.8" text-anchor="middle" fill="#111" >*</text>
<line x1="538.00" y1="210.50" x2="574.60" y2="210.50" stroke="#1a1a1a" stroke-width="1.0" />
<text x="556.00" y="212.50" font-size="10.8" text-anchor="middle" fill="#111" >*</text>
<text x="481.80" y="241.00" font-size="10.4" text-anchor="middle" transform="rotate(-90 481.80 241.00)">TMD (g/cm<tspan font-size="6.5" dy="-4">2</tspan><tspan dy="4">)</tspan></text>
<text x="540.80" y="323.30" font-size="10.4" text-anchor="end" transform="rotate(-45 540.80 323.30)">PBS</text>
<text x="580.40" y="319.10" font-size="10.4" text-anchor="end" transform="rotate(-45 580.40 319.10)">WT-ADSCs</text>
<text x="608.20" y="323.90" font-size="10.4" text-anchor="middle" fill="#000" >Mock</text>
<text x="646.80" y="323.90" font-size="10.4" text-anchor="middle" fill="#000" >sLZIP</text>
<line x1="598.00" y1="330.50" x2="661.00" y2="330.50" stroke="#555" stroke-width="1.0" />
<text x="594.70" y="346.50" font-size="10.4" text-anchor="start" fill="#000" >WT-ADSCs<tspan font-size="6.9" dy="-2.9">LV-CXCR4</tspan></text>
<line x1="292.90" y1="564.80" x2="299.90" y2="564.80" stroke="#000" stroke-width="1.5" />
<text x="287.90" y="569.60" font-size="10.2" text-anchor="end" fill="#000" >0.00</text>
<line x1="292.90" y1="535.40" x2="299.90" y2="535.40" stroke="#000" stroke-width="1.5" />
<text x="287.90" y="540.20" font-size="10.2" text-anchor="end" fill="#000" >0.01</text>
<line x1="292.90" y1="505.60" x2="299.90" y2="505.60" stroke="#000" stroke-width="1.5" />
<text x="287.90" y="510.40" font-size="10.2" text-anchor="end" fill="#000" >0.02</text>
<line x1="292.90" y1="475.80" x2="299.90" y2="475.80" stroke="#000" stroke-width="1.5" />
<text x="287.90" y="480.60" font-size="10.2" text-anchor="end" fill="#000" >0.03</text>
<line x1="292.90" y1="446.00" x2="299.90" y2="446.00" stroke="#000" stroke-width="1.5" />
<text x="287.90" y="450.80" font-size="10.2" text-anchor="end" fill="#000" >0.04</text>
<line x1="299.90" y1="445.30" x2="299.90" y2="565.50" stroke="#000" stroke-width="1.5" />
<path d="M312.70,564.80 L312.70,553.93 L335.30,553.93 L335.30,564.80" fill="none" stroke="#111" stroke-width="1.65"/>
<path d="M349.00,564.80 L349.00,521.53 L371.60,521.53 L371.60,564.80" fill="none" stroke="#33d12e" stroke-width="1.65"/>
<path d="M385.50,564.80 L385.50,502.93 L408.10,502.93 L408.10,564.80" fill="none" stroke="#1a1aff" stroke-width="1.65"/>
<path d="M421.70,564.80 L421.70,483.32 L444.30,483.32 L444.30,564.80" fill="none" stroke="#ff2a1a" stroke-width="1.65"/>
<line x1="292.90" y1="564.80" x2="457.50" y2="564.80" stroke="#000" stroke-width="1.5" />
<line x1="324.00" y1="564.80" x2="324.00" y2="570.00" stroke="#000" stroke-width="1.5" />
<line x1="360.30" y1="564.80" x2="360.30" y2="570.00" stroke="#000" stroke-width="1.5" />
<line x1="396.80" y1="564.80" x2="396.80" y2="570.00" stroke="#000" stroke-width="1.5" />
<line x1="433.00" y1="564.80" x2="433.00" y2="570.00" stroke="#000" stroke-width="1.5" />
<line x1="324.00" y1="547.30" x2="324.00" y2="558.30" stroke="#111" stroke-width="1.0" />
<line x1="318.50" y1="547.30" x2="329.50" y2="547.30" stroke="#111" stroke-width="1.0" />
<line x1="318.50" y1="558.30" x2="329.50" y2="558.30" stroke="#111" stroke-width="1.0" />
<circle cx="323.60" cy="537.30" r="2.2" fill="#000"/>
<circle cx="323.60" cy="552.20" r="2.2" fill="#000"/>
<circle cx="323.60" cy="558.70" r="2.2" fill="#000"/>
<circle cx="323.60" cy="562.20" r="2.2" fill="#000"/>
<line x1="360.30" y1="517.50" x2="360.30" y2="524.00" stroke="#33d12e" stroke-width="1.0" />
<line x1="354.80" y1="517.50" x2="365.80" y2="517.50" stroke="#33d12e" stroke-width="1.0" />
<line x1="354.80" y1="524.00" x2="365.80" y2="524.00" stroke="#33d12e" stroke-width="1.0" />
<rect x="348.40" y="513.20" width="4.2" height="4.2" fill="#33d12e"/>
<rect x="358.30" y="509.20" width="4.2" height="4.2" fill="#33d12e"/>
<rect x="358.30" y="515.70" width="4.2" height="4.2" fill="#33d12e"/>
<rect x="348.60" y="524.20" width="4.2" height="4.2" fill="#33d12e"/>
<rect x="358.10" y="523.90" width="4.2" height="4.2" fill="#33d12e"/>
<rect x="367.00" y="523.40" width="4.2" height="4.2" fill="#33d12e"/>
<line x1="396.80" y1="495.90" x2="396.80" y2="508.10" stroke="#1a1aff" stroke-width="1.0" />
<line x1="391.30" y1="495.90" x2="402.30" y2="495.90" stroke="#1a1aff" stroke-width="1.0" />
<line x1="391.30" y1="508.10" x2="402.30" y2="508.10" stroke="#1a1aff" stroke-width="1.0" />
<path d="M396.40,473.00 L399.10,477.10 L393.70,477.10 Z" fill="#1a1aff"/>
<path d="M390.90,497.80 L393.60,501.90 L388.20,501.90 Z" fill="#1a1aff"/>
<path d="M401.20,497.80 L403.90,501.90 L398.50,501.90 Z" fill="#1a1aff"/>
<path d="M396.40,503.20 L399.10,507.30 L393.70,507.30 Z" fill="#1a1aff"/>
<path d="M396.40,511.60 L399.10,515.70 L393.70,515.70 Z" fill="#1a1aff"/>
<path d="M396.40,516.10 L399.10,520.20 L393.70,520.20 Z" fill="#1a1aff"/>
<line x1="433.00" y1="477.60" x2="433.00" y2="485.60" stroke="#ff2a1a" stroke-width="1.0" />
<line x1="427.50" y1="477.60" x2="438.50" y2="477.60" stroke="#ff2a1a" stroke-width="1.0" />
<line x1="427.50" y1="485.60" x2="438.50" y2="485.60" stroke="#ff2a1a" stroke-width="1.0" />
<path d="M432.70,470.20 L435.40,466.10 L430.00,466.10 Z" fill="#ff2a1a"/>
<path d="M427.90,478.30 L430.60,474.20 L425.20,474.20 Z" fill="#ff2a1a"/>
<path d="M437.50,478.30 L440.20,474.20 L434.80,474.20 Z" fill="#ff2a1a"/>
<path d="M427.90,482.10 L430.60,478.00 L425.20,478.00 Z" fill="#ff2a1a"/>
<path d="M432.70,491.10 L435.40,487.00 L430.00,487.00 Z" fill="#ff2a1a"/>
<path d="M432.70,500.80 L435.40,496.70 L430.00,496.70 Z" fill="#ff2a1a"/>
<line x1="323.60" y1="442.50" x2="430.70" y2="442.50" stroke="#1a1a1a" stroke-width="1.0" />
<text x="375.00" y="442.80" font-size="10.8" text-anchor="middle" fill="#111" >***</text>
<line x1="358.40" y1="454.50" x2="430.70" y2="454.50" stroke="#1a1a1a" stroke-width="1.0" />
<text x="394.00" y="454.20" font-size="10.8" text-anchor="middle" fill="#111" >***</text>
<line x1="394.30" y1="465.50" x2="430.70" y2="465.50" stroke="#1a1a1a" stroke-width="1.0" />
<text x="413.60" y="465.80" font-size="10.8" text-anchor="middle" fill="#111" >*</text>
<line x1="358.40" y1="470.50" x2="394.00" y2="470.50" stroke="#1a1a1a" stroke-width="1.0" />
<text x="374.70" y="471.90" font-size="10.8" text-anchor="middle" fill="#111" >*</text>
<line x1="323.60" y1="505.50" x2="358.80" y2="505.50" stroke="#1a1a1a" stroke-width="1.0" />
<text x="341.00" y="506.80" font-size="10.8" text-anchor="middle" fill="#111" >***</text>
<text x="259.40" y="504.00" font-size="10.4" text-anchor="middle" transform="rotate(-90 259.40 504.00)">BMD (g/cm<tspan font-size="6.5" dy="-4">2</tspan><tspan dy="4">)</tspan></text>
<text x="323.20" y="586.00" font-size="10.4" text-anchor="end" transform="rotate(-45 323.20 586.00)">PBS</text>
<text x="365.30" y="580.70" font-size="10.4" text-anchor="end" transform="rotate(-45 365.30 580.70)">WT-ADSCs</text>
<text x="395.00" y="586.30" font-size="10.4" text-anchor="middle" fill="#000" >Mock</text>
<text x="433.30" y="586.30" font-size="10.4" text-anchor="middle" fill="#000" >sLZIP</text>
<line x1="384.50" y1="593.00" x2="447.00" y2="593.00" stroke="#555" stroke-width="1.0" />
<text x="380.70" y="607.60" font-size="10.4" text-anchor="start" fill="#000" >WT-ADSCs<tspan font-size="6.9" dy="-2.9">LV-CXCR4</tspan></text>
<line x1="507.70" y1="565.00" x2="514.10" y2="565.00" stroke="#000" stroke-width="1.5" />
<text x="501.70" y="569.80" font-size="10.2" text-anchor="end" fill="#000" >0</text>
<line x1="507.70" y1="524.80" x2="514.10" y2="524.80" stroke="#000" stroke-width="1.5" />
<text x="501.70" y="529.60" font-size="10.2" text-anchor="end" fill="#000" >2</text>
<line x1="507.70" y1="485.00" x2="514.10" y2="485.00" stroke="#000" stroke-width="1.5" />
<text x="501.70" y="489.80" font-size="10.2" text-anchor="end" fill="#000" >4</text>
<line x1="507.70" y1="444.70" x2="514.10" y2="444.70" stroke="#000" stroke-width="1.5" />
<text x="501.70" y="449.50" font-size="10.2" text-anchor="end" fill="#000" >6</text>
<line x1="514.10" y1="444.00" x2="514.10" y2="565.70" stroke="#000" stroke-width="1.5" />
<path d="M527.00,565.00 L527.00,497.93 L549.60,497.93 L549.60,565.00" fill="none" stroke="#111" stroke-width="1.65"/>
<path d="M563.00,565.00 L563.00,485.32 L585.60,485.32 L585.60,565.00" fill="none" stroke="#33d12e" stroke-width="1.65"/>
<path d="M599.70,565.00 L599.70,477.93 L622.30,477.93 L622.30,565.00" fill="none" stroke="#1a1aff" stroke-width="1.65"/>
<path d="M635.60,565.00 L635.60,462.12 L658.20,462.12 L658.20,565.00" fill="none" stroke="#ff2a1a" stroke-width="1.65"/>
<line x1="507.70" y1="565.00" x2="671.60" y2="565.00" stroke="#000" stroke-width="1.5" />
<line x1="538.30" y1="565.00" x2="538.30" y2="570.20" stroke="#000" stroke-width="1.5" />
<line x1="574.30" y1="565.00" x2="574.30" y2="570.20" stroke="#000" stroke-width="1.5" />
<line x1="611.00" y1="565.00" x2="611.00" y2="570.20" stroke="#000" stroke-width="1.5" />
<line x1="646.90" y1="565.00" x2="646.90" y2="570.20" stroke="#000" stroke-width="1.5" />
<line x1="538.30" y1="492.50" x2="538.30" y2="501.40" stroke="#111" stroke-width="1.0" />
<line x1="532.80" y1="492.50" x2="543.80" y2="492.50" stroke="#111" stroke-width="1.0" />
<line x1="532.80" y1="501.40" x2="543.80" y2="501.40" stroke="#111" stroke-width="1.0" />
<circle cx="538.20" cy="486.60" r="2.2" fill="#000"/>
<circle cx="538.20" cy="493.20" r="2.2" fill="#000"/>
<circle cx="538.20" cy="501.40" r="2.2" fill="#000"/>
<circle cx="538.20" cy="506.30" r="2.2" fill="#000"/>
<line x1="574.30" y1="478.00" x2="574.30" y2="489.00" stroke="#33d12e" stroke-width="1.0" />
<line x1="568.80" y1="478.00" x2="579.80" y2="478.00" stroke="#33d12e" stroke-width="1.0" />
<line x1="568.80" y1="489.00" x2="579.80" y2="489.00" stroke="#33d12e" stroke-width="1.0" />
<rect x="572.20" y="468.80" width="4.2" height="4.2" fill="#33d12e"/>
<rect x="572.20" y="475.70" width="4.2" height="4.2" fill="#33d12e"/>
<rect x="567.30" y="479.60" width="4.2" height="4.2" fill="#33d12e"/>
<rect x="577.20" y="479.60" width="4.2" height="4.2" fill="#33d12e"/>
<rect x="572.20" y="485.50" width="4.2" height="4.2" fill="#33d12e"/>
<rect x="572.20" y="501.90" width="4.2" height="4.2" fill="#33d12e"/>
<line x1="611.00" y1="473.00" x2="611.00" y2="481.00" stroke="#1a1aff" stroke-width="1.0" />
<line x1="605.50" y1="473.00" x2="616.50" y2="473.00" stroke="#1a1aff" stroke-width="1.0" />
<line x1="605.50" y1="481.00" x2="616.50" y2="481.00" stroke="#1a1aff" stroke-width="1.0" />
<path d="M610.50,465.30 L613.20,469.40 L607.80,469.40 Z" fill="#1a1aff"/>
<path d="M605.20,471.20 L607.90,475.30 L602.50,475.30 Z" fill="#1a1aff"/>
<path d="M616.00,471.20 L618.70,475.30 L613.30,475.30 Z" fill="#1a1aff"/>
<path d="M605.20,477.70 L607.90,481.80 L602.50,481.80 Z" fill="#1a1aff"/>
<path d="M616.00,477.70 L618.70,481.80 L613.30,481.80 Z" fill="#1a1aff"/>
<path d="M610.50,483.30 L613.20,487.40 L607.80,487.40 Z" fill="#1a1aff"/>
<line x1="646.90" y1="458.00" x2="646.90" y2="464.00" stroke="#ff2a1a" stroke-width="1.0" />
<line x1="641.40" y1="458.00" x2="652.40" y2="458.00" stroke="#ff2a1a" stroke-width="1.0" />
<line x1="641.40" y1="464.00" x2="652.40" y2="464.00" stroke="#ff2a1a" stroke-width="1.0" />
<path d="M646.60,457.70 L649.30,453.60 L643.90,453.60 Z" fill="#ff2a1a"/>
<path d="M636.40,460.30 L639.10,456.20 L633.70,456.20 Z" fill="#ff2a1a"/>
<path d="M656.50,460.30 L659.20,456.20 L653.80,456.20 Z" fill="#ff2a1a"/>
<path d="M642.30,462.60 L645.00,458.50 L639.60,458.50 Z" fill="#ff2a1a"/>
<path d="M650.50,462.60 L653.20,458.50 L647.80,458.50 Z" fill="#ff2a1a"/>
<path d="M646.60,474.10 L649.30,470.00 L643.90,470.00 Z" fill="#ff2a1a"/>
<line x1="537.40" y1="429.50" x2="643.80" y2="429.50" stroke="#1a1a1a" stroke-width="1.0" />
<text x="589.50" y="428.70" font-size="10.8" text-anchor="middle" fill="#111" >***</text>
<line x1="572.90" y1="439.50" x2="643.00" y2="439.50" stroke="#1a1a1a" stroke-width="1.0" />
<text x="609.70" y="439.80" font-size="10.8" text-anchor="middle" fill="#111" >**</text>
<line x1="608.40" y1="450.50" x2="643.80" y2="450.50" stroke="#1a1a1a" stroke-width="1.0" />
<text x="627.20" y="450.30" font-size="10.8" text-anchor="middle" fill="#111" >**</text>
<text x="489.10" y="503.00" font-size="10.4" text-anchor="middle" transform="rotate(-90 489.10 503.00)">BV/TV (%)</text>
<text x="539.00" y="584.70" font-size="10.4" text-anchor="end" transform="rotate(-45 539.00 584.70)">PBS</text>
<text x="576.40" y="582.30" font-size="10.4" text-anchor="end" transform="rotate(-45 576.40 582.30)">WT-ADSCs</text>
<text x="608.00" y="584.70" font-size="10.4" text-anchor="middle" fill="#000" >Mock</text>
<text x="646.10" y="584.70" font-size="10.4" text-anchor="middle" fill="#000" >sLZIP</text>
<line x1="596.70" y1="591.30" x2="659.60" y2="591.30" stroke="#555" stroke-width="1.0" />
<text x="593.10" y="607.00" font-size="10.4" text-anchor="start" fill="#000" >WT-ADSCs<tspan font-size="6.9" dy="-2.9">LV-CXCR4</tspan></text>
<line x1="53.60" y1="816.50" x2="59.90" y2="816.50" stroke="#000" stroke-width="1.5" />
<text x="50.30" y="821.30" font-size="10.2" text-anchor="end" fill="#000" >0.00</text>
<line x1="53.60" y1="776.90" x2="59.90" y2="776.90" stroke="#000" stroke-width="1.5" />
<text x="50.30" y="781.70" font-size="10.2" text-anchor="end" fill="#000" >0.02</text>
<line x1="53.60" y1="737.10" x2="59.90" y2="737.10" stroke="#000" stroke-width="1.5" />
<text x="50.30" y="741.90" font-size="10.2" text-anchor="end" fill="#000" >0.04</text>
<line x1="53.60" y1="697.50" x2="59.90" y2="697.50" stroke="#000" stroke-width="1.5" />
<text x="50.30" y="702.30" font-size="10.2" text-anchor="end" fill="#000" >0.06</text>
<line x1="59.90" y1="696.80" x2="59.90" y2="817.20" stroke="#000" stroke-width="1.5" />
<path d="M72.20,816.50 L72.20,736.03 L94.80,736.03 L94.80,816.50" fill="none" stroke="#111" stroke-width="1.65"/>
<path d="M107.60,816.50 L107.60,730.03 L130.20,730.03 L130.20,816.50" fill="none" stroke="#33d12e" stroke-width="1.65"/>
<path d="M143.00,816.50 L143.00,728.33 L165.60,728.33 L165.60,816.50" fill="none" stroke="#1a1aff" stroke-width="1.65"/>
<path d="M178.40,816.50 L178.40,720.43 L201.00,720.43 L201.00,816.50" fill="none" stroke="#ff2a1a" stroke-width="1.65"/>
<line x1="53.60" y1="816.50" x2="213.70" y2="816.50" stroke="#000" stroke-width="1.5" />
<line x1="83.50" y1="816.50" x2="83.50" y2="821.70" stroke="#000" stroke-width="1.5" />
<line x1="118.90" y1="816.50" x2="118.90" y2="821.70" stroke="#000" stroke-width="1.5" />
<line x1="154.30" y1="816.50" x2="154.30" y2="821.70" stroke="#000" stroke-width="1.5" />
<line x1="189.70" y1="816.50" x2="189.70" y2="821.70" stroke="#000" stroke-width="1.5" />
<line x1="83.50" y1="730.40" x2="83.50" y2="739.20" stroke="#111" stroke-width="1.0" />
<line x1="78.00" y1="730.40" x2="89.00" y2="730.40" stroke="#111" stroke-width="1.0" />
<line x1="78.00" y1="739.20" x2="89.00" y2="739.20" stroke="#111" stroke-width="1.0" />
<circle cx="83.40" cy="725.20" r="2.2" fill="#000"/>
<circle cx="83.40" cy="729.60" r="2.2" fill="#000"/>
<circle cx="83.40" cy="739.20" r="2.2" fill="#000"/>
<circle cx="83.40" cy="744.10" r="2.2" fill="#000"/>
<line x1="118.90" y1="729.00" x2="118.90" y2="733.00" stroke="#33d12e" stroke-width="1.0" />
<line x1="113.40" y1="729.00" x2="124.40" y2="729.00" stroke="#33d12e" stroke-width="1.0" />
<line x1="113.40" y1="733.00" x2="124.40" y2="733.00" stroke="#33d12e" stroke-width="1.0" />
<rect x="107.20" y="728.00" width="4.2" height="4.2" fill="#33d12e"/>
<rect x="116.00" y="729.20" width="4.2" height="4.2" fill="#33d12e"/>
<rect x="121.30" y="729.60" width="4.2" height="4.2" fill="#33d12e"/>
<rect x="126.20" y="728.00" width="4.2" height="4.2" fill="#33d12e"/>
<rect x="111.60" y="733.60" width="4.2" height="4.2" fill="#33d12e"/>
<line x1="154.30" y1="725.20" x2="154.30" y2="729.20" stroke="#1a1aff" stroke-width="1.0" />
<line x1="148.80" y1="725.20" x2="159.80" y2="725.20" stroke="#1a1aff" stroke-width="1.0" />
<line x1="148.80" y1="729.20" x2="159.80" y2="729.20" stroke="#1a1aff" stroke-width="1.0" />
<path d="M149.40,719.90 L152.10,724.00 L146.70,724.00 Z" fill="#1a1aff"/>
<path d="M159.00,718.20 L161.70,722.30 L156.30,722.30 Z" fill="#1a1aff"/>
<path d="M145.00,729.00 L147.70,733.10 L142.30,733.10 Z" fill="#1a1aff"/>
<path d="M153.80,727.30 L156.50,731.40 L151.10,731.40 Z" fill="#1a1aff"/>
<path d="M163.40,727.30 L166.10,731.40 L160.70,731.40 Z" fill="#1a1aff"/>
<path d="M145.00,730.70 L147.70,734.80 L142.30,734.80 Z" fill="#1a1aff"/>
<line x1="189.70" y1="717.00" x2="189.70" y2="721.30" stroke="#ff2a1a" stroke-width="1.0" />
<line x1="184.20" y1="717.00" x2="195.20" y2="717.00" stroke="#ff2a1a" stroke-width="1.0" />
<line x1="184.20" y1="721.30" x2="195.20" y2="721.30" stroke="#ff2a1a" stroke-width="1.0" />
<path d="M180.10,715.20 L182.80,711.10 L177.40,711.10 Z" fill="#ff2a1a"/>
<path d="M199.30,717.90 L202.00,713.80 L196.60,713.80 Z" fill="#ff2a1a"/>
<path d="M189.70,718.70 L192.40,714.60 L187.00,714.60 Z" fill="#ff2a1a"/>
<path d="M180.10,726.60 L182.80,722.50 L177.40,722.50 Z" fill="#ff2a1a"/>
<path d="M189.70,724.50 L192.40,720.40 L187.00,720.40 Z" fill="#ff2a1a"/>
<path d="M198.50,724.90 L201.20,720.80 L195.80,720.80 Z" fill="#ff2a1a"/>
<line x1="83.40" y1="687.50" x2="189.70" y2="687.50" stroke="#1a1a1a" stroke-width="1.0" />
<text x="136.30" y="687.50" font-size="10.8" text-anchor="middle" fill="#111" >**</text>
<line x1="118.40" y1="697.50" x2="189.70" y2="697.50" stroke="#1a1a1a" stroke-width="1.0" />
<text x="152.00" y="698.50" font-size="10.8" text-anchor="middle" fill="#111" >***</text>
<line x1="153.80" y1="707.50" x2="189.70" y2="707.50" stroke="#1a1a1a" stroke-width="1.0" />
<text x="169.20" y="709.10" font-size="10.8" text-anchor="middle" fill="#111" >*</text>
<text x="23.80" y="756.50" font-size="10.4" text-anchor="middle" transform="rotate(-90 23.80 756.50)">Tb.Th (mm)</text>
<text x="77.80" y="837.80" font-size="10.4" text-anchor="end" transform="rotate(-45 77.80 837.80)">PBS</text>
<text x="122.20" y="832.50" font-size="10.4" text-anchor="end" transform="rotate(-45 122.20 832.50)">WT-ADSCs</text>
<text x="154.50" y="838.20" font-size="10.4" text-anchor="middle" fill="#000" >Mock</text>
<text x="190.60" y="838.20" font-size="10.4" text-anchor="middle" fill="#000" >sLZIP</text>
<line x1="139.60" y1="844.30" x2="202.40" y2="844.30" stroke="#555" stroke-width="1.0" />
<text x="135.00" y="859.60" font-size="10.4" text-anchor="start" fill="#000" >WT-ADSCs<tspan font-size="6.9" dy="-2.9">LV-CXCR4</tspan></text>
<line x1="293.40" y1="816.20" x2="300.20" y2="816.20" stroke="#000" stroke-width="1.5" />
<text x="287.30" y="821.00" font-size="10.2" text-anchor="end" fill="#000" >0.0</text>
<line x1="293.40" y1="776.00" x2="300.20" y2="776.00" stroke="#000" stroke-width="1.5" />
<text x="287.30" y="780.80" font-size="10.2" text-anchor="end" fill="#000" >0.5</text>
<line x1="293.40" y1="736.60" x2="300.20" y2="736.60" stroke="#000" stroke-width="1.5" />
<text x="287.30" y="741.40" font-size="10.2" text-anchor="end" fill="#000" >1.0</text>
<line x1="293.40" y1="696.80" x2="300.20" y2="696.80" stroke="#000" stroke-width="1.5" />
<text x="287.30" y="701.60" font-size="10.2" text-anchor="end" fill="#000" >1.5</text>
<line x1="300.20" y1="696.10" x2="300.20" y2="816.90" stroke="#000" stroke-width="1.5" />
<path d="M312.80,816.20 L312.80,755.83 L335.40,755.83 L335.40,816.20" fill="none" stroke="#111" stroke-width="1.65"/>
<path d="M349.10,816.20 L349.10,741.33 L371.70,741.33 L371.70,816.20" fill="none" stroke="#33d12e" stroke-width="1.65"/>
<path d="M385.70,816.20 L385.70,739.12 L408.30,739.12 L408.30,816.20" fill="none" stroke="#1a1aff" stroke-width="1.65"/>
<path d="M422.00,816.20 L422.00,730.73 L444.60,730.73 L444.60,816.20" fill="none" stroke="#ff2a1a" stroke-width="1.65"/>
<line x1="293.40" y1="816.20" x2="458.50" y2="816.20" stroke="#000" stroke-width="1.5" />
<line x1="324.10" y1="816.20" x2="324.10" y2="821.40" stroke="#000" stroke-width="1.5" />
<line x1="360.40" y1="816.20" x2="360.40" y2="821.40" stroke="#000" stroke-width="1.5" />
<line x1="397.00" y1="816.20" x2="397.00" y2="821.40" stroke="#000" stroke-width="1.5" />
<line x1="433.30" y1="816.20" x2="433.30" y2="821.40" stroke="#000" stroke-width="1.5" />
<line x1="324.10" y1="751.10" x2="324.10" y2="758.10" stroke="#111" stroke-width="1.0" />
<line x1="318.60" y1="751.10" x2="329.60" y2="751.10" stroke="#111" stroke-width="1.0" />
<line x1="318.60" y1="758.10" x2="329.60" y2="758.10" stroke="#111" stroke-width="1.0" />
<circle cx="319.10" cy="750.80" r="2.2" fill="#000"/>
<circle cx="328.70" cy="748.50" r="2.2" fill="#000"/>
<circle cx="323.80" cy="755.90" r="2.2" fill="#000"/>
<circle cx="323.80" cy="763.50" r="2.2" fill="#000"/>
<line x1="360.40" y1="738.00" x2="360.40" y2="743.20" stroke="#33d12e" stroke-width="1.0" />
<line x1="354.90" y1="738.00" x2="365.90" y2="738.00" stroke="#33d12e" stroke-width="1.0" />
<line x1="354.90" y1="743.20" x2="365.90" y2="743.20" stroke="#33d12e" stroke-width="1.0" />
<rect x="348.80" y="736.20" width="4.2" height="4.2" fill="#33d12e"/>
<rect x="358.60" y="730.60" width="4.2" height="4.2" fill="#33d12e"/>
<rect x="358.60" y="734.10" width="4.2" height="4.2" fill="#33d12e"/>
<rect x="368.60" y="737.60" width="4.2" height="4.2" fill="#33d12e"/>
<rect x="358.60" y="742.90" width="4.2" height="4.2" fill="#33d12e"/>
<rect x="358.60" y="748.50" width="4.2" height="4.2" fill="#33d12e"/>
<line x1="397.00" y1="735.20" x2="397.00" y2="740.10" stroke="#1a1aff" stroke-width="1.0" />
<line x1="391.50" y1="735.20" x2="402.50" y2="735.20" stroke="#1a1aff" stroke-width="1.0" />
<line x1="391.50" y1="740.10" x2="402.50" y2="740.10" stroke="#1a1aff" stroke-width="1.0" />
<path d="M396.90,725.50 L399.60,729.60 L394.20,729.60 Z" fill="#1a1aff"/>
<path d="M387.00,737.40 L389.70,741.50 L384.30,741.50 Z" fill="#1a1aff"/>
<path d="M400.40,739.50 L403.10,743.60 L397.70,743.60 Z" fill="#1a1aff"/>
<path d="M406.20,739.20 L408.90,743.30 L403.50,743.30 Z" fill="#1a1aff"/>
<path d="M387.00,739.90 L389.70,744.00 L384.30,744.00 Z" fill="#1a1aff"/>
<path d="M396.90,735.10 L399.60,739.20 L394.20,739.20 Z" fill="#1a1aff"/>
<line x1="433.30" y1="727.00" x2="433.30" y2="732.00" stroke="#ff2a1a" stroke-width="1.0" />
<line x1="427.80" y1="727.00" x2="438.80" y2="727.00" stroke="#ff2a1a" stroke-width="1.0" />
<line x1="427.80" y1="732.00" x2="438.80" y2="732.00" stroke="#ff2a1a" stroke-width="1.0" />
<path d="M423.70,729.80 L426.40,725.70 L421.00,725.70 Z" fill="#ff2a1a"/>
<path d="M430.20,728.70 L432.90,724.60 L427.50,724.60 Z" fill="#ff2a1a"/>
<path d="M436.70,729.80 L439.40,725.70 L434.00,725.70 Z" fill="#ff2a1a"/>
<path d="M443.40,731.50 L446.10,727.40 L440.70,727.40 Z" fill="#ff2a1a"/>
<path d="M436.00,735.00 L438.70,730.90 L433.30,730.90 Z" fill="#ff2a1a"/>
<path d="M424.10,735.70 L426.80,731.60 L421.40,731.60 Z" fill="#ff2a1a"/>
<line x1="323.20" y1="687.50" x2="429.00" y2="687.50" stroke="#1a1a1a" stroke-width="1.0" />
<text x="380.00" y="688.00" font-size="10.8" text-anchor="middle" fill="#111" >***</text>
<line x1="358.40" y1="698.50" x2="429.00" y2="698.50" stroke="#1a1a1a" stroke-width="1.0" />
<text x="394.70" y="699.80" font-size="10.8" text-anchor="middle" fill="#111" >**</text>
<line x1="392.90" y1="708.50" x2="429.00" y2="708.50" stroke="#1a1a1a" stroke-width="1.0" />
<text x="411.50" y="710.80" font-size="10.8" text-anchor="middle" fill="#111" >*</text>
<line x1="323.20" y1="723.50" x2="357.90" y2="723.50" stroke="#1a1a1a" stroke-width="1.0" />
<text x="340.20" y="723.80" font-size="10.8" text-anchor="middle" fill="#111" >**</text>
<text x="264.80" y="761.00" font-size="10.4" text-anchor="middle" transform="rotate(-90 264.80 761.00)">Tb.N/mm</text>
<text x="324.80" y="835.50" font-size="10.4" text-anchor="end" transform="rotate(-45 324.80 835.50)">PBS</text>
<text x="362.50" y="831.40" font-size="10.4" text-anchor="end" transform="rotate(-45 362.50 831.40)">WT-ADSCs</text>
<text x="392.80" y="835.70" font-size="10.4" text-anchor="middle" fill="#000" >Mock</text>
<text x="430.10" y="835.70" font-size="10.4" text-anchor="middle" fill="#000" >sLZIP</text>
<line x1="379.40" y1="842.20" x2="442.20" y2="842.20" stroke="#555" stroke-width="1.0" />
<text x="374.20" y="857.50" font-size="10.4" text-anchor="start" fill="#000" >WT-ADSCs<tspan font-size="6.9" dy="-2.9">LV-CXCR4</tspan></text>
<line x1="506.30" y1="816.70" x2="512.60" y2="816.70" stroke="#000" stroke-width="1.5" />
<text x="500.30" y="821.50" font-size="10.2" text-anchor="end" fill="#000" >0.0</text>
<line x1="506.30" y1="776.90" x2="512.60" y2="776.90" stroke="#000" stroke-width="1.5" />
<text x="500.30" y="781.70" font-size="10.2" text-anchor="end" fill="#000" >0.5</text>
<line x1="506.30" y1="737.10" x2="512.60" y2="737.10" stroke="#000" stroke-width="1.5" />
<text x="500.30" y="741.90" font-size="10.2" text-anchor="end" fill="#000" >1.0</text>
<line x1="506.30" y1="697.50" x2="512.60" y2="697.50" stroke="#000" stroke-width="1.5" />
<text x="500.30" y="702.30" font-size="10.2" text-anchor="end" fill="#000" >1.5</text>
<line x1="512.60" y1="696.80" x2="512.60" y2="817.40" stroke="#000" stroke-width="1.5" />
<path d="M525.90,816.70 L525.90,717.23 L548.50,717.23 L548.50,816.70" fill="none" stroke="#111" stroke-width="1.65"/>
<path d="M562.00,816.70 L562.00,737.93 L584.60,737.93 L584.60,816.70" fill="none" stroke="#33d12e" stroke-width="1.65"/>
<path d="M598.50,816.70 L598.50,740.93 L621.10,740.93 L621.10,816.70" fill="none" stroke="#1a1aff" stroke-width="1.65"/>
<path d="M635.00,816.70 L635.00,746.53 L657.60,746.53 L657.60,816.70" fill="none" stroke="#ff2a1a" stroke-width="1.65"/>
<line x1="506.30" y1="816.70" x2="671.20" y2="816.70" stroke="#000" stroke-width="1.5" />
<line x1="537.20" y1="816.70" x2="537.20" y2="821.90" stroke="#000" stroke-width="1.5" />
<line x1="573.30" y1="816.70" x2="573.30" y2="821.90" stroke="#000" stroke-width="1.5" />
<line x1="609.80" y1="816.70" x2="609.80" y2="821.90" stroke="#000" stroke-width="1.5" />
<line x1="646.30" y1="816.70" x2="646.30" y2="821.90" stroke="#000" stroke-width="1.5" />
<line x1="537.20" y1="710.60" x2="537.20" y2="722.20" stroke="#111" stroke-width="1.0" />
<line x1="531.70" y1="710.60" x2="542.70" y2="710.60" stroke="#111" stroke-width="1.0" />
<line x1="531.70" y1="722.20" x2="542.70" y2="722.20" stroke="#111" stroke-width="1.0" />
<circle cx="536.90" cy="700.70" r="2.2" fill="#000"/>
<circle cx="536.90" cy="715.20" r="2.2" fill="#000"/>
<circle cx="532.20" cy="726.90" r="2.2" fill="#000"/>
<circle cx="541.50" cy="723.40" r="2.2" fill="#000"/>
<line x1="573.30" y1="733.00" x2="573.30" y2="741.50" stroke="#33d12e" stroke-width="1.0" />
<line x1="567.80" y1="733.00" x2="578.80" y2="733.00" stroke="#33d12e" stroke-width="1.0" />
<line x1="567.80" y1="741.50" x2="578.80" y2="741.50" stroke="#33d12e" stroke-width="1.0" />
<rect x="571.30" y="720.50" width="4.2" height="4.2" fill="#33d12e"/>
<rect x="566.40" y="728.30" width="4.2" height="4.2" fill="#33d12e"/>
<rect x="576.20" y="731.90" width="4.2" height="4.2" fill="#33d12e"/>
<rect x="566.40" y="734.80" width="4.2" height="4.2" fill="#33d12e"/>
<rect x="566.40" y="745.90" width="4.2" height="4.2" fill="#33d12e"/>
<rect x="576.20" y="745.90" width="4.2" height="4.2" fill="#33d12e"/>
<line x1="609.80" y1="738.00" x2="609.80" y2="742.00" stroke="#1a1aff" stroke-width="1.0" />
<line x1="604.30" y1="738.00" x2="615.30" y2="738.00" stroke="#1a1aff" stroke-width="1.0" />
<line x1="604.30" y1="742.00" x2="615.30" y2="742.00" stroke="#1a1aff" stroke-width="1.0" />
<path d="M600.00,733.40 L602.70,737.50 L597.30,737.50 Z" fill="#1a1aff"/>
<path d="M609.70,733.40 L612.40,737.50 L607.00,737.50 Z" fill="#1a1aff"/>
<path d="M619.70,736.00 L622.40,740.10 L617.00,740.10 Z" fill="#1a1aff"/>
<path d="M600.00,742.20 L602.70,746.30 L597.30,746.30 Z" fill="#1a1aff"/>
<path d="M609.70,738.70 L612.40,742.80 L607.00,742.80 Z" fill="#1a1aff"/>
<path d="M620.20,742.20 L622.90,746.30 L617.50,746.30 Z" fill="#1a1aff"/>
<line x1="646.30" y1="741.80" x2="646.30" y2="749.00" stroke="#ff2a1a" stroke-width="1.0" />
<line x1="640.80" y1="741.80" x2="651.80" y2="741.80" stroke="#ff2a1a" stroke-width="1.0" />
<line x1="640.80" y1="749.00" x2="651.80" y2="749.00" stroke="#ff2a1a" stroke-width="1.0" />
<path d="M645.90,740.60 L648.60,736.50 L643.20,736.50 Z" fill="#ff2a1a"/>
<path d="M645.90,744.10 L648.60,740.00 L643.20,740.00 Z" fill="#ff2a1a"/>
<path d="M636.00,750.80 L638.70,746.70 L633.30,746.70 Z" fill="#ff2a1a"/>
<path d="M655.70,746.80 L658.40,742.70 L653.00,742.70 Z" fill="#ff2a1a"/>
<path d="M645.90,749.40 L648.60,745.30 L643.20,745.30 Z" fill="#ff2a1a"/>
<path d="M655.70,750.80 L658.40,746.70 L653.00,746.70 Z" fill="#ff2a1a"/>
<line x1="535.70" y1="687.50" x2="640.30" y2="687.50" stroke="#1a1a1a" stroke-width="1.0" />
<text x="586.40" y="688.00" font-size="10.8" text-anchor="middle" fill="#111" >***</text>
<line x1="535.70" y1="696.50" x2="571.30" y2="696.50" stroke="#1a1a1a" stroke-width="1.0" />
<text x="552.00" y="698.00" font-size="10.8" text-anchor="middle" fill="#111" >*</text>
<line x1="606.50" y1="727.50" x2="640.30" y2="727.50" stroke="#1a1a1a" stroke-width="1.0" />
<text x="623.70" y="729.20" font-size="10.8" text-anchor="middle" fill="#111" >*</text>
<text x="481.50" y="758.80" font-size="10.4" text-anchor="middle" transform="rotate(-90 481.50 758.80)">Tb.Sp (mm)</text>
<text x="538.50" y="837.80" font-size="10.4" text-anchor="end" transform="rotate(-45 538.50 837.80)">PBS</text>
<text x="576.30" y="833.30" font-size="10.4" text-anchor="end" transform="rotate(-45 576.30 833.30)">WT-ADSCs</text>
<text x="607.30" y="837.30" font-size="10.4" text-anchor="middle" fill="#000" >Mock</text>
<text x="644.40" y="837.30" font-size="10.4" text-anchor="middle" fill="#000" >sLZIP</text>
<line x1="595.20" y1="844.30" x2="658.30" y2="844.30" stroke="#555" stroke-width="1.0" />
<text x="590.90" y="859.60" font-size="10.4" text-anchor="start" fill="#000" >WT-ADSCs<tspan font-size="6.9" dy="-2.9">LV-CXCR4</tspan></text>
</svg></body></html>
